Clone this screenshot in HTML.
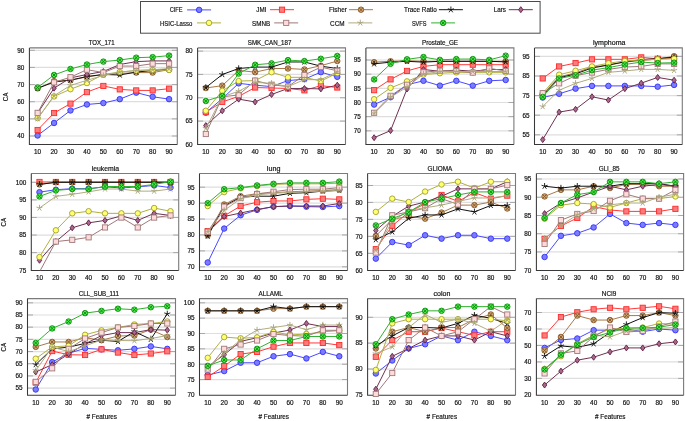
<!DOCTYPE html>
<html><head><meta charset="utf-8"><style>
html,body{margin:0;padding:0;background:#fff;}
body{width:685px;height:421px;position:relative;overflow:hidden;}
</style></head><body>
<svg width="685" height="421" viewBox="0 0 685 421" style="position:absolute;left:0;top:0;will-change:transform"><rect width="685" height="421" fill="#fff"/><g font-family='"Liberation Sans", sans-serif' fill='#111111' stroke='#111111' stroke-width='0.18'><clipPath id="c1"><rect x="29.4" y="47.9" width="147.9" height="96.5"/></clipPath><line x1="29.4" x2="177.3" y1="136.00" y2="136.00" stroke="#dedede" stroke-width="1.2"/><line x1="29.4" x2="34.9" y1="136.00" y2="136.00" stroke="#a8a8a8" stroke-width="1"/><line x1="171.8" x2="177.3" y1="136.00" y2="136.00" stroke="#a8a8a8" stroke-width="1"/><line x1="29.4" x2="177.3" y1="118.86" y2="118.86" stroke="#dedede" stroke-width="1.2"/><line x1="29.4" x2="34.9" y1="118.86" y2="118.86" stroke="#a8a8a8" stroke-width="1"/><line x1="171.8" x2="177.3" y1="118.86" y2="118.86" stroke="#a8a8a8" stroke-width="1"/><line x1="29.4" x2="177.3" y1="101.72" y2="101.72" stroke="#dedede" stroke-width="1.2"/><line x1="29.4" x2="34.9" y1="101.72" y2="101.72" stroke="#a8a8a8" stroke-width="1"/><line x1="171.8" x2="177.3" y1="101.72" y2="101.72" stroke="#a8a8a8" stroke-width="1"/><line x1="29.4" x2="177.3" y1="84.58" y2="84.58" stroke="#dedede" stroke-width="1.2"/><line x1="29.4" x2="34.9" y1="84.58" y2="84.58" stroke="#a8a8a8" stroke-width="1"/><line x1="171.8" x2="177.3" y1="84.58" y2="84.58" stroke="#a8a8a8" stroke-width="1"/><line x1="29.4" x2="177.3" y1="67.44" y2="67.44" stroke="#dedede" stroke-width="1.2"/><line x1="29.4" x2="34.9" y1="67.44" y2="67.44" stroke="#a8a8a8" stroke-width="1"/><line x1="171.8" x2="177.3" y1="67.44" y2="67.44" stroke="#a8a8a8" stroke-width="1"/><line x1="29.4" x2="177.3" y1="50.30" y2="50.30" stroke="#dedede" stroke-width="1.2"/><line x1="29.4" x2="34.9" y1="50.30" y2="50.30" stroke="#a8a8a8" stroke-width="1"/><line x1="171.8" x2="177.3" y1="50.30" y2="50.30" stroke="#a8a8a8" stroke-width="1"/><path d="M29.4 47.9H177.3V144.4" fill="none" stroke="#7a7a7a" stroke-width="1.1"/><path d="M29.4 47.9V144.4H177.3" fill="none" stroke="#383838" stroke-width="1.05"/><g><path d="M37.62 135.49L54.05 122.97L70.48 110.46L86.92 104.46L103.35 103.09L119.78 99.15L136.22 92.64L152.65 96.75L169.08 99.15" fill="none" stroke="#4a4aff" stroke-width="1.0" clip-path="url(#c1)"/><circle cx="37.62" cy="135.49" r="2.75" fill="#7c7cff" stroke="#3030ff" stroke-width="0.9"/><circle cx="54.05" cy="122.97" r="2.75" fill="#7c7cff" stroke="#3030ff" stroke-width="0.9"/><circle cx="70.48" cy="110.46" r="2.75" fill="#7c7cff" stroke="#3030ff" stroke-width="0.9"/><circle cx="86.92" cy="104.46" r="2.75" fill="#7c7cff" stroke="#3030ff" stroke-width="0.9"/><circle cx="103.35" cy="103.09" r="2.75" fill="#7c7cff" stroke="#3030ff" stroke-width="0.9"/><circle cx="119.78" cy="99.15" r="2.75" fill="#7c7cff" stroke="#3030ff" stroke-width="0.9"/><circle cx="136.22" cy="92.64" r="2.75" fill="#7c7cff" stroke="#3030ff" stroke-width="0.9"/><circle cx="152.65" cy="96.75" r="2.75" fill="#7c7cff" stroke="#3030ff" stroke-width="0.9"/><circle cx="169.08" cy="99.15" r="2.75" fill="#7c7cff" stroke="#3030ff" stroke-width="0.9"/><path d="M37.62 130.00L54.05 113.03L70.48 103.61L86.92 92.12L103.35 85.95L119.78 89.38L136.22 90.41L152.65 90.41L169.08 88.69" fill="none" stroke="#ff3a3a" stroke-width="1.0" clip-path="url(#c1)"/><rect x="35.02" y="127.40" width="5.20" height="5.20" fill="#ff7c7c" stroke="#ff2a2a" stroke-width="0.9"/><rect x="51.45" y="110.43" width="5.20" height="5.20" fill="#ff7c7c" stroke="#ff2a2a" stroke-width="0.9"/><rect x="67.88" y="101.01" width="5.20" height="5.20" fill="#ff7c7c" stroke="#ff2a2a" stroke-width="0.9"/><rect x="84.32" y="89.52" width="5.20" height="5.20" fill="#ff7c7c" stroke="#ff2a2a" stroke-width="0.9"/><rect x="100.75" y="83.35" width="5.20" height="5.20" fill="#ff7c7c" stroke="#ff2a2a" stroke-width="0.9"/><rect x="117.18" y="86.78" width="5.20" height="5.20" fill="#ff7c7c" stroke="#ff2a2a" stroke-width="0.9"/><rect x="133.62" y="87.81" width="5.20" height="5.20" fill="#ff7c7c" stroke="#ff2a2a" stroke-width="0.9"/><rect x="150.05" y="87.81" width="5.20" height="5.20" fill="#ff7c7c" stroke="#ff2a2a" stroke-width="0.9"/><rect x="166.48" y="86.09" width="5.20" height="5.20" fill="#ff7c7c" stroke="#ff2a2a" stroke-width="0.9"/><path d="M37.62 88.35L54.05 81.15L70.48 80.30L86.92 76.87L103.35 74.47L119.78 73.44L136.22 72.58L152.65 72.58L169.08 69.67" fill="none" stroke="#a87848" stroke-width="1.0" clip-path="url(#c1)"/><circle cx="37.62" cy="88.35" r="2.75" fill="#d0a878" stroke="#8a5a2a" stroke-width="0.9"/><path d="M35.64 86.37L39.60 90.33M35.64 90.33L39.60 86.37" stroke="#8a5a2a" stroke-width="1.0"/><circle cx="54.05" cy="81.15" r="2.75" fill="#d0a878" stroke="#8a5a2a" stroke-width="0.9"/><path d="M52.07 79.17L56.03 83.13M52.07 83.13L56.03 79.17" stroke="#8a5a2a" stroke-width="1.0"/><circle cx="70.48" cy="80.30" r="2.75" fill="#d0a878" stroke="#8a5a2a" stroke-width="0.9"/><path d="M68.50 78.31L72.46 82.28M68.50 82.28L72.46 78.31" stroke="#8a5a2a" stroke-width="1.0"/><circle cx="86.92" cy="76.87" r="2.75" fill="#d0a878" stroke="#8a5a2a" stroke-width="0.9"/><path d="M84.94 74.89L88.90 78.85M84.94 78.85L88.90 74.89" stroke="#8a5a2a" stroke-width="1.0"/><circle cx="103.35" cy="74.47" r="2.75" fill="#d0a878" stroke="#8a5a2a" stroke-width="0.9"/><path d="M101.37 72.49L105.33 76.45M101.37 76.45L105.33 72.49" stroke="#8a5a2a" stroke-width="1.0"/><circle cx="119.78" cy="73.44" r="2.75" fill="#d0a878" stroke="#8a5a2a" stroke-width="0.9"/><path d="M117.80 71.46L121.76 75.42M117.80 75.42L121.76 71.46" stroke="#8a5a2a" stroke-width="1.0"/><circle cx="136.22" cy="72.58" r="2.75" fill="#d0a878" stroke="#8a5a2a" stroke-width="0.9"/><path d="M134.24 70.60L138.20 74.56M134.24 74.56L138.20 70.60" stroke="#8a5a2a" stroke-width="1.0"/><circle cx="152.65" cy="72.58" r="2.75" fill="#d0a878" stroke="#8a5a2a" stroke-width="0.9"/><path d="M150.67 70.60L154.63 74.56M150.67 74.56L154.63 70.60" stroke="#8a5a2a" stroke-width="1.0"/><circle cx="169.08" cy="69.67" r="2.75" fill="#d0a878" stroke="#8a5a2a" stroke-width="0.9"/><path d="M167.10 67.69L171.06 71.65M167.10 71.65L171.06 67.69" stroke="#8a5a2a" stroke-width="1.0"/><path d="M37.62 88.35L54.05 82.01L70.48 80.12L86.92 76.52L103.35 74.47L119.78 74.98L136.22 72.07L152.65 70.53L169.08 68.98" fill="none" stroke="#111111" stroke-width="1.0" clip-path="url(#c1)"/><path d="M37.62 88.35L37.62 85.15M37.62 88.35L40.66 87.36M37.62 88.35L39.50 90.94M37.62 88.35L35.74 90.94M37.62 88.35L34.57 87.36" stroke="#111111" stroke-width="0.9" fill="none"/><path d="M54.05 82.01L54.05 78.81M54.05 82.01L57.09 81.02M54.05 82.01L55.93 84.60M54.05 82.01L52.17 84.60M54.05 82.01L51.01 81.02" stroke="#111111" stroke-width="0.9" fill="none"/><path d="M70.48 80.12L70.48 76.92M70.48 80.12L73.53 79.13M70.48 80.12L72.36 82.71M70.48 80.12L68.60 82.71M70.48 80.12L67.44 79.13" stroke="#111111" stroke-width="0.9" fill="none"/><path d="M86.92 76.52L86.92 73.32M86.92 76.52L89.96 75.54M86.92 76.52L88.80 79.11M86.92 76.52L85.04 79.11M86.92 76.52L83.87 75.54" stroke="#111111" stroke-width="0.9" fill="none"/><path d="M103.35 74.47L103.35 71.27M103.35 74.47L106.39 73.48M103.35 74.47L105.23 77.06M103.35 74.47L101.47 77.06M103.35 74.47L100.31 73.48" stroke="#111111" stroke-width="0.9" fill="none"/><path d="M119.78 74.98L119.78 71.78M119.78 74.98L122.83 73.99M119.78 74.98L121.66 77.57M119.78 74.98L117.90 77.57M119.78 74.98L116.74 73.99" stroke="#111111" stroke-width="0.9" fill="none"/><path d="M136.22 72.07L136.22 68.87M136.22 72.07L139.26 71.08M136.22 72.07L138.10 74.66M136.22 72.07L134.34 74.66M136.22 72.07L133.17 71.08" stroke="#111111" stroke-width="0.9" fill="none"/><path d="M152.65 70.53L152.65 67.33M152.65 70.53L155.69 69.54M152.65 70.53L154.53 73.11M152.65 70.53L150.77 73.11M152.65 70.53L149.61 69.54" stroke="#111111" stroke-width="0.9" fill="none"/><path d="M169.08 68.98L169.08 65.78M169.08 68.98L172.13 67.99M169.08 68.98L170.96 71.57M169.08 68.98L167.20 71.57M169.08 68.98L166.04 67.99" stroke="#111111" stroke-width="0.9" fill="none"/><path d="M37.62 113.20L54.05 88.18L70.48 77.90L86.92 74.47L103.35 71.55L119.78 64.53L136.22 61.61L152.65 60.93L169.08 60.93" fill="none" stroke="#703050" stroke-width="1.0" clip-path="url(#c1)"/><path d="M37.62 110.20L39.82 113.20L37.62 116.20L35.42 113.20Z" fill="#a86890" stroke="#602040" stroke-width="0.9"/><path d="M54.05 85.18L56.25 88.18L54.05 91.18L51.85 88.18Z" fill="#a86890" stroke="#602040" stroke-width="0.9"/><path d="M70.48 74.90L72.68 77.90L70.48 80.90L68.28 77.90Z" fill="#a86890" stroke="#602040" stroke-width="0.9"/><path d="M86.92 71.47L89.12 74.47L86.92 77.47L84.72 74.47Z" fill="#a86890" stroke="#602040" stroke-width="0.9"/><path d="M103.35 68.55L105.55 71.55L103.35 74.55L101.15 71.55Z" fill="#a86890" stroke="#602040" stroke-width="0.9"/><path d="M119.78 61.53L121.98 64.53L119.78 67.53L117.58 64.53Z" fill="#a86890" stroke="#602040" stroke-width="0.9"/><path d="M136.22 58.61L138.42 61.61L136.22 64.61L134.02 61.61Z" fill="#a86890" stroke="#602040" stroke-width="0.9"/><path d="M152.65 57.93L154.85 60.93L152.65 63.93L150.45 60.93Z" fill="#a86890" stroke="#602040" stroke-width="0.9"/><path d="M169.08 57.93L171.28 60.93L169.08 63.93L166.88 60.93Z" fill="#a86890" stroke="#602040" stroke-width="0.9"/><path d="M37.62 118.17L54.05 96.41L70.48 89.21L86.92 83.04L103.35 74.47L119.78 72.07L136.22 70.53L152.65 70.01L169.08 70.01" fill="none" stroke="#b0b040" stroke-width="1.0" clip-path="url(#c1)"/><circle cx="37.62" cy="118.17" r="2.75" fill="#ffff70" stroke="#a0a030" stroke-width="0.9"/><circle cx="54.05" cy="96.41" r="2.75" fill="#ffff70" stroke="#a0a030" stroke-width="0.9"/><circle cx="70.48" cy="89.21" r="2.75" fill="#ffff70" stroke="#a0a030" stroke-width="0.9"/><circle cx="86.92" cy="83.04" r="2.75" fill="#ffff70" stroke="#a0a030" stroke-width="0.9"/><circle cx="103.35" cy="74.47" r="2.75" fill="#ffff70" stroke="#a0a030" stroke-width="0.9"/><circle cx="119.78" cy="72.07" r="2.75" fill="#ffff70" stroke="#a0a030" stroke-width="0.9"/><circle cx="136.22" cy="70.53" r="2.75" fill="#ffff70" stroke="#a0a030" stroke-width="0.9"/><circle cx="152.65" cy="70.01" r="2.75" fill="#ffff70" stroke="#a0a030" stroke-width="0.9"/><circle cx="169.08" cy="70.01" r="2.75" fill="#ffff70" stroke="#a0a030" stroke-width="0.9"/><path d="M37.62 112.86L54.05 82.35L70.48 77.21L86.92 69.67L103.35 72.58L119.78 66.07L136.22 66.07L152.65 63.67L169.08 63.67" fill="none" stroke="#a07878" stroke-width="1.0" clip-path="url(#c1)"/><rect x="35.02" y="110.26" width="5.20" height="5.20" fill="#ffdada" stroke="#a07a7a" stroke-width="0.9"/><rect x="51.45" y="79.75" width="5.20" height="5.20" fill="#ffdada" stroke="#a07a7a" stroke-width="0.9"/><rect x="67.88" y="74.61" width="5.20" height="5.20" fill="#ffdada" stroke="#a07a7a" stroke-width="0.9"/><rect x="84.32" y="67.07" width="5.20" height="5.20" fill="#ffdada" stroke="#a07a7a" stroke-width="0.9"/><rect x="100.75" y="69.98" width="5.20" height="5.20" fill="#ffdada" stroke="#a07a7a" stroke-width="0.9"/><rect x="117.18" y="63.47" width="5.20" height="5.20" fill="#ffdada" stroke="#a07a7a" stroke-width="0.9"/><rect x="133.62" y="63.47" width="5.20" height="5.20" fill="#ffdada" stroke="#a07a7a" stroke-width="0.9"/><rect x="150.05" y="61.07" width="5.20" height="5.20" fill="#ffdada" stroke="#a07a7a" stroke-width="0.9"/><rect x="166.48" y="61.07" width="5.20" height="5.20" fill="#ffdada" stroke="#a07a7a" stroke-width="0.9"/><path d="M37.62 118.69L54.05 95.72L70.48 85.44L86.92 80.30L103.35 75.50L119.78 72.07L136.22 70.53L152.65 69.67L169.08 68.64" fill="none" stroke="#b0ac80" stroke-width="1.0" clip-path="url(#c1)"/><path d="M37.62 118.69L37.62 115.49M37.62 118.69L40.66 117.70M37.62 118.69L39.50 121.28M37.62 118.69L35.74 121.28M37.62 118.69L34.57 117.70" stroke="#a8a478" stroke-width="0.9" fill="none"/><path d="M54.05 95.72L54.05 92.52M54.05 95.72L57.09 94.73M54.05 95.72L55.93 98.31M54.05 95.72L52.17 98.31M54.05 95.72L51.01 94.73" stroke="#a8a478" stroke-width="0.9" fill="none"/><path d="M70.48 85.44L70.48 82.24M70.48 85.44L73.53 84.45M70.48 85.44L72.36 88.03M70.48 85.44L68.60 88.03M70.48 85.44L67.44 84.45" stroke="#a8a478" stroke-width="0.9" fill="none"/><path d="M86.92 80.30L86.92 77.09M86.92 80.30L89.96 79.31M86.92 80.30L88.80 82.88M86.92 80.30L85.04 82.88M86.92 80.30L83.87 79.31" stroke="#a8a478" stroke-width="0.9" fill="none"/><path d="M103.35 75.50L103.35 72.30M103.35 75.50L106.39 74.51M103.35 75.50L105.23 78.08M103.35 75.50L101.47 78.08M103.35 75.50L100.31 74.51" stroke="#a8a478" stroke-width="0.9" fill="none"/><path d="M119.78 72.07L119.78 68.87M119.78 72.07L122.83 71.08M119.78 72.07L121.66 74.66M119.78 72.07L117.90 74.66M119.78 72.07L116.74 71.08" stroke="#a8a478" stroke-width="0.9" fill="none"/><path d="M136.22 70.53L136.22 67.33M136.22 70.53L139.26 69.54M136.22 70.53L138.10 73.11M136.22 70.53L134.34 73.11M136.22 70.53L133.17 69.54" stroke="#a8a478" stroke-width="0.9" fill="none"/><path d="M152.65 69.67L152.65 66.47M152.65 69.67L155.69 68.68M152.65 69.67L154.53 72.26M152.65 69.67L150.77 72.26M152.65 69.67L149.61 68.68" stroke="#a8a478" stroke-width="0.9" fill="none"/><path d="M169.08 68.64L169.08 65.44M169.08 68.64L172.13 67.65M169.08 68.64L170.96 71.23M169.08 68.64L167.20 71.23M169.08 68.64L166.04 67.65" stroke="#a8a478" stroke-width="0.9" fill="none"/><path d="M37.62 87.49L54.05 74.98L70.48 68.98L86.92 64.53L103.35 61.61L119.78 60.07L136.22 57.67L152.65 57.16L169.08 55.61" fill="none" stroke="#30b030" stroke-width="1.0" clip-path="url(#c1)"/><circle cx="37.62" cy="87.49" r="2.75" fill="#50ea50" stroke="#0c920c" stroke-width="0.9"/><path d="M35.64 85.51L39.60 89.47M35.64 89.47L39.60 85.51" stroke="#0c920c" stroke-width="1.0"/><circle cx="54.05" cy="74.98" r="2.75" fill="#50ea50" stroke="#0c920c" stroke-width="0.9"/><path d="M52.07 73.00L56.03 76.96M52.07 76.96L56.03 73.00" stroke="#0c920c" stroke-width="1.0"/><circle cx="70.48" cy="68.98" r="2.75" fill="#50ea50" stroke="#0c920c" stroke-width="0.9"/><path d="M68.50 67.00L72.46 70.96M68.50 70.96L72.46 67.00" stroke="#0c920c" stroke-width="1.0"/><circle cx="86.92" cy="64.53" r="2.75" fill="#50ea50" stroke="#0c920c" stroke-width="0.9"/><path d="M84.94 62.55L88.90 66.51M84.94 66.51L88.90 62.55" stroke="#0c920c" stroke-width="1.0"/><circle cx="103.35" cy="61.61" r="2.75" fill="#50ea50" stroke="#0c920c" stroke-width="0.9"/><path d="M101.37 59.63L105.33 63.59M101.37 63.59L105.33 59.63" stroke="#0c920c" stroke-width="1.0"/><circle cx="119.78" cy="60.07" r="2.75" fill="#50ea50" stroke="#0c920c" stroke-width="0.9"/><path d="M117.80 58.09L121.76 62.05M117.80 62.05L121.76 58.09" stroke="#0c920c" stroke-width="1.0"/><circle cx="136.22" cy="57.67" r="2.75" fill="#50ea50" stroke="#0c920c" stroke-width="0.9"/><path d="M134.24 55.69L138.20 59.65M134.24 59.65L138.20 55.69" stroke="#0c920c" stroke-width="1.0"/><circle cx="152.65" cy="57.16" r="2.75" fill="#50ea50" stroke="#0c920c" stroke-width="0.9"/><path d="M150.67 55.18L154.63 59.14M150.67 59.14L154.63 55.18" stroke="#0c920c" stroke-width="1.0"/><circle cx="169.08" cy="55.61" r="2.75" fill="#50ea50" stroke="#0c920c" stroke-width="0.9"/><path d="M167.10 53.63L171.06 57.59M167.10 57.59L171.06 53.63" stroke="#0c920c" stroke-width="1.0"/></g><text x="24.40" y="138.30" text-anchor="end" font-size="6.4">40</text><text x="24.40" y="121.16" text-anchor="end" font-size="6.4">50</text><text x="24.40" y="104.02" text-anchor="end" font-size="6.4">60</text><text x="24.40" y="86.88" text-anchor="end" font-size="6.4">70</text><text x="24.40" y="69.74" text-anchor="end" font-size="6.4">80</text><text x="24.40" y="52.60" text-anchor="end" font-size="6.4">90</text><text x="37.62" y="154.30" text-anchor="middle" font-size="6.4">10</text><text x="54.05" y="154.30" text-anchor="middle" font-size="6.4">20</text><text x="70.48" y="154.30" text-anchor="middle" font-size="6.4">30</text><text x="86.92" y="154.30" text-anchor="middle" font-size="6.4">40</text><text x="103.35" y="154.30" text-anchor="middle" font-size="6.4">50</text><text x="119.78" y="154.30" text-anchor="middle" font-size="6.4">60</text><text x="136.22" y="154.30" text-anchor="middle" font-size="6.4">70</text><text x="152.65" y="154.30" text-anchor="middle" font-size="6.4">80</text><text x="169.08" y="154.30" text-anchor="middle" font-size="6.4">90</text><text x="101.65" y="44.90" text-anchor="middle" font-size="6.8" textLength="25.7" lengthAdjust="spacingAndGlyphs">TOX<tspan dy="-0.9">_</tspan><tspan dy="0.9">171</tspan></text><text x="0" y="0" font-size="6.8" text-anchor="middle" textLength="8.6" lengthAdjust="spacingAndGlyphs" transform="translate(7.8 97.0) rotate(-90)">CA</text><clipPath id="c2"><rect x="197.6" y="47.9" width="147.9" height="96.5"/></clipPath><line x1="197.6" x2="345.5" y1="121.08" y2="121.08" stroke="#dedede" stroke-width="1.2"/><line x1="197.6" x2="203.1" y1="121.08" y2="121.08" stroke="#a8a8a8" stroke-width="1"/><line x1="340.0" x2="345.5" y1="121.08" y2="121.08" stroke="#a8a8a8" stroke-width="1"/><line x1="197.6" x2="345.5" y1="97.75" y2="97.75" stroke="#dedede" stroke-width="1.2"/><line x1="197.6" x2="203.1" y1="97.75" y2="97.75" stroke="#a8a8a8" stroke-width="1"/><line x1="340.0" x2="345.5" y1="97.75" y2="97.75" stroke="#a8a8a8" stroke-width="1"/><line x1="197.6" x2="345.5" y1="74.43" y2="74.43" stroke="#dedede" stroke-width="1.2"/><line x1="197.6" x2="203.1" y1="74.43" y2="74.43" stroke="#a8a8a8" stroke-width="1"/><line x1="340.0" x2="345.5" y1="74.43" y2="74.43" stroke="#a8a8a8" stroke-width="1"/><line x1="197.6" x2="345.5" y1="51.10" y2="51.10" stroke="#dedede" stroke-width="1.2"/><line x1="197.6" x2="203.1" y1="51.10" y2="51.10" stroke="#a8a8a8" stroke-width="1"/><line x1="340.0" x2="345.5" y1="51.10" y2="51.10" stroke="#a8a8a8" stroke-width="1"/><path d="M197.6 47.9H345.5V144.4" fill="none" stroke="#7a7a7a" stroke-width="1.1"/><path d="M197.6 47.9V144.4H345.5" fill="none" stroke="#383838" stroke-width="1.05"/><g><path d="M205.82 112.63L222.25 98.68L238.68 83.34L255.12 85.20L271.55 86.60L287.98 80.58L304.42 79.18L320.85 72.19L337.28 76.85" fill="none" stroke="#4a4aff" stroke-width="1.0" clip-path="url(#c2)"/><circle cx="205.82" cy="112.63" r="2.75" fill="#7c7cff" stroke="#3030ff" stroke-width="0.9"/><circle cx="222.25" cy="98.68" r="2.75" fill="#7c7cff" stroke="#3030ff" stroke-width="0.9"/><circle cx="238.68" cy="83.34" r="2.75" fill="#7c7cff" stroke="#3030ff" stroke-width="0.9"/><circle cx="255.12" cy="85.20" r="2.75" fill="#7c7cff" stroke="#3030ff" stroke-width="0.9"/><circle cx="271.55" cy="86.60" r="2.75" fill="#7c7cff" stroke="#3030ff" stroke-width="0.9"/><circle cx="287.98" cy="80.58" r="2.75" fill="#7c7cff" stroke="#3030ff" stroke-width="0.9"/><circle cx="304.42" cy="79.18" r="2.75" fill="#7c7cff" stroke="#3030ff" stroke-width="0.9"/><circle cx="320.85" cy="72.19" r="2.75" fill="#7c7cff" stroke="#3030ff" stroke-width="0.9"/><circle cx="337.28" cy="76.85" r="2.75" fill="#7c7cff" stroke="#3030ff" stroke-width="0.9"/><path d="M205.82 112.16L222.25 101.95L238.68 96.35L255.12 87.53L271.55 88.00L287.98 88.47L304.42 90.33L320.85 85.67L337.28 87.53" fill="none" stroke="#ff3a3a" stroke-width="1.0" clip-path="url(#c2)"/><rect x="203.22" y="109.56" width="5.20" height="5.20" fill="#ff7c7c" stroke="#ff2a2a" stroke-width="0.9"/><rect x="219.65" y="99.35" width="5.20" height="5.20" fill="#ff7c7c" stroke="#ff2a2a" stroke-width="0.9"/><rect x="236.08" y="93.75" width="5.20" height="5.20" fill="#ff7c7c" stroke="#ff2a2a" stroke-width="0.9"/><rect x="252.52" y="84.93" width="5.20" height="5.20" fill="#ff7c7c" stroke="#ff2a2a" stroke-width="0.9"/><rect x="268.95" y="85.40" width="5.20" height="5.20" fill="#ff7c7c" stroke="#ff2a2a" stroke-width="0.9"/><rect x="285.38" y="85.87" width="5.20" height="5.20" fill="#ff7c7c" stroke="#ff2a2a" stroke-width="0.9"/><rect x="301.82" y="87.73" width="5.20" height="5.20" fill="#ff7c7c" stroke="#ff2a2a" stroke-width="0.9"/><rect x="318.25" y="83.07" width="5.20" height="5.20" fill="#ff7c7c" stroke="#ff2a2a" stroke-width="0.9"/><rect x="334.68" y="84.93" width="5.20" height="5.20" fill="#ff7c7c" stroke="#ff2a2a" stroke-width="0.9"/><path d="M205.82 88.00L222.25 85.67L238.68 70.37L255.12 72.19L271.55 68.50L287.98 68.50L304.42 69.43L320.85 65.70L337.28 61.04" fill="none" stroke="#a87848" stroke-width="1.0" clip-path="url(#c2)"/><circle cx="205.82" cy="88.00" r="2.75" fill="#d0a878" stroke="#8a5a2a" stroke-width="0.9"/><path d="M203.84 86.02L207.80 89.98M203.84 89.98L207.80 86.02" stroke="#8a5a2a" stroke-width="1.0"/><circle cx="222.25" cy="85.67" r="2.75" fill="#d0a878" stroke="#8a5a2a" stroke-width="0.9"/><path d="M220.27 83.69L224.23 87.65M220.27 87.65L224.23 83.69" stroke="#8a5a2a" stroke-width="1.0"/><circle cx="238.68" cy="70.37" r="2.75" fill="#d0a878" stroke="#8a5a2a" stroke-width="0.9"/><path d="M236.70 68.39L240.66 72.35M236.70 72.35L240.66 68.39" stroke="#8a5a2a" stroke-width="1.0"/><circle cx="255.12" cy="72.19" r="2.75" fill="#d0a878" stroke="#8a5a2a" stroke-width="0.9"/><path d="M253.14 70.21L257.10 74.17M253.14 74.17L257.10 70.21" stroke="#8a5a2a" stroke-width="1.0"/><circle cx="271.55" cy="68.50" r="2.75" fill="#d0a878" stroke="#8a5a2a" stroke-width="0.9"/><path d="M269.57 66.52L273.53 70.48M269.57 70.48L273.53 66.52" stroke="#8a5a2a" stroke-width="1.0"/><circle cx="287.98" cy="68.50" r="2.75" fill="#d0a878" stroke="#8a5a2a" stroke-width="0.9"/><path d="M286.00 66.52L289.96 70.48M286.00 70.48L289.96 66.52" stroke="#8a5a2a" stroke-width="1.0"/><circle cx="304.42" cy="69.43" r="2.75" fill="#d0a878" stroke="#8a5a2a" stroke-width="0.9"/><path d="M302.44 67.45L306.40 71.41M302.44 71.41L306.40 67.45" stroke="#8a5a2a" stroke-width="1.0"/><circle cx="320.85" cy="65.70" r="2.75" fill="#d0a878" stroke="#8a5a2a" stroke-width="0.9"/><path d="M318.87 63.72L322.83 67.68M318.87 67.68L322.83 63.72" stroke="#8a5a2a" stroke-width="1.0"/><circle cx="337.28" cy="61.04" r="2.75" fill="#d0a878" stroke="#8a5a2a" stroke-width="0.9"/><path d="M335.30 59.06L339.26 63.02M335.30 63.02L339.26 59.06" stroke="#8a5a2a" stroke-width="1.0"/><path d="M205.82 87.53L222.25 74.52L238.68 68.50L255.12 67.10L271.55 67.10L287.98 61.97L304.42 61.97L320.85 66.17L337.28 68.50" fill="none" stroke="#111111" stroke-width="1.0" clip-path="url(#c2)"/><path d="M205.82 87.53L205.82 84.33M205.82 87.53L208.86 86.54M205.82 87.53L207.70 90.12M205.82 87.53L203.94 90.12M205.82 87.53L202.77 86.54" stroke="#111111" stroke-width="0.9" fill="none"/><path d="M222.25 74.52L222.25 71.32M222.25 74.52L225.29 73.53M222.25 74.52L224.13 77.11M222.25 74.52L220.37 77.11M222.25 74.52L219.21 73.53" stroke="#111111" stroke-width="0.9" fill="none"/><path d="M238.68 68.50L238.68 65.30M238.68 68.50L241.73 67.51M238.68 68.50L240.56 71.09M238.68 68.50L236.80 71.09M238.68 68.50L235.64 67.51" stroke="#111111" stroke-width="0.9" fill="none"/><path d="M255.12 67.10L255.12 63.90M255.12 67.10L258.16 66.11M255.12 67.10L257.00 69.69M255.12 67.10L253.24 69.69M255.12 67.10L252.07 66.11" stroke="#111111" stroke-width="0.9" fill="none"/><path d="M271.55 67.10L271.55 63.90M271.55 67.10L274.59 66.11M271.55 67.10L273.43 69.69M271.55 67.10L269.67 69.69M271.55 67.10L268.51 66.11" stroke="#111111" stroke-width="0.9" fill="none"/><path d="M287.98 61.97L287.98 58.77M287.98 61.97L291.03 60.98M287.98 61.97L289.86 64.56M287.98 61.97L286.10 64.56M287.98 61.97L284.94 60.98" stroke="#111111" stroke-width="0.9" fill="none"/><path d="M304.42 61.97L304.42 58.77M304.42 61.97L307.46 60.98M304.42 61.97L306.30 64.56M304.42 61.97L302.54 64.56M304.42 61.97L301.37 60.98" stroke="#111111" stroke-width="0.9" fill="none"/><path d="M320.85 66.17L320.85 62.97M320.85 66.17L323.89 65.18M320.85 66.17L322.73 68.76M320.85 66.17L318.97 68.76M320.85 66.17L317.81 65.18" stroke="#111111" stroke-width="0.9" fill="none"/><path d="M337.28 68.50L337.28 65.30M337.28 68.50L340.33 67.51M337.28 68.50L339.16 71.09M337.28 68.50L335.40 71.09M337.28 68.50L334.24 67.51" stroke="#111111" stroke-width="0.9" fill="none"/><path d="M205.82 125.60L222.25 110.77L238.68 99.15L255.12 101.95L271.55 94.48L287.98 88.47L304.42 88.47L320.85 88.93L337.28 85.20" fill="none" stroke="#703050" stroke-width="1.0" clip-path="url(#c2)"/><path d="M205.82 122.60L208.02 125.60L205.82 128.60L203.62 125.60Z" fill="#a86890" stroke="#602040" stroke-width="0.9"/><path d="M222.25 107.77L224.45 110.77L222.25 113.77L220.05 110.77Z" fill="#a86890" stroke="#602040" stroke-width="0.9"/><path d="M238.68 96.15L240.88 99.15L238.68 102.15L236.48 99.15Z" fill="#a86890" stroke="#602040" stroke-width="0.9"/><path d="M255.12 98.95L257.32 101.95L255.12 104.95L252.92 101.95Z" fill="#a86890" stroke="#602040" stroke-width="0.9"/><path d="M271.55 91.48L273.75 94.48L271.55 97.48L269.35 94.48Z" fill="#a86890" stroke="#602040" stroke-width="0.9"/><path d="M287.98 85.47L290.18 88.47L287.98 91.47L285.78 88.47Z" fill="#a86890" stroke="#602040" stroke-width="0.9"/><path d="M304.42 85.47L306.62 88.47L304.42 91.47L302.22 88.47Z" fill="#a86890" stroke="#602040" stroke-width="0.9"/><path d="M320.85 85.93L323.05 88.93L320.85 91.93L318.65 88.93Z" fill="#a86890" stroke="#602040" stroke-width="0.9"/><path d="M337.28 82.20L339.48 85.20L337.28 88.20L335.08 85.20Z" fill="#a86890" stroke="#602040" stroke-width="0.9"/><path d="M205.82 110.77L222.25 90.80L238.68 81.05L255.12 80.58L271.55 72.19L287.98 77.32L304.42 77.32L320.85 81.05L337.28 73.12" fill="none" stroke="#b0b040" stroke-width="1.0" clip-path="url(#c2)"/><circle cx="205.82" cy="110.77" r="2.75" fill="#ffff70" stroke="#a0a030" stroke-width="0.9"/><circle cx="222.25" cy="90.80" r="2.75" fill="#ffff70" stroke="#a0a030" stroke-width="0.9"/><circle cx="238.68" cy="81.05" r="2.75" fill="#ffff70" stroke="#a0a030" stroke-width="0.9"/><circle cx="255.12" cy="80.58" r="2.75" fill="#ffff70" stroke="#a0a030" stroke-width="0.9"/><circle cx="271.55" cy="72.19" r="2.75" fill="#ffff70" stroke="#a0a030" stroke-width="0.9"/><circle cx="287.98" cy="77.32" r="2.75" fill="#ffff70" stroke="#a0a030" stroke-width="0.9"/><circle cx="304.42" cy="77.32" r="2.75" fill="#ffff70" stroke="#a0a030" stroke-width="0.9"/><circle cx="320.85" cy="81.05" r="2.75" fill="#ffff70" stroke="#a0a030" stroke-width="0.9"/><circle cx="337.28" cy="73.12" r="2.75" fill="#ffff70" stroke="#a0a030" stroke-width="0.9"/><path d="M205.82 134.00L222.25 96.82L238.68 94.95L255.12 80.58L271.55 84.73L287.98 86.60L304.42 74.98L320.85 67.10L337.28 70.79" fill="none" stroke="#a07878" stroke-width="1.0" clip-path="url(#c2)"/><rect x="203.22" y="131.40" width="5.20" height="5.20" fill="#ffdada" stroke="#a07a7a" stroke-width="0.9"/><rect x="219.65" y="94.22" width="5.20" height="5.20" fill="#ffdada" stroke="#a07a7a" stroke-width="0.9"/><rect x="236.08" y="92.35" width="5.20" height="5.20" fill="#ffdada" stroke="#a07a7a" stroke-width="0.9"/><rect x="252.52" y="77.98" width="5.20" height="5.20" fill="#ffdada" stroke="#a07a7a" stroke-width="0.9"/><rect x="268.95" y="82.13" width="5.20" height="5.20" fill="#ffdada" stroke="#a07a7a" stroke-width="0.9"/><rect x="285.38" y="84.00" width="5.20" height="5.20" fill="#ffdada" stroke="#a07a7a" stroke-width="0.9"/><rect x="301.82" y="72.38" width="5.20" height="5.20" fill="#ffdada" stroke="#a07a7a" stroke-width="0.9"/><rect x="318.25" y="64.50" width="5.20" height="5.20" fill="#ffdada" stroke="#a07a7a" stroke-width="0.9"/><rect x="334.68" y="68.19" width="5.20" height="5.20" fill="#ffdada" stroke="#a07a7a" stroke-width="0.9"/><path d="M205.82 128.40L222.25 96.82L238.68 91.27L255.12 82.40L271.55 83.34L287.98 86.60L304.42 79.65L320.85 79.65L337.28 71.72" fill="none" stroke="#b0ac80" stroke-width="1.0" clip-path="url(#c2)"/><path d="M205.82 128.40L205.82 125.20M205.82 128.40L208.86 127.41M205.82 128.40L207.70 130.99M205.82 128.40L203.94 130.99M205.82 128.40L202.77 127.41" stroke="#a8a478" stroke-width="0.9" fill="none"/><path d="M222.25 96.82L222.25 93.62M222.25 96.82L225.29 95.83M222.25 96.82L224.13 99.41M222.25 96.82L220.37 99.41M222.25 96.82L219.21 95.83" stroke="#a8a478" stroke-width="0.9" fill="none"/><path d="M238.68 91.27L238.68 88.07M238.68 91.27L241.73 90.28M238.68 91.27L240.56 93.85M238.68 91.27L236.80 93.85M238.68 91.27L235.64 90.28" stroke="#a8a478" stroke-width="0.9" fill="none"/><path d="M255.12 82.40L255.12 79.20M255.12 82.40L258.16 81.41M255.12 82.40L257.00 84.99M255.12 82.40L253.24 84.99M255.12 82.40L252.07 81.41" stroke="#a8a478" stroke-width="0.9" fill="none"/><path d="M271.55 83.34L271.55 80.14M271.55 83.34L274.59 82.35M271.55 83.34L273.43 85.92M271.55 83.34L269.67 85.92M271.55 83.34L268.51 82.35" stroke="#a8a478" stroke-width="0.9" fill="none"/><path d="M287.98 86.60L287.98 83.40M287.98 86.60L291.03 85.61M287.98 86.60L289.86 89.19M287.98 86.60L286.10 89.19M287.98 86.60L284.94 85.61" stroke="#a8a478" stroke-width="0.9" fill="none"/><path d="M304.42 79.65L304.42 76.45M304.42 79.65L307.46 78.66M304.42 79.65L306.30 82.24M304.42 79.65L302.54 82.24M304.42 79.65L301.37 78.66" stroke="#a8a478" stroke-width="0.9" fill="none"/><path d="M320.85 79.65L320.85 76.45M320.85 79.65L323.89 78.66M320.85 79.65L322.73 82.24M320.85 79.65L318.97 82.24M320.85 79.65L317.81 78.66" stroke="#a8a478" stroke-width="0.9" fill="none"/><path d="M337.28 71.72L337.28 68.52M337.28 71.72L340.33 70.73M337.28 71.72L339.16 74.31M337.28 71.72L335.40 74.31M337.28 71.72L334.24 70.73" stroke="#a8a478" stroke-width="0.9" fill="none"/><path d="M205.82 101.02L222.25 95.88L238.68 73.59L255.12 64.77L271.55 63.37L287.98 60.10L304.42 61.04L320.85 58.75L337.28 55.95" fill="none" stroke="#30b030" stroke-width="1.0" clip-path="url(#c2)"/><circle cx="205.82" cy="101.02" r="2.75" fill="#50ea50" stroke="#0c920c" stroke-width="0.9"/><path d="M203.84 99.04L207.80 103.00M203.84 103.00L207.80 99.04" stroke="#0c920c" stroke-width="1.0"/><circle cx="222.25" cy="95.88" r="2.75" fill="#50ea50" stroke="#0c920c" stroke-width="0.9"/><path d="M220.27 93.90L224.23 97.86M220.27 97.86L224.23 93.90" stroke="#0c920c" stroke-width="1.0"/><circle cx="238.68" cy="73.59" r="2.75" fill="#50ea50" stroke="#0c920c" stroke-width="0.9"/><path d="M236.70 71.61L240.66 75.57M236.70 75.57L240.66 71.61" stroke="#0c920c" stroke-width="1.0"/><circle cx="255.12" cy="64.77" r="2.75" fill="#50ea50" stroke="#0c920c" stroke-width="0.9"/><path d="M253.14 62.79L257.10 66.75M253.14 66.75L257.10 62.79" stroke="#0c920c" stroke-width="1.0"/><circle cx="271.55" cy="63.37" r="2.75" fill="#50ea50" stroke="#0c920c" stroke-width="0.9"/><path d="M269.57 61.39L273.53 65.35M269.57 65.35L273.53 61.39" stroke="#0c920c" stroke-width="1.0"/><circle cx="287.98" cy="60.10" r="2.75" fill="#50ea50" stroke="#0c920c" stroke-width="0.9"/><path d="M286.00 58.12L289.96 62.08M286.00 62.08L289.96 58.12" stroke="#0c920c" stroke-width="1.0"/><circle cx="304.42" cy="61.04" r="2.75" fill="#50ea50" stroke="#0c920c" stroke-width="0.9"/><path d="M302.44 59.06L306.40 63.02M302.44 63.02L306.40 59.06" stroke="#0c920c" stroke-width="1.0"/><circle cx="320.85" cy="58.75" r="2.75" fill="#50ea50" stroke="#0c920c" stroke-width="0.9"/><path d="M318.87 56.77L322.83 60.73M318.87 60.73L322.83 56.77" stroke="#0c920c" stroke-width="1.0"/><circle cx="337.28" cy="55.95" r="2.75" fill="#50ea50" stroke="#0c920c" stroke-width="0.9"/><path d="M335.30 53.97L339.26 57.93M335.30 57.93L339.26 53.97" stroke="#0c920c" stroke-width="1.0"/></g><text x="192.60" y="146.70" text-anchor="end" font-size="6.4">60</text><text x="192.60" y="123.38" text-anchor="end" font-size="6.4">65</text><text x="192.60" y="100.05" text-anchor="end" font-size="6.4">70</text><text x="192.60" y="76.73" text-anchor="end" font-size="6.4">75</text><text x="192.60" y="53.40" text-anchor="end" font-size="6.4">80</text><text x="205.82" y="154.30" text-anchor="middle" font-size="6.4">10</text><text x="222.25" y="154.30" text-anchor="middle" font-size="6.4">20</text><text x="238.68" y="154.30" text-anchor="middle" font-size="6.4">30</text><text x="255.12" y="154.30" text-anchor="middle" font-size="6.4">40</text><text x="271.55" y="154.30" text-anchor="middle" font-size="6.4">50</text><text x="287.98" y="154.30" text-anchor="middle" font-size="6.4">60</text><text x="304.42" y="154.30" text-anchor="middle" font-size="6.4">70</text><text x="320.85" y="154.30" text-anchor="middle" font-size="6.4">80</text><text x="337.28" y="154.30" text-anchor="middle" font-size="6.4">90</text><text x="269.60" y="44.80" text-anchor="middle" font-size="6.8" textLength="43.7" lengthAdjust="spacingAndGlyphs">SMK<tspan dy="-0.9">_</tspan><tspan dy="0.9">CAN</tspan><tspan dy="-0.9">_</tspan><tspan dy="0.9">187</tspan></text><clipPath id="c3"><rect x="365.9" y="47.9" width="148.0" height="96.5"/></clipPath><line x1="365.9" x2="513.9" y1="130.80" y2="130.80" stroke="#dedede" stroke-width="1.2"/><line x1="365.9" x2="371.4" y1="130.80" y2="130.80" stroke="#a8a8a8" stroke-width="1"/><line x1="508.4" x2="513.9" y1="130.80" y2="130.80" stroke="#a8a8a8" stroke-width="1"/><line x1="365.9" x2="513.9" y1="116.64" y2="116.64" stroke="#dedede" stroke-width="1.2"/><line x1="365.9" x2="371.4" y1="116.64" y2="116.64" stroke="#a8a8a8" stroke-width="1"/><line x1="508.4" x2="513.9" y1="116.64" y2="116.64" stroke="#a8a8a8" stroke-width="1"/><line x1="365.9" x2="513.9" y1="102.48" y2="102.48" stroke="#dedede" stroke-width="1.2"/><line x1="365.9" x2="371.4" y1="102.48" y2="102.48" stroke="#a8a8a8" stroke-width="1"/><line x1="508.4" x2="513.9" y1="102.48" y2="102.48" stroke="#a8a8a8" stroke-width="1"/><line x1="365.9" x2="513.9" y1="88.32" y2="88.32" stroke="#dedede" stroke-width="1.2"/><line x1="365.9" x2="371.4" y1="88.32" y2="88.32" stroke="#a8a8a8" stroke-width="1"/><line x1="508.4" x2="513.9" y1="88.32" y2="88.32" stroke="#a8a8a8" stroke-width="1"/><line x1="365.9" x2="513.9" y1="74.16" y2="74.16" stroke="#dedede" stroke-width="1.2"/><line x1="365.9" x2="371.4" y1="74.16" y2="74.16" stroke="#a8a8a8" stroke-width="1"/><line x1="508.4" x2="513.9" y1="74.16" y2="74.16" stroke="#a8a8a8" stroke-width="1"/><line x1="365.9" x2="513.9" y1="60.00" y2="60.00" stroke="#dedede" stroke-width="1.2"/><line x1="365.9" x2="371.4" y1="60.00" y2="60.00" stroke="#a8a8a8" stroke-width="1"/><line x1="508.4" x2="513.9" y1="60.00" y2="60.00" stroke="#a8a8a8" stroke-width="1"/><path d="M365.9 47.9H513.9V144.4" fill="none" stroke="#7a7a7a" stroke-width="1.1"/><path d="M365.9 47.9V144.4H513.9" fill="none" stroke="#383838" stroke-width="1.05"/><g><path d="M374.12 104.58L390.57 97.24L407.01 84.78L423.46 80.82L439.90 85.63L456.34 80.82L472.79 85.63L489.23 80.82L505.68 79.97" fill="none" stroke="#4a4aff" stroke-width="1.0" clip-path="url(#c3)"/><circle cx="374.12" cy="104.58" r="2.75" fill="#7c7cff" stroke="#3030ff" stroke-width="0.9"/><circle cx="390.57" cy="97.24" r="2.75" fill="#7c7cff" stroke="#3030ff" stroke-width="0.9"/><circle cx="407.01" cy="84.78" r="2.75" fill="#7c7cff" stroke="#3030ff" stroke-width="0.9"/><circle cx="423.46" cy="80.82" r="2.75" fill="#7c7cff" stroke="#3030ff" stroke-width="0.9"/><circle cx="439.90" cy="85.63" r="2.75" fill="#7c7cff" stroke="#3030ff" stroke-width="0.9"/><circle cx="456.34" cy="80.82" r="2.75" fill="#7c7cff" stroke="#3030ff" stroke-width="0.9"/><circle cx="472.79" cy="85.63" r="2.75" fill="#7c7cff" stroke="#3030ff" stroke-width="0.9"/><circle cx="489.23" cy="80.82" r="2.75" fill="#7c7cff" stroke="#3030ff" stroke-width="0.9"/><circle cx="505.68" cy="79.97" r="2.75" fill="#7c7cff" stroke="#3030ff" stroke-width="0.9"/><path d="M374.12 90.16L390.57 79.40L407.01 70.93L423.46 66.40L439.90 64.70L456.34 64.70L472.79 64.70L489.23 64.70L505.68 64.70" fill="none" stroke="#ff3a3a" stroke-width="1.0" clip-path="url(#c3)"/><rect x="371.52" y="87.56" width="5.20" height="5.20" fill="#ff7c7c" stroke="#ff2a2a" stroke-width="0.9"/><rect x="387.97" y="76.80" width="5.20" height="5.20" fill="#ff7c7c" stroke="#ff2a2a" stroke-width="0.9"/><rect x="404.41" y="68.33" width="5.20" height="5.20" fill="#ff7c7c" stroke="#ff2a2a" stroke-width="0.9"/><rect x="420.86" y="63.80" width="5.20" height="5.20" fill="#ff7c7c" stroke="#ff2a2a" stroke-width="0.9"/><rect x="437.30" y="62.10" width="5.20" height="5.20" fill="#ff7c7c" stroke="#ff2a2a" stroke-width="0.9"/><rect x="453.74" y="62.10" width="5.20" height="5.20" fill="#ff7c7c" stroke="#ff2a2a" stroke-width="0.9"/><rect x="470.19" y="62.10" width="5.20" height="5.20" fill="#ff7c7c" stroke="#ff2a2a" stroke-width="0.9"/><rect x="486.63" y="62.10" width="5.20" height="5.20" fill="#ff7c7c" stroke="#ff2a2a" stroke-width="0.9"/><rect x="503.08" y="62.10" width="5.20" height="5.20" fill="#ff7c7c" stroke="#ff2a2a" stroke-width="0.9"/><path d="M374.12 62.15L390.57 61.30L407.01 60.74L423.46 61.30L439.90 61.30L456.34 61.30L472.79 61.30L489.23 61.30L505.68 61.30" fill="none" stroke="#a87848" stroke-width="1.0" clip-path="url(#c3)"/><circle cx="374.12" cy="62.15" r="2.75" fill="#d0a878" stroke="#8a5a2a" stroke-width="0.9"/><path d="M372.14 60.17L376.10 64.13M372.14 64.13L376.10 60.17" stroke="#8a5a2a" stroke-width="1.0"/><circle cx="390.57" cy="61.30" r="2.75" fill="#d0a878" stroke="#8a5a2a" stroke-width="0.9"/><path d="M388.59 59.32L392.55 63.28M388.59 63.28L392.55 59.32" stroke="#8a5a2a" stroke-width="1.0"/><circle cx="407.01" cy="60.74" r="2.75" fill="#d0a878" stroke="#8a5a2a" stroke-width="0.9"/><path d="M405.03 58.76L408.99 62.72M405.03 62.72L408.99 58.76" stroke="#8a5a2a" stroke-width="1.0"/><circle cx="423.46" cy="61.30" r="2.75" fill="#d0a878" stroke="#8a5a2a" stroke-width="0.9"/><path d="M421.48 59.32L425.44 63.28M421.48 63.28L425.44 59.32" stroke="#8a5a2a" stroke-width="1.0"/><circle cx="439.90" cy="61.30" r="2.75" fill="#d0a878" stroke="#8a5a2a" stroke-width="0.9"/><path d="M437.92 59.32L441.88 63.28M437.92 63.28L441.88 59.32" stroke="#8a5a2a" stroke-width="1.0"/><circle cx="456.34" cy="61.30" r="2.75" fill="#d0a878" stroke="#8a5a2a" stroke-width="0.9"/><path d="M454.36 59.32L458.32 63.28M454.36 63.28L458.32 59.32" stroke="#8a5a2a" stroke-width="1.0"/><circle cx="472.79" cy="61.30" r="2.75" fill="#d0a878" stroke="#8a5a2a" stroke-width="0.9"/><path d="M470.81 59.32L474.77 63.28M470.81 63.28L474.77 59.32" stroke="#8a5a2a" stroke-width="1.0"/><circle cx="489.23" cy="61.30" r="2.75" fill="#d0a878" stroke="#8a5a2a" stroke-width="0.9"/><path d="M487.25 59.32L491.21 63.28M487.25 63.28L491.21 59.32" stroke="#8a5a2a" stroke-width="1.0"/><circle cx="505.68" cy="61.30" r="2.75" fill="#d0a878" stroke="#8a5a2a" stroke-width="0.9"/><path d="M503.70 59.32L507.66 63.28M503.70 63.28L507.66 59.32" stroke="#8a5a2a" stroke-width="1.0"/><path d="M374.12 63.85L390.57 62.15L407.01 61.30L423.46 62.15L439.90 61.30L456.34 61.30L472.79 61.30L489.23 61.30L505.68 61.87" fill="none" stroke="#111111" stroke-width="1.0" clip-path="url(#c3)"/><path d="M374.12 63.85L374.12 60.65M374.12 63.85L377.17 62.86M374.12 63.85L376.00 66.44M374.12 63.85L372.24 66.44M374.12 63.85L371.08 62.86" stroke="#111111" stroke-width="0.9" fill="none"/><path d="M390.57 62.15L390.57 58.95M390.57 62.15L393.61 61.16M390.57 62.15L392.45 64.74M390.57 62.15L388.69 64.74M390.57 62.15L387.52 61.16" stroke="#111111" stroke-width="0.9" fill="none"/><path d="M407.01 61.30L407.01 58.10M407.01 61.30L410.05 60.31M407.01 61.30L408.89 63.89M407.01 61.30L405.13 63.89M407.01 61.30L403.97 60.31" stroke="#111111" stroke-width="0.9" fill="none"/><path d="M423.46 62.15L423.46 58.95M423.46 62.15L426.50 61.16M423.46 62.15L425.34 64.74M423.46 62.15L421.57 64.74M423.46 62.15L420.41 61.16" stroke="#111111" stroke-width="0.9" fill="none"/><path d="M439.90 61.30L439.90 58.10M439.90 61.30L442.94 60.31M439.90 61.30L441.78 63.89M439.90 61.30L438.02 63.89M439.90 61.30L436.86 60.31" stroke="#111111" stroke-width="0.9" fill="none"/><path d="M456.34 61.30L456.34 58.10M456.34 61.30L459.39 60.31M456.34 61.30L458.23 63.89M456.34 61.30L454.46 63.89M456.34 61.30L453.30 60.31" stroke="#111111" stroke-width="0.9" fill="none"/><path d="M472.79 61.30L472.79 58.10M472.79 61.30L475.83 60.31M472.79 61.30L474.67 63.89M472.79 61.30L470.91 63.89M472.79 61.30L469.75 60.31" stroke="#111111" stroke-width="0.9" fill="none"/><path d="M489.23 61.30L489.23 58.10M489.23 61.30L492.28 60.31M489.23 61.30L491.11 63.89M489.23 61.30L487.35 63.89M489.23 61.30L486.19 60.31" stroke="#111111" stroke-width="0.9" fill="none"/><path d="M505.68 61.87L505.68 58.67M505.68 61.87L508.72 60.88M505.68 61.87L507.56 64.46M505.68 61.87L503.80 64.46M505.68 61.87L502.63 60.88" stroke="#111111" stroke-width="0.9" fill="none"/><path d="M374.12 137.68L390.57 130.60L407.01 89.03L423.46 69.52L439.90 71.21L456.34 70.08L472.79 71.21L489.23 69.52L505.68 69.52" fill="none" stroke="#703050" stroke-width="1.0" clip-path="url(#c3)"/><path d="M374.12 134.68L376.32 137.68L374.12 140.68L371.92 137.68Z" fill="#a86890" stroke="#602040" stroke-width="0.9"/><path d="M390.57 127.60L392.77 130.60L390.57 133.60L388.37 130.60Z" fill="#a86890" stroke="#602040" stroke-width="0.9"/><path d="M407.01 86.03L409.21 89.03L407.01 92.03L404.81 89.03Z" fill="#a86890" stroke="#602040" stroke-width="0.9"/><path d="M423.46 66.52L425.66 69.52L423.46 72.52L421.26 69.52Z" fill="#a86890" stroke="#602040" stroke-width="0.9"/><path d="M439.90 68.21L442.10 71.21L439.90 74.21L437.70 71.21Z" fill="#a86890" stroke="#602040" stroke-width="0.9"/><path d="M456.34 67.08L458.54 70.08L456.34 73.08L454.14 70.08Z" fill="#a86890" stroke="#602040" stroke-width="0.9"/><path d="M472.79 68.21L474.99 71.21L472.79 74.21L470.59 71.21Z" fill="#a86890" stroke="#602040" stroke-width="0.9"/><path d="M489.23 66.52L491.43 69.52L489.23 72.52L487.03 69.52Z" fill="#a86890" stroke="#602040" stroke-width="0.9"/><path d="M505.68 66.52L507.88 69.52L505.68 72.52L503.48 69.52Z" fill="#a86890" stroke="#602040" stroke-width="0.9"/><path d="M374.12 99.22L390.57 87.90L407.01 81.38L423.46 74.61L439.90 73.20L456.34 72.35L472.79 72.35L489.23 72.35L505.68 72.35" fill="none" stroke="#b0b040" stroke-width="1.0" clip-path="url(#c3)"/><circle cx="374.12" cy="99.22" r="2.75" fill="#ffff70" stroke="#a0a030" stroke-width="0.9"/><circle cx="390.57" cy="87.90" r="2.75" fill="#ffff70" stroke="#a0a030" stroke-width="0.9"/><circle cx="407.01" cy="81.38" r="2.75" fill="#ffff70" stroke="#a0a030" stroke-width="0.9"/><circle cx="423.46" cy="74.61" r="2.75" fill="#ffff70" stroke="#a0a030" stroke-width="0.9"/><circle cx="439.90" cy="73.20" r="2.75" fill="#ffff70" stroke="#a0a030" stroke-width="0.9"/><circle cx="456.34" cy="72.35" r="2.75" fill="#ffff70" stroke="#a0a030" stroke-width="0.9"/><circle cx="472.79" cy="72.35" r="2.75" fill="#ffff70" stroke="#a0a030" stroke-width="0.9"/><circle cx="489.23" cy="72.35" r="2.75" fill="#ffff70" stroke="#a0a030" stroke-width="0.9"/><circle cx="505.68" cy="72.35" r="2.75" fill="#ffff70" stroke="#a0a030" stroke-width="0.9"/><path d="M374.12 112.79L390.57 95.82L407.01 84.78L423.46 72.35L439.90 70.65L456.34 70.93L472.79 72.63L489.23 68.38L505.68 70.93" fill="none" stroke="#a07878" stroke-width="1.0" clip-path="url(#c3)"/><rect x="371.52" y="110.19" width="5.20" height="5.20" fill="#ffdada" stroke="#a07a7a" stroke-width="0.9"/><rect x="387.97" y="93.22" width="5.20" height="5.20" fill="#ffdada" stroke="#a07a7a" stroke-width="0.9"/><rect x="404.41" y="82.18" width="5.20" height="5.20" fill="#ffdada" stroke="#a07a7a" stroke-width="0.9"/><rect x="420.86" y="69.75" width="5.20" height="5.20" fill="#ffdada" stroke="#a07a7a" stroke-width="0.9"/><rect x="437.30" y="68.05" width="5.20" height="5.20" fill="#ffdada" stroke="#a07a7a" stroke-width="0.9"/><rect x="453.74" y="68.33" width="5.20" height="5.20" fill="#ffdada" stroke="#a07a7a" stroke-width="0.9"/><rect x="470.19" y="70.03" width="5.20" height="5.20" fill="#ffdada" stroke="#a07a7a" stroke-width="0.9"/><rect x="486.63" y="65.78" width="5.20" height="5.20" fill="#ffdada" stroke="#a07a7a" stroke-width="0.9"/><rect x="503.08" y="68.33" width="5.20" height="5.20" fill="#ffdada" stroke="#a07a7a" stroke-width="0.9"/><path d="M374.12 113.35L390.57 97.24L407.01 87.05L423.46 74.05L439.90 71.50L456.34 71.50L472.79 71.50L489.23 71.50L505.68 71.50" fill="none" stroke="#b0ac80" stroke-width="1.0" clip-path="url(#c3)"/><path d="M374.12 113.35L374.12 110.15M374.12 113.35L377.17 112.37M374.12 113.35L376.00 115.94M374.12 113.35L372.24 115.94M374.12 113.35L371.08 112.37" stroke="#a8a478" stroke-width="0.9" fill="none"/><path d="M390.57 97.24L390.57 94.04M390.57 97.24L393.61 96.25M390.57 97.24L392.45 99.83M390.57 97.24L388.69 99.83M390.57 97.24L387.52 96.25" stroke="#a8a478" stroke-width="0.9" fill="none"/><path d="M407.01 87.05L407.01 83.85M407.01 87.05L410.05 86.06M407.01 87.05L408.89 89.63M407.01 87.05L405.13 89.63M407.01 87.05L403.97 86.06" stroke="#a8a478" stroke-width="0.9" fill="none"/><path d="M423.46 74.05L423.46 70.85M423.46 74.05L426.50 73.06M423.46 74.05L425.34 76.64M423.46 74.05L421.57 76.64M423.46 74.05L420.41 73.06" stroke="#a8a478" stroke-width="0.9" fill="none"/><path d="M439.90 71.50L439.90 68.30M439.90 71.50L442.94 70.51M439.90 71.50L441.78 74.09M439.90 71.50L438.02 74.09M439.90 71.50L436.86 70.51" stroke="#a8a478" stroke-width="0.9" fill="none"/><path d="M456.34 71.50L456.34 68.30M456.34 71.50L459.39 70.51M456.34 71.50L458.23 74.09M456.34 71.50L454.46 74.09M456.34 71.50L453.30 70.51" stroke="#a8a478" stroke-width="0.9" fill="none"/><path d="M472.79 71.50L472.79 68.30M472.79 71.50L475.83 70.51M472.79 71.50L474.67 74.09M472.79 71.50L470.91 74.09M472.79 71.50L469.75 70.51" stroke="#a8a478" stroke-width="0.9" fill="none"/><path d="M489.23 71.50L489.23 68.30M489.23 71.50L492.28 70.51M489.23 71.50L491.11 74.09M489.23 71.50L487.35 74.09M489.23 71.50L486.19 70.51" stroke="#a8a478" stroke-width="0.9" fill="none"/><path d="M505.68 71.50L505.68 68.30M505.68 71.50L508.72 70.51M505.68 71.50L507.56 74.09M505.68 71.50L503.80 74.09M505.68 71.50L502.63 70.51" stroke="#a8a478" stroke-width="0.9" fill="none"/><path d="M374.12 79.40L390.57 63.85L407.01 59.32L423.46 57.08L439.90 59.89L456.34 59.07L472.79 59.07L489.23 59.89L505.68 55.67" fill="none" stroke="#30b030" stroke-width="1.0" clip-path="url(#c3)"/><circle cx="374.12" cy="79.40" r="2.75" fill="#50ea50" stroke="#0c920c" stroke-width="0.9"/><path d="M372.14 77.42L376.10 81.38M372.14 81.38L376.10 77.42" stroke="#0c920c" stroke-width="1.0"/><circle cx="390.57" cy="63.85" r="2.75" fill="#50ea50" stroke="#0c920c" stroke-width="0.9"/><path d="M388.59 61.87L392.55 65.83M388.59 65.83L392.55 61.87" stroke="#0c920c" stroke-width="1.0"/><circle cx="407.01" cy="59.32" r="2.75" fill="#50ea50" stroke="#0c920c" stroke-width="0.9"/><path d="M405.03 57.34L408.99 61.30M405.03 61.30L408.99 57.34" stroke="#0c920c" stroke-width="1.0"/><circle cx="423.46" cy="57.08" r="2.75" fill="#50ea50" stroke="#0c920c" stroke-width="0.9"/><path d="M421.48 55.10L425.44 59.06M421.48 59.06L425.44 55.10" stroke="#0c920c" stroke-width="1.0"/><circle cx="439.90" cy="59.89" r="2.75" fill="#50ea50" stroke="#0c920c" stroke-width="0.9"/><path d="M437.92 57.91L441.88 61.87M437.92 61.87L441.88 57.91" stroke="#0c920c" stroke-width="1.0"/><circle cx="456.34" cy="59.07" r="2.75" fill="#50ea50" stroke="#0c920c" stroke-width="0.9"/><path d="M454.36 57.09L458.32 61.05M454.36 61.05L458.32 57.09" stroke="#0c920c" stroke-width="1.0"/><circle cx="472.79" cy="59.07" r="2.75" fill="#50ea50" stroke="#0c920c" stroke-width="0.9"/><path d="M470.81 57.09L474.77 61.05M470.81 61.05L474.77 57.09" stroke="#0c920c" stroke-width="1.0"/><circle cx="489.23" cy="59.89" r="2.75" fill="#50ea50" stroke="#0c920c" stroke-width="0.9"/><path d="M487.25 57.91L491.21 61.87M487.25 61.87L491.21 57.91" stroke="#0c920c" stroke-width="1.0"/><circle cx="505.68" cy="55.67" r="2.75" fill="#50ea50" stroke="#0c920c" stroke-width="0.9"/><path d="M503.70 53.69L507.66 57.65M503.70 57.65L507.66 53.69" stroke="#0c920c" stroke-width="1.0"/></g><text x="360.90" y="133.10" text-anchor="end" font-size="6.4">70</text><text x="360.90" y="118.94" text-anchor="end" font-size="6.4">75</text><text x="360.90" y="104.78" text-anchor="end" font-size="6.4">80</text><text x="360.90" y="90.62" text-anchor="end" font-size="6.4">85</text><text x="360.90" y="76.46" text-anchor="end" font-size="6.4">90</text><text x="360.90" y="62.30" text-anchor="end" font-size="6.4">95</text><text x="374.12" y="154.30" text-anchor="middle" font-size="6.4">10</text><text x="390.57" y="154.30" text-anchor="middle" font-size="6.4">20</text><text x="407.01" y="154.30" text-anchor="middle" font-size="6.4">30</text><text x="423.46" y="154.30" text-anchor="middle" font-size="6.4">40</text><text x="439.90" y="154.30" text-anchor="middle" font-size="6.4">50</text><text x="456.34" y="154.30" text-anchor="middle" font-size="6.4">60</text><text x="472.79" y="154.30" text-anchor="middle" font-size="6.4">70</text><text x="489.23" y="154.30" text-anchor="middle" font-size="6.4">80</text><text x="505.68" y="154.30" text-anchor="middle" font-size="6.4">90</text><text x="440.00" y="44.80" text-anchor="middle" font-size="6.8" textLength="36.1" lengthAdjust="spacingAndGlyphs">Prostate<tspan dy="-0.9">_</tspan><tspan dy="0.9">GE</tspan></text><clipPath id="c4"><rect x="534.5" y="47.9" width="147.79999999999995" height="96.5"/></clipPath><line x1="534.5" x2="682.3" y1="134.80" y2="134.80" stroke="#dedede" stroke-width="1.2"/><line x1="534.5" x2="540.0" y1="134.80" y2="134.80" stroke="#a8a8a8" stroke-width="1"/><line x1="676.8" x2="682.3" y1="134.80" y2="134.80" stroke="#a8a8a8" stroke-width="1"/><line x1="534.5" x2="682.3" y1="115.20" y2="115.20" stroke="#dedede" stroke-width="1.2"/><line x1="534.5" x2="540.0" y1="115.20" y2="115.20" stroke="#a8a8a8" stroke-width="1"/><line x1="676.8" x2="682.3" y1="115.20" y2="115.20" stroke="#a8a8a8" stroke-width="1"/><line x1="534.5" x2="682.3" y1="95.60" y2="95.60" stroke="#dedede" stroke-width="1.2"/><line x1="534.5" x2="540.0" y1="95.60" y2="95.60" stroke="#a8a8a8" stroke-width="1"/><line x1="676.8" x2="682.3" y1="95.60" y2="95.60" stroke="#a8a8a8" stroke-width="1"/><line x1="534.5" x2="682.3" y1="76.00" y2="76.00" stroke="#dedede" stroke-width="1.2"/><line x1="534.5" x2="540.0" y1="76.00" y2="76.00" stroke="#a8a8a8" stroke-width="1"/><line x1="676.8" x2="682.3" y1="76.00" y2="76.00" stroke="#a8a8a8" stroke-width="1"/><line x1="534.5" x2="682.3" y1="56.40" y2="56.40" stroke="#dedede" stroke-width="1.2"/><line x1="534.5" x2="540.0" y1="56.40" y2="56.40" stroke="#a8a8a8" stroke-width="1"/><line x1="676.8" x2="682.3" y1="56.40" y2="56.40" stroke="#a8a8a8" stroke-width="1"/><path d="M534.5 47.9H682.3V144.4" fill="none" stroke="#7a7a7a" stroke-width="1.1"/><path d="M534.5 47.9V144.4H682.3" fill="none" stroke="#383838" stroke-width="1.05"/><g><path d="M542.71 97.52L559.13 93.78L575.56 88.66L591.98 85.92L608.40 85.92L624.82 85.92L641.24 85.92L657.67 86.70L674.09 84.92" fill="none" stroke="#4a4aff" stroke-width="1.0" clip-path="url(#c4)"/><circle cx="542.71" cy="97.52" r="2.75" fill="#7c7cff" stroke="#3030ff" stroke-width="0.9"/><circle cx="559.13" cy="93.78" r="2.75" fill="#7c7cff" stroke="#3030ff" stroke-width="0.9"/><circle cx="575.56" cy="88.66" r="2.75" fill="#7c7cff" stroke="#3030ff" stroke-width="0.9"/><circle cx="591.98" cy="85.92" r="2.75" fill="#7c7cff" stroke="#3030ff" stroke-width="0.9"/><circle cx="608.40" cy="85.92" r="2.75" fill="#7c7cff" stroke="#3030ff" stroke-width="0.9"/><circle cx="624.82" cy="85.92" r="2.75" fill="#7c7cff" stroke="#3030ff" stroke-width="0.9"/><circle cx="641.24" cy="85.92" r="2.75" fill="#7c7cff" stroke="#3030ff" stroke-width="0.9"/><circle cx="657.67" cy="86.70" r="2.75" fill="#7c7cff" stroke="#3030ff" stroke-width="0.9"/><circle cx="674.09" cy="84.92" r="2.75" fill="#7c7cff" stroke="#3030ff" stroke-width="0.9"/><path d="M542.71 78.43L559.13 66.44L575.56 63.08L591.98 59.34L608.40 59.34L624.82 59.34L641.24 57.38L657.67 58.75L674.09 57.97" fill="none" stroke="#ff3a3a" stroke-width="1.0" clip-path="url(#c4)"/><rect x="540.11" y="75.83" width="5.20" height="5.20" fill="#ff7c7c" stroke="#ff2a2a" stroke-width="0.9"/><rect x="556.53" y="63.84" width="5.20" height="5.20" fill="#ff7c7c" stroke="#ff2a2a" stroke-width="0.9"/><rect x="572.96" y="60.48" width="5.20" height="5.20" fill="#ff7c7c" stroke="#ff2a2a" stroke-width="0.9"/><rect x="589.38" y="56.74" width="5.20" height="5.20" fill="#ff7c7c" stroke="#ff2a2a" stroke-width="0.9"/><rect x="605.80" y="56.74" width="5.20" height="5.20" fill="#ff7c7c" stroke="#ff2a2a" stroke-width="0.9"/><rect x="622.22" y="56.74" width="5.20" height="5.20" fill="#ff7c7c" stroke="#ff2a2a" stroke-width="0.9"/><rect x="638.64" y="54.78" width="5.20" height="5.20" fill="#ff7c7c" stroke="#ff2a2a" stroke-width="0.9"/><rect x="655.07" y="56.15" width="5.20" height="5.20" fill="#ff7c7c" stroke="#ff2a2a" stroke-width="0.9"/><rect x="671.49" y="55.37" width="5.20" height="5.20" fill="#ff7c7c" stroke="#ff2a2a" stroke-width="0.9"/><path d="M542.71 94.56L559.13 76.86L575.56 72.92L591.98 67.02L608.40 65.06L624.82 62.10L641.24 60.54L657.67 59.14L674.09 56.20" fill="none" stroke="#a87848" stroke-width="1.0" clip-path="url(#c4)"/><circle cx="542.71" cy="94.56" r="2.75" fill="#d0a878" stroke="#8a5a2a" stroke-width="0.9"/><path d="M540.73 92.58L544.69 96.54M540.73 96.54L544.69 92.58" stroke="#8a5a2a" stroke-width="1.0"/><circle cx="559.13" cy="76.86" r="2.75" fill="#d0a878" stroke="#8a5a2a" stroke-width="0.9"/><path d="M557.15 74.88L561.11 78.84M557.15 78.84L561.11 74.88" stroke="#8a5a2a" stroke-width="1.0"/><circle cx="575.56" cy="72.92" r="2.75" fill="#d0a878" stroke="#8a5a2a" stroke-width="0.9"/><path d="M573.58 70.94L577.54 74.90M573.58 74.90L577.54 70.94" stroke="#8a5a2a" stroke-width="1.0"/><circle cx="591.98" cy="67.02" r="2.75" fill="#d0a878" stroke="#8a5a2a" stroke-width="0.9"/><path d="M590.00 65.04L593.96 69.00M590.00 69.00L593.96 65.04" stroke="#8a5a2a" stroke-width="1.0"/><circle cx="608.40" cy="65.06" r="2.75" fill="#d0a878" stroke="#8a5a2a" stroke-width="0.9"/><path d="M606.42 63.08L610.38 67.04M606.42 67.04L610.38 63.08" stroke="#8a5a2a" stroke-width="1.0"/><circle cx="624.82" cy="62.10" r="2.75" fill="#d0a878" stroke="#8a5a2a" stroke-width="0.9"/><path d="M622.84 60.12L626.80 64.08M622.84 64.08L626.80 60.12" stroke="#8a5a2a" stroke-width="1.0"/><circle cx="641.24" cy="60.54" r="2.75" fill="#d0a878" stroke="#8a5a2a" stroke-width="0.9"/><path d="M639.26 58.56L643.22 62.52M639.26 62.52L643.22 58.56" stroke="#8a5a2a" stroke-width="1.0"/><circle cx="657.67" cy="59.14" r="2.75" fill="#d0a878" stroke="#8a5a2a" stroke-width="0.9"/><path d="M655.69 57.16L659.65 61.12M655.69 61.12L659.65 57.16" stroke="#8a5a2a" stroke-width="1.0"/><circle cx="674.09" cy="56.20" r="2.75" fill="#d0a878" stroke="#8a5a2a" stroke-width="0.9"/><path d="M672.11 54.22L676.07 58.18M672.11 58.18L676.07 54.22" stroke="#8a5a2a" stroke-width="1.0"/><path d="M542.71 95.54L559.13 77.84L575.56 73.90L591.98 68.00L608.40 65.06L624.82 61.71L641.24 59.73L657.67 58.56L674.09 57.18" fill="none" stroke="#111111" stroke-width="1.0" clip-path="url(#c4)"/><path d="M542.71 95.54L542.71 92.34M542.71 95.54L545.75 94.55M542.71 95.54L544.59 98.13M542.71 95.54L540.83 98.13M542.71 95.54L539.67 94.55" stroke="#111111" stroke-width="0.9" fill="none"/><path d="M559.13 77.84L559.13 74.64M559.13 77.84L562.18 76.85M559.13 77.84L561.01 80.43M559.13 77.84L557.25 80.43M559.13 77.84L556.09 76.85" stroke="#111111" stroke-width="0.9" fill="none"/><path d="M575.56 73.90L575.56 70.70M575.56 73.90L578.60 72.91M575.56 73.90L577.44 76.49M575.56 73.90L573.67 76.49M575.56 73.90L572.51 72.91" stroke="#111111" stroke-width="0.9" fill="none"/><path d="M591.98 68.00L591.98 64.80M591.98 68.00L595.02 67.01M591.98 68.00L593.86 70.59M591.98 68.00L590.10 70.59M591.98 68.00L588.93 67.01" stroke="#111111" stroke-width="0.9" fill="none"/><path d="M608.40 65.06L608.40 61.86M608.40 65.06L611.44 64.07M608.40 65.06L610.28 67.65M608.40 65.06L606.52 67.65M608.40 65.06L605.36 64.07" stroke="#111111" stroke-width="0.9" fill="none"/><path d="M624.82 61.71L624.82 58.51M624.82 61.71L627.87 60.72M624.82 61.71L626.70 64.30M624.82 61.71L622.94 64.30M624.82 61.71L621.78 60.72" stroke="#111111" stroke-width="0.9" fill="none"/><path d="M641.24 59.73L641.24 56.53M641.24 59.73L644.29 58.74M641.24 59.73L643.13 62.32M641.24 59.73L639.36 62.32M641.24 59.73L638.20 58.74" stroke="#111111" stroke-width="0.9" fill="none"/><path d="M657.67 58.56L657.67 55.36M657.67 58.56L660.71 57.57M657.67 58.56L659.55 61.14M657.67 58.56L655.79 61.14M657.67 58.56L654.62 57.57" stroke="#111111" stroke-width="0.9" fill="none"/><path d="M674.09 57.18L674.09 53.98M674.09 57.18L677.13 56.20M674.09 57.18L675.97 59.77M674.09 57.18L672.21 59.77M674.09 57.18L671.05 56.20" stroke="#111111" stroke-width="0.9" fill="none"/><path d="M542.71 139.62L559.13 112.08L575.56 109.32L591.98 96.74L608.40 100.07L624.82 88.66L641.24 83.15L657.67 77.45L674.09 80.19" fill="none" stroke="#703050" stroke-width="1.0" clip-path="url(#c4)"/><path d="M542.71 136.62L544.91 139.62L542.71 142.62L540.51 139.62Z" fill="#a86890" stroke="#602040" stroke-width="0.9"/><path d="M559.13 109.08L561.33 112.08L559.13 115.08L556.93 112.08Z" fill="#a86890" stroke="#602040" stroke-width="0.9"/><path d="M575.56 106.32L577.76 109.32L575.56 112.32L573.36 109.32Z" fill="#a86890" stroke="#602040" stroke-width="0.9"/><path d="M591.98 93.74L594.18 96.74L591.98 99.74L589.78 96.74Z" fill="#a86890" stroke="#602040" stroke-width="0.9"/><path d="M608.40 97.07L610.60 100.07L608.40 103.07L606.20 100.07Z" fill="#a86890" stroke="#602040" stroke-width="0.9"/><path d="M624.82 85.66L627.02 88.66L624.82 91.66L622.62 88.66Z" fill="#a86890" stroke="#602040" stroke-width="0.9"/><path d="M641.24 80.15L643.44 83.15L641.24 86.15L639.04 83.15Z" fill="#a86890" stroke="#602040" stroke-width="0.9"/><path d="M657.67 74.45L659.87 77.45L657.67 80.45L655.47 77.45Z" fill="#a86890" stroke="#602040" stroke-width="0.9"/><path d="M674.09 77.19L676.29 80.19L674.09 83.19L671.89 80.19Z" fill="#a86890" stroke="#602040" stroke-width="0.9"/><path d="M542.71 93.19L559.13 74.69L575.56 70.77L591.98 66.44L608.40 63.28L624.82 60.93L641.24 59.95L657.67 59.34L674.09 58.75" fill="none" stroke="#b0b040" stroke-width="1.0" clip-path="url(#c4)"/><circle cx="542.71" cy="93.19" r="2.75" fill="#ffff70" stroke="#a0a030" stroke-width="0.9"/><circle cx="559.13" cy="74.69" r="2.75" fill="#ffff70" stroke="#a0a030" stroke-width="0.9"/><circle cx="575.56" cy="70.77" r="2.75" fill="#ffff70" stroke="#a0a030" stroke-width="0.9"/><circle cx="591.98" cy="66.44" r="2.75" fill="#ffff70" stroke="#a0a030" stroke-width="0.9"/><circle cx="608.40" cy="63.28" r="2.75" fill="#ffff70" stroke="#a0a030" stroke-width="0.9"/><circle cx="624.82" cy="60.93" r="2.75" fill="#ffff70" stroke="#a0a030" stroke-width="0.9"/><circle cx="641.24" cy="59.95" r="2.75" fill="#ffff70" stroke="#a0a030" stroke-width="0.9"/><circle cx="657.67" cy="59.34" r="2.75" fill="#ffff70" stroke="#a0a030" stroke-width="0.9"/><circle cx="674.09" cy="58.75" r="2.75" fill="#ffff70" stroke="#a0a030" stroke-width="0.9"/><path d="M542.71 93.19L559.13 83.35L575.56 75.69L591.98 72.53L608.40 69.38L624.82 67.02L641.24 66.44L657.67 63.87L674.09 63.87" fill="none" stroke="#a07878" stroke-width="1.0" clip-path="url(#c4)"/><rect x="540.11" y="90.59" width="5.20" height="5.20" fill="#ffdada" stroke="#a07a7a" stroke-width="0.9"/><rect x="556.53" y="80.75" width="5.20" height="5.20" fill="#ffdada" stroke="#a07a7a" stroke-width="0.9"/><rect x="572.96" y="73.09" width="5.20" height="5.20" fill="#ffdada" stroke="#a07a7a" stroke-width="0.9"/><rect x="589.38" y="69.93" width="5.20" height="5.20" fill="#ffdada" stroke="#a07a7a" stroke-width="0.9"/><rect x="605.80" y="66.78" width="5.20" height="5.20" fill="#ffdada" stroke="#a07a7a" stroke-width="0.9"/><rect x="622.22" y="64.42" width="5.20" height="5.20" fill="#ffdada" stroke="#a07a7a" stroke-width="0.9"/><rect x="638.64" y="63.84" width="5.20" height="5.20" fill="#ffdada" stroke="#a07a7a" stroke-width="0.9"/><rect x="655.07" y="61.27" width="5.20" height="5.20" fill="#ffdada" stroke="#a07a7a" stroke-width="0.9"/><rect x="671.49" y="61.27" width="5.20" height="5.20" fill="#ffdada" stroke="#a07a7a" stroke-width="0.9"/><path d="M542.71 106.58L559.13 90.23L575.56 83.35L591.98 78.43L608.40 72.33L624.82 70.96L641.24 69.38L657.67 69.38L674.09 70.37" fill="none" stroke="#b0ac80" stroke-width="1.0" clip-path="url(#c4)"/><path d="M542.71 106.58L542.71 103.38M542.71 106.58L545.75 105.59M542.71 106.58L544.59 109.16M542.71 106.58L540.83 109.16M542.71 106.58L539.67 105.59" stroke="#a8a478" stroke-width="0.9" fill="none"/><path d="M559.13 90.23L559.13 87.03M559.13 90.23L562.18 89.24M559.13 90.23L561.01 92.82M559.13 90.23L557.25 92.82M559.13 90.23L556.09 89.24" stroke="#a8a478" stroke-width="0.9" fill="none"/><path d="M575.56 83.35L575.56 80.15M575.56 83.35L578.60 82.36M575.56 83.35L577.44 85.94M575.56 83.35L573.67 85.94M575.56 83.35L572.51 82.36" stroke="#a8a478" stroke-width="0.9" fill="none"/><path d="M591.98 78.43L591.98 75.23M591.98 78.43L595.02 77.44M591.98 78.43L593.86 81.02M591.98 78.43L590.10 81.02M591.98 78.43L588.93 77.44" stroke="#a8a478" stroke-width="0.9" fill="none"/><path d="M608.40 72.33L608.40 69.13M608.40 72.33L611.44 71.35M608.40 72.33L610.28 74.92M608.40 72.33L606.52 74.92M608.40 72.33L605.36 71.35" stroke="#a8a478" stroke-width="0.9" fill="none"/><path d="M624.82 70.96L624.82 67.76M624.82 70.96L627.87 69.97M624.82 70.96L626.70 73.55M624.82 70.96L622.94 73.55M624.82 70.96L621.78 69.97" stroke="#a8a478" stroke-width="0.9" fill="none"/><path d="M641.24 69.38L641.24 66.18M641.24 69.38L644.29 68.39M641.24 69.38L643.13 71.96M641.24 69.38L639.36 71.96M641.24 69.38L638.20 68.39" stroke="#a8a478" stroke-width="0.9" fill="none"/><path d="M657.67 69.38L657.67 66.18M657.67 69.38L660.71 68.39M657.67 69.38L659.55 71.96M657.67 69.38L655.79 71.96M657.67 69.38L654.62 68.39" stroke="#a8a478" stroke-width="0.9" fill="none"/><path d="M674.09 70.37L674.09 67.17M674.09 70.37L677.13 69.39M674.09 70.37L675.97 72.96M674.09 70.37L672.21 72.96M674.09 70.37L671.05 69.39" stroke="#a8a478" stroke-width="0.9" fill="none"/><path d="M542.71 96.93L559.13 78.43L575.56 75.29L591.98 70.18L608.40 67.61L624.82 64.46L641.24 62.10L657.67 63.08L674.09 62.67" fill="none" stroke="#30b030" stroke-width="1.0" clip-path="url(#c4)"/><circle cx="542.71" cy="96.93" r="2.75" fill="#50ea50" stroke="#0c920c" stroke-width="0.9"/><path d="M540.73 94.95L544.69 98.91M540.73 98.91L544.69 94.95" stroke="#0c920c" stroke-width="1.0"/><circle cx="559.13" cy="78.43" r="2.75" fill="#50ea50" stroke="#0c920c" stroke-width="0.9"/><path d="M557.15 76.45L561.11 80.41M557.15 80.41L561.11 76.45" stroke="#0c920c" stroke-width="1.0"/><circle cx="575.56" cy="75.29" r="2.75" fill="#50ea50" stroke="#0c920c" stroke-width="0.9"/><path d="M573.58 73.31L577.54 77.27M573.58 77.27L577.54 73.31" stroke="#0c920c" stroke-width="1.0"/><circle cx="591.98" cy="70.18" r="2.75" fill="#50ea50" stroke="#0c920c" stroke-width="0.9"/><path d="M590.00 68.20L593.96 72.16M590.00 72.16L593.96 68.20" stroke="#0c920c" stroke-width="1.0"/><circle cx="608.40" cy="67.61" r="2.75" fill="#50ea50" stroke="#0c920c" stroke-width="0.9"/><path d="M606.42 65.63L610.38 69.59M606.42 69.59L610.38 65.63" stroke="#0c920c" stroke-width="1.0"/><circle cx="624.82" cy="64.46" r="2.75" fill="#50ea50" stroke="#0c920c" stroke-width="0.9"/><path d="M622.84 62.48L626.80 66.44M622.84 66.44L626.80 62.48" stroke="#0c920c" stroke-width="1.0"/><circle cx="641.24" cy="62.10" r="2.75" fill="#50ea50" stroke="#0c920c" stroke-width="0.9"/><path d="M639.26 60.12L643.22 64.08M639.26 64.08L643.22 60.12" stroke="#0c920c" stroke-width="1.0"/><circle cx="657.67" cy="63.08" r="2.75" fill="#50ea50" stroke="#0c920c" stroke-width="0.9"/><path d="M655.69 61.10L659.65 65.06M655.69 65.06L659.65 61.10" stroke="#0c920c" stroke-width="1.0"/><circle cx="674.09" cy="62.67" r="2.75" fill="#50ea50" stroke="#0c920c" stroke-width="0.9"/><path d="M672.11 60.69L676.07 64.65M672.11 64.65L676.07 60.69" stroke="#0c920c" stroke-width="1.0"/></g><text x="529.50" y="137.10" text-anchor="end" font-size="6.4">55</text><text x="529.50" y="117.50" text-anchor="end" font-size="6.4">65</text><text x="529.50" y="97.90" text-anchor="end" font-size="6.4">75</text><text x="529.50" y="78.30" text-anchor="end" font-size="6.4">85</text><text x="529.50" y="58.70" text-anchor="end" font-size="6.4">95</text><text x="542.71" y="154.30" text-anchor="middle" font-size="6.4">10</text><text x="559.13" y="154.30" text-anchor="middle" font-size="6.4">20</text><text x="575.56" y="154.30" text-anchor="middle" font-size="6.4">30</text><text x="591.98" y="154.30" text-anchor="middle" font-size="6.4">40</text><text x="608.40" y="154.30" text-anchor="middle" font-size="6.4">50</text><text x="624.82" y="154.30" text-anchor="middle" font-size="6.4">60</text><text x="641.24" y="154.30" text-anchor="middle" font-size="6.4">70</text><text x="657.67" y="154.30" text-anchor="middle" font-size="6.4">80</text><text x="674.09" y="154.30" text-anchor="middle" font-size="6.4">90</text><text x="609.20" y="44.80" text-anchor="middle" font-size="6.8" textLength="32.5" lengthAdjust="spacingAndGlyphs">lymphoma</text><clipPath id="c5"><rect x="31.3" y="173.5" width="147.39999999999998" height="97.0"/></clipPath><line x1="31.3" x2="178.7" y1="252.62" y2="252.62" stroke="#dedede" stroke-width="1.2"/><line x1="31.3" x2="36.8" y1="252.62" y2="252.62" stroke="#a8a8a8" stroke-width="1"/><line x1="173.2" x2="178.7" y1="252.62" y2="252.62" stroke="#a8a8a8" stroke-width="1"/><line x1="31.3" x2="178.7" y1="235.04" y2="235.04" stroke="#dedede" stroke-width="1.2"/><line x1="31.3" x2="36.8" y1="235.04" y2="235.04" stroke="#a8a8a8" stroke-width="1"/><line x1="173.2" x2="178.7" y1="235.04" y2="235.04" stroke="#a8a8a8" stroke-width="1"/><line x1="31.3" x2="178.7" y1="217.46" y2="217.46" stroke="#dedede" stroke-width="1.2"/><line x1="31.3" x2="36.8" y1="217.46" y2="217.46" stroke="#a8a8a8" stroke-width="1"/><line x1="173.2" x2="178.7" y1="217.46" y2="217.46" stroke="#a8a8a8" stroke-width="1"/><line x1="31.3" x2="178.7" y1="199.88" y2="199.88" stroke="#dedede" stroke-width="1.2"/><line x1="31.3" x2="36.8" y1="199.88" y2="199.88" stroke="#a8a8a8" stroke-width="1"/><line x1="173.2" x2="178.7" y1="199.88" y2="199.88" stroke="#a8a8a8" stroke-width="1"/><line x1="31.3" x2="178.7" y1="182.30" y2="182.30" stroke="#dedede" stroke-width="1.2"/><line x1="31.3" x2="36.8" y1="182.30" y2="182.30" stroke="#a8a8a8" stroke-width="1"/><line x1="173.2" x2="178.7" y1="182.30" y2="182.30" stroke="#a8a8a8" stroke-width="1"/><path d="M31.3 173.5H178.7V270.5" fill="none" stroke="#7a7a7a" stroke-width="1.1"/><path d="M31.3 173.5V270.5H178.7" fill="none" stroke="#383838" stroke-width="1.05"/><g><path d="M39.49 192.18L55.87 189.72L72.24 188.66L88.62 188.66L105.00 186.87L121.38 187.96L137.76 186.87L154.13 185.46L170.51 187.61" fill="none" stroke="#4a4aff" stroke-width="1.0" clip-path="url(#c5)"/><circle cx="39.49" cy="192.18" r="2.75" fill="#7c7cff" stroke="#3030ff" stroke-width="0.9"/><circle cx="55.87" cy="189.72" r="2.75" fill="#7c7cff" stroke="#3030ff" stroke-width="0.9"/><circle cx="72.24" cy="188.66" r="2.75" fill="#7c7cff" stroke="#3030ff" stroke-width="0.9"/><circle cx="88.62" cy="188.66" r="2.75" fill="#7c7cff" stroke="#3030ff" stroke-width="0.9"/><circle cx="105.00" cy="186.87" r="2.75" fill="#7c7cff" stroke="#3030ff" stroke-width="0.9"/><circle cx="121.38" cy="187.96" r="2.75" fill="#7c7cff" stroke="#3030ff" stroke-width="0.9"/><circle cx="137.76" cy="186.87" r="2.75" fill="#7c7cff" stroke="#3030ff" stroke-width="0.9"/><circle cx="154.13" cy="185.46" r="2.75" fill="#7c7cff" stroke="#3030ff" stroke-width="0.9"/><circle cx="170.51" cy="187.61" r="2.75" fill="#7c7cff" stroke="#3030ff" stroke-width="0.9"/><path d="M39.49 181.95L55.87 181.95L72.24 181.95L88.62 181.95L105.00 181.95L121.38 181.95L137.76 181.95L154.13 181.95L170.51 181.95" fill="none" stroke="#ff3a3a" stroke-width="1.0" clip-path="url(#c5)"/><rect x="36.89" y="179.35" width="5.20" height="5.20" fill="#ff7c7c" stroke="#ff2a2a" stroke-width="0.9"/><rect x="53.27" y="179.35" width="5.20" height="5.20" fill="#ff7c7c" stroke="#ff2a2a" stroke-width="0.9"/><rect x="69.64" y="179.35" width="5.20" height="5.20" fill="#ff7c7c" stroke="#ff2a2a" stroke-width="0.9"/><rect x="86.02" y="179.35" width="5.20" height="5.20" fill="#ff7c7c" stroke="#ff2a2a" stroke-width="0.9"/><rect x="102.40" y="179.35" width="5.20" height="5.20" fill="#ff7c7c" stroke="#ff2a2a" stroke-width="0.9"/><rect x="118.78" y="179.35" width="5.20" height="5.20" fill="#ff7c7c" stroke="#ff2a2a" stroke-width="0.9"/><rect x="135.16" y="179.35" width="5.20" height="5.20" fill="#ff7c7c" stroke="#ff2a2a" stroke-width="0.9"/><rect x="151.53" y="179.35" width="5.20" height="5.20" fill="#ff7c7c" stroke="#ff2a2a" stroke-width="0.9"/><rect x="167.91" y="179.35" width="5.20" height="5.20" fill="#ff7c7c" stroke="#ff2a2a" stroke-width="0.9"/><path d="M39.49 184.41L55.87 182.30L72.24 182.30L88.62 182.30L105.00 182.30L121.38 182.30L137.76 182.30L154.13 182.30L170.51 182.30" fill="none" stroke="#a87848" stroke-width="1.0" clip-path="url(#c5)"/><circle cx="39.49" cy="184.41" r="2.75" fill="#d0a878" stroke="#8a5a2a" stroke-width="0.9"/><path d="M37.51 182.43L41.47 186.39M37.51 186.39L41.47 182.43" stroke="#8a5a2a" stroke-width="1.0"/><circle cx="55.87" cy="182.30" r="2.75" fill="#d0a878" stroke="#8a5a2a" stroke-width="0.9"/><path d="M53.89 180.32L57.85 184.28M53.89 184.28L57.85 180.32" stroke="#8a5a2a" stroke-width="1.0"/><circle cx="72.24" cy="182.30" r="2.75" fill="#d0a878" stroke="#8a5a2a" stroke-width="0.9"/><path d="M70.26 180.32L74.22 184.28M70.26 184.28L74.22 180.32" stroke="#8a5a2a" stroke-width="1.0"/><circle cx="88.62" cy="182.30" r="2.75" fill="#d0a878" stroke="#8a5a2a" stroke-width="0.9"/><path d="M86.64 180.32L90.60 184.28M86.64 184.28L90.60 180.32" stroke="#8a5a2a" stroke-width="1.0"/><circle cx="105.00" cy="182.30" r="2.75" fill="#d0a878" stroke="#8a5a2a" stroke-width="0.9"/><path d="M103.02 180.32L106.98 184.28M103.02 184.28L106.98 180.32" stroke="#8a5a2a" stroke-width="1.0"/><circle cx="121.38" cy="182.30" r="2.75" fill="#d0a878" stroke="#8a5a2a" stroke-width="0.9"/><path d="M119.40 180.32L123.36 184.28M119.40 184.28L123.36 180.32" stroke="#8a5a2a" stroke-width="1.0"/><circle cx="137.76" cy="182.30" r="2.75" fill="#d0a878" stroke="#8a5a2a" stroke-width="0.9"/><path d="M135.78 180.32L139.74 184.28M135.78 184.28L139.74 180.32" stroke="#8a5a2a" stroke-width="1.0"/><circle cx="154.13" cy="182.30" r="2.75" fill="#d0a878" stroke="#8a5a2a" stroke-width="0.9"/><path d="M152.15 180.32L156.11 184.28M152.15 184.28L156.11 180.32" stroke="#8a5a2a" stroke-width="1.0"/><circle cx="170.51" cy="182.30" r="2.75" fill="#d0a878" stroke="#8a5a2a" stroke-width="0.9"/><path d="M168.53 180.32L172.49 184.28M168.53 184.28L172.49 180.32" stroke="#8a5a2a" stroke-width="1.0"/><path d="M39.49 184.41L55.87 182.30L72.24 182.30L88.62 182.30L105.00 182.30L121.38 182.30L137.76 182.30L154.13 182.30L170.51 182.30" fill="none" stroke="#111111" stroke-width="1.0" clip-path="url(#c5)"/><path d="M39.49 184.41L39.49 181.21M39.49 184.41L42.53 183.42M39.49 184.41L41.37 187.00M39.49 184.41L37.61 187.00M39.49 184.41L36.45 183.42" stroke="#111111" stroke-width="0.9" fill="none"/><path d="M55.87 182.30L55.87 179.10M55.87 182.30L58.91 181.31M55.87 182.30L57.75 184.89M55.87 182.30L53.99 184.89M55.87 182.30L52.82 181.31" stroke="#111111" stroke-width="0.9" fill="none"/><path d="M72.24 182.30L72.24 179.10M72.24 182.30L75.29 181.31M72.24 182.30L74.13 184.89M72.24 182.30L70.36 184.89M72.24 182.30L69.20 181.31" stroke="#111111" stroke-width="0.9" fill="none"/><path d="M88.62 182.30L88.62 179.10M88.62 182.30L91.67 181.31M88.62 182.30L90.50 184.89M88.62 182.30L86.74 184.89M88.62 182.30L85.58 181.31" stroke="#111111" stroke-width="0.9" fill="none"/><path d="M105.00 182.30L105.00 179.10M105.00 182.30L108.04 181.31M105.00 182.30L106.88 184.89M105.00 182.30L103.12 184.89M105.00 182.30L101.96 181.31" stroke="#111111" stroke-width="0.9" fill="none"/><path d="M121.38 182.30L121.38 179.10M121.38 182.30L124.42 181.31M121.38 182.30L123.26 184.89M121.38 182.30L119.50 184.89M121.38 182.30L118.33 181.31" stroke="#111111" stroke-width="0.9" fill="none"/><path d="M137.76 182.30L137.76 179.10M137.76 182.30L140.80 181.31M137.76 182.30L139.64 184.89M137.76 182.30L135.87 184.89M137.76 182.30L134.71 181.31" stroke="#111111" stroke-width="0.9" fill="none"/><path d="M154.13 182.30L154.13 179.10M154.13 182.30L157.18 181.31M154.13 182.30L156.01 184.89M154.13 182.30L152.25 184.89M154.13 182.30L151.09 181.31" stroke="#111111" stroke-width="0.9" fill="none"/><path d="M170.51 182.30L170.51 179.10M170.51 182.30L173.55 181.31M170.51 182.30L172.39 184.89M170.51 182.30L168.63 184.89M170.51 182.30L167.47 181.31" stroke="#111111" stroke-width="0.9" fill="none"/><path d="M39.49 260.28L55.87 241.58L72.24 227.80L88.62 222.87L105.00 220.41L121.38 215.81L137.76 220.41L154.13 213.35L170.51 215.46" fill="none" stroke="#703050" stroke-width="1.0" clip-path="url(#c5)"/><path d="M39.49 257.28L41.69 260.28L39.49 263.28L37.29 260.28Z" fill="#a86890" stroke="#602040" stroke-width="0.9"/><path d="M55.87 238.58L58.07 241.58L55.87 244.58L53.67 241.58Z" fill="#a86890" stroke="#602040" stroke-width="0.9"/><path d="M72.24 224.80L74.44 227.80L72.24 230.80L70.04 227.80Z" fill="#a86890" stroke="#602040" stroke-width="0.9"/><path d="M88.62 219.87L90.82 222.87L88.62 225.87L86.42 222.87Z" fill="#a86890" stroke="#602040" stroke-width="0.9"/><path d="M105.00 217.41L107.20 220.41L105.00 223.41L102.80 220.41Z" fill="#a86890" stroke="#602040" stroke-width="0.9"/><path d="M121.38 212.81L123.58 215.81L121.38 218.81L119.18 215.81Z" fill="#a86890" stroke="#602040" stroke-width="0.9"/><path d="M137.76 217.41L139.96 220.41L137.76 223.41L135.56 220.41Z" fill="#a86890" stroke="#602040" stroke-width="0.9"/><path d="M154.13 210.35L156.33 213.35L154.13 216.35L151.93 213.35Z" fill="#a86890" stroke="#602040" stroke-width="0.9"/><path d="M170.51 212.46L172.71 215.46L170.51 218.46L168.31 215.46Z" fill="#a86890" stroke="#602040" stroke-width="0.9"/><path d="M39.49 257.09L55.87 230.29L72.24 213.35L88.62 211.24L105.00 213.35L121.38 213.35L137.76 213.35L154.13 208.04L170.51 211.24" fill="none" stroke="#b0b040" stroke-width="1.0" clip-path="url(#c5)"/><circle cx="39.49" cy="257.09" r="2.75" fill="#ffff70" stroke="#a0a030" stroke-width="0.9"/><circle cx="55.87" cy="230.29" r="2.75" fill="#ffff70" stroke="#a0a030" stroke-width="0.9"/><circle cx="72.24" cy="213.35" r="2.75" fill="#ffff70" stroke="#a0a030" stroke-width="0.9"/><circle cx="88.62" cy="211.24" r="2.75" fill="#ffff70" stroke="#a0a030" stroke-width="0.9"/><circle cx="105.00" cy="213.35" r="2.75" fill="#ffff70" stroke="#a0a030" stroke-width="0.9"/><circle cx="121.38" cy="213.35" r="2.75" fill="#ffff70" stroke="#a0a030" stroke-width="0.9"/><circle cx="137.76" cy="213.35" r="2.75" fill="#ffff70" stroke="#a0a030" stroke-width="0.9"/><circle cx="154.13" cy="208.04" r="2.75" fill="#ffff70" stroke="#a0a030" stroke-width="0.9"/><circle cx="170.51" cy="211.24" r="2.75" fill="#ffff70" stroke="#a0a030" stroke-width="0.9"/><path d="M39.49 271.92L55.87 241.58L72.24 239.82L88.62 237.33L105.00 227.45L121.38 217.57L137.76 227.45L154.13 217.57L170.51 215.46" fill="none" stroke="#a07878" stroke-width="1.0" clip-path="url(#c5)"/><rect x="53.27" y="238.98" width="5.20" height="5.20" fill="#ffdada" stroke="#a07a7a" stroke-width="0.9"/><rect x="69.64" y="237.22" width="5.20" height="5.20" fill="#ffdada" stroke="#a07a7a" stroke-width="0.9"/><rect x="86.02" y="234.73" width="5.20" height="5.20" fill="#ffdada" stroke="#a07a7a" stroke-width="0.9"/><rect x="102.40" y="224.85" width="5.20" height="5.20" fill="#ffdada" stroke="#a07a7a" stroke-width="0.9"/><rect x="118.78" y="214.97" width="5.20" height="5.20" fill="#ffdada" stroke="#a07a7a" stroke-width="0.9"/><rect x="135.16" y="224.85" width="5.20" height="5.20" fill="#ffdada" stroke="#a07a7a" stroke-width="0.9"/><rect x="151.53" y="214.97" width="5.20" height="5.20" fill="#ffdada" stroke="#a07a7a" stroke-width="0.9"/><rect x="167.91" y="212.86" width="5.20" height="5.20" fill="#ffdada" stroke="#a07a7a" stroke-width="0.9"/><path d="M39.49 208.04L55.87 196.40L72.24 194.29L88.62 191.83L105.00 189.02L121.38 189.02L137.76 191.13L154.13 191.13L170.51 189.02" fill="none" stroke="#b0ac80" stroke-width="1.0" clip-path="url(#c5)"/><path d="M39.49 208.04L39.49 204.84M39.49 208.04L42.53 207.05M39.49 208.04L41.37 210.63M39.49 208.04L37.61 210.63M39.49 208.04L36.45 207.05" stroke="#a8a478" stroke-width="0.9" fill="none"/><path d="M55.87 196.40L55.87 193.20M55.87 196.40L58.91 195.41M55.87 196.40L57.75 198.99M55.87 196.40L53.99 198.99M55.87 196.40L52.82 195.41" stroke="#a8a478" stroke-width="0.9" fill="none"/><path d="M72.24 194.29L72.24 191.09M72.24 194.29L75.29 193.30M72.24 194.29L74.13 196.88M72.24 194.29L70.36 196.88M72.24 194.29L69.20 193.30" stroke="#a8a478" stroke-width="0.9" fill="none"/><path d="M88.62 191.83L88.62 188.63M88.62 191.83L91.67 190.84M88.62 191.83L90.50 194.42M88.62 191.83L86.74 194.42M88.62 191.83L85.58 190.84" stroke="#a8a478" stroke-width="0.9" fill="none"/><path d="M105.00 189.02L105.00 185.82M105.00 189.02L108.04 188.03M105.00 189.02L106.88 191.60M105.00 189.02L103.12 191.60M105.00 189.02L101.96 188.03" stroke="#a8a478" stroke-width="0.9" fill="none"/><path d="M121.38 189.02L121.38 185.82M121.38 189.02L124.42 188.03M121.38 189.02L123.26 191.60M121.38 189.02L119.50 191.60M121.38 189.02L118.33 188.03" stroke="#a8a478" stroke-width="0.9" fill="none"/><path d="M137.76 191.13L137.76 187.93M137.76 191.13L140.80 190.14M137.76 191.13L139.64 193.71M137.76 191.13L135.87 193.71M137.76 191.13L134.71 190.14" stroke="#a8a478" stroke-width="0.9" fill="none"/><path d="M154.13 191.13L154.13 187.93M154.13 191.13L157.18 190.14M154.13 191.13L156.01 193.71M154.13 191.13L152.25 193.71M154.13 191.13L151.09 190.14" stroke="#a8a478" stroke-width="0.9" fill="none"/><path d="M170.51 189.02L170.51 185.82M170.51 189.02L173.55 188.03M170.51 189.02L172.39 191.60M170.51 189.02L168.63 191.60M170.51 189.02L167.47 188.03" stroke="#a8a478" stroke-width="0.9" fill="none"/><path d="M39.49 196.40L55.87 190.42L72.24 189.02L88.62 189.02L105.00 186.52L121.38 186.52L137.76 186.52L154.13 184.41L170.51 181.60" fill="none" stroke="#30b030" stroke-width="1.0" clip-path="url(#c5)"/><circle cx="39.49" cy="196.40" r="2.75" fill="#50ea50" stroke="#0c920c" stroke-width="0.9"/><path d="M37.51 194.42L41.47 198.38M37.51 198.38L41.47 194.42" stroke="#0c920c" stroke-width="1.0"/><circle cx="55.87" cy="190.42" r="2.75" fill="#50ea50" stroke="#0c920c" stroke-width="0.9"/><path d="M53.89 188.44L57.85 192.40M53.89 192.40L57.85 188.44" stroke="#0c920c" stroke-width="1.0"/><circle cx="72.24" cy="189.02" r="2.75" fill="#50ea50" stroke="#0c920c" stroke-width="0.9"/><path d="M70.26 187.04L74.22 191.00M70.26 191.00L74.22 187.04" stroke="#0c920c" stroke-width="1.0"/><circle cx="88.62" cy="189.02" r="2.75" fill="#50ea50" stroke="#0c920c" stroke-width="0.9"/><path d="M86.64 187.04L90.60 191.00M86.64 191.00L90.60 187.04" stroke="#0c920c" stroke-width="1.0"/><circle cx="105.00" cy="186.52" r="2.75" fill="#50ea50" stroke="#0c920c" stroke-width="0.9"/><path d="M103.02 184.54L106.98 188.50M103.02 188.50L106.98 184.54" stroke="#0c920c" stroke-width="1.0"/><circle cx="121.38" cy="186.52" r="2.75" fill="#50ea50" stroke="#0c920c" stroke-width="0.9"/><path d="M119.40 184.54L123.36 188.50M119.40 188.50L123.36 184.54" stroke="#0c920c" stroke-width="1.0"/><circle cx="137.76" cy="186.52" r="2.75" fill="#50ea50" stroke="#0c920c" stroke-width="0.9"/><path d="M135.78 184.54L139.74 188.50M135.78 188.50L139.74 184.54" stroke="#0c920c" stroke-width="1.0"/><circle cx="154.13" cy="184.41" r="2.75" fill="#50ea50" stroke="#0c920c" stroke-width="0.9"/><path d="M152.15 182.43L156.11 186.39M152.15 186.39L156.11 182.43" stroke="#0c920c" stroke-width="1.0"/><circle cx="170.51" cy="181.60" r="2.75" fill="#50ea50" stroke="#0c920c" stroke-width="0.9"/><path d="M168.53 179.62L172.49 183.58M168.53 183.58L172.49 179.62" stroke="#0c920c" stroke-width="1.0"/></g><text x="26.30" y="272.50" text-anchor="end" font-size="6.4">75</text><text x="26.30" y="254.92" text-anchor="end" font-size="6.4">80</text><text x="26.30" y="237.34" text-anchor="end" font-size="6.4">85</text><text x="26.30" y="219.76" text-anchor="end" font-size="6.4">90</text><text x="26.30" y="202.18" text-anchor="end" font-size="6.4">95</text><text x="26.30" y="184.60" text-anchor="end" font-size="6.4">100</text><text x="39.49" y="280.40" text-anchor="middle" font-size="6.4">10</text><text x="55.87" y="280.40" text-anchor="middle" font-size="6.4">20</text><text x="72.24" y="280.40" text-anchor="middle" font-size="6.4">30</text><text x="88.62" y="280.40" text-anchor="middle" font-size="6.4">40</text><text x="105.00" y="280.40" text-anchor="middle" font-size="6.4">50</text><text x="121.38" y="280.40" text-anchor="middle" font-size="6.4">60</text><text x="137.76" y="280.40" text-anchor="middle" font-size="6.4">70</text><text x="154.13" y="280.40" text-anchor="middle" font-size="6.4">80</text><text x="170.51" y="280.40" text-anchor="middle" font-size="6.4">90</text><text x="105.40" y="171.00" text-anchor="middle" font-size="6.8" textLength="27.4" lengthAdjust="spacingAndGlyphs">leukemia</text><text x="0" y="0" font-size="6.8" text-anchor="middle" textLength="8.6" lengthAdjust="spacingAndGlyphs" transform="translate(5.9 222.2) rotate(-90)">CA</text><clipPath id="c6"><rect x="199.5" y="173.5" width="148.0" height="97.0"/></clipPath><line x1="199.5" x2="347.5" y1="266.80" y2="266.80" stroke="#dedede" stroke-width="1.2"/><line x1="199.5" x2="205.0" y1="266.80" y2="266.80" stroke="#a8a8a8" stroke-width="1"/><line x1="342.0" x2="347.5" y1="266.80" y2="266.80" stroke="#a8a8a8" stroke-width="1"/><line x1="199.5" x2="347.5" y1="250.88" y2="250.88" stroke="#dedede" stroke-width="1.2"/><line x1="199.5" x2="205.0" y1="250.88" y2="250.88" stroke="#a8a8a8" stroke-width="1"/><line x1="342.0" x2="347.5" y1="250.88" y2="250.88" stroke="#a8a8a8" stroke-width="1"/><line x1="199.5" x2="347.5" y1="234.96" y2="234.96" stroke="#dedede" stroke-width="1.2"/><line x1="199.5" x2="205.0" y1="234.96" y2="234.96" stroke="#a8a8a8" stroke-width="1"/><line x1="342.0" x2="347.5" y1="234.96" y2="234.96" stroke="#a8a8a8" stroke-width="1"/><line x1="199.5" x2="347.5" y1="219.04" y2="219.04" stroke="#dedede" stroke-width="1.2"/><line x1="199.5" x2="205.0" y1="219.04" y2="219.04" stroke="#a8a8a8" stroke-width="1"/><line x1="342.0" x2="347.5" y1="219.04" y2="219.04" stroke="#a8a8a8" stroke-width="1"/><line x1="199.5" x2="347.5" y1="203.12" y2="203.12" stroke="#dedede" stroke-width="1.2"/><line x1="199.5" x2="205.0" y1="203.12" y2="203.12" stroke="#a8a8a8" stroke-width="1"/><line x1="342.0" x2="347.5" y1="203.12" y2="203.12" stroke="#a8a8a8" stroke-width="1"/><line x1="199.5" x2="347.5" y1="187.20" y2="187.20" stroke="#dedede" stroke-width="1.2"/><line x1="199.5" x2="205.0" y1="187.20" y2="187.20" stroke="#a8a8a8" stroke-width="1"/><line x1="342.0" x2="347.5" y1="187.20" y2="187.20" stroke="#a8a8a8" stroke-width="1"/><path d="M199.5 173.5H347.5V270.5" fill="none" stroke="#7a7a7a" stroke-width="1.1"/><path d="M199.5 173.5V270.5H347.5" fill="none" stroke="#383838" stroke-width="1.05"/><g><path d="M207.72 262.50L224.17 228.56L240.61 215.22L257.06 209.84L273.50 206.65L289.94 206.02L306.39 206.65L322.83 206.97L339.28 206.02" fill="none" stroke="#4a4aff" stroke-width="1.0" clip-path="url(#c6)"/><circle cx="207.72" cy="262.50" r="2.75" fill="#7c7cff" stroke="#3030ff" stroke-width="0.9"/><circle cx="224.17" cy="228.56" r="2.75" fill="#7c7cff" stroke="#3030ff" stroke-width="0.9"/><circle cx="240.61" cy="215.22" r="2.75" fill="#7c7cff" stroke="#3030ff" stroke-width="0.9"/><circle cx="257.06" cy="209.84" r="2.75" fill="#7c7cff" stroke="#3030ff" stroke-width="0.9"/><circle cx="273.50" cy="206.65" r="2.75" fill="#7c7cff" stroke="#3030ff" stroke-width="0.9"/><circle cx="289.94" cy="206.02" r="2.75" fill="#7c7cff" stroke="#3030ff" stroke-width="0.9"/><circle cx="306.39" cy="206.65" r="2.75" fill="#7c7cff" stroke="#3030ff" stroke-width="0.9"/><circle cx="322.83" cy="206.97" r="2.75" fill="#7c7cff" stroke="#3030ff" stroke-width="0.9"/><circle cx="339.28" cy="206.02" r="2.75" fill="#7c7cff" stroke="#3030ff" stroke-width="0.9"/><path d="M207.72 231.08L224.17 215.86L240.61 206.02L257.06 202.23L273.50 200.95L289.94 200.95L306.39 199.36L322.83 198.73L339.28 199.36" fill="none" stroke="#ff3a3a" stroke-width="1.0" clip-path="url(#c6)"/><rect x="205.12" y="228.48" width="5.20" height="5.20" fill="#ff7c7c" stroke="#ff2a2a" stroke-width="0.9"/><rect x="221.57" y="213.26" width="5.20" height="5.20" fill="#ff7c7c" stroke="#ff2a2a" stroke-width="0.9"/><rect x="238.01" y="203.42" width="5.20" height="5.20" fill="#ff7c7c" stroke="#ff2a2a" stroke-width="0.9"/><rect x="254.46" y="199.63" width="5.20" height="5.20" fill="#ff7c7c" stroke="#ff2a2a" stroke-width="0.9"/><rect x="270.90" y="198.35" width="5.20" height="5.20" fill="#ff7c7c" stroke="#ff2a2a" stroke-width="0.9"/><rect x="287.34" y="198.35" width="5.20" height="5.20" fill="#ff7c7c" stroke="#ff2a2a" stroke-width="0.9"/><rect x="303.79" y="196.76" width="5.20" height="5.20" fill="#ff7c7c" stroke="#ff2a2a" stroke-width="0.9"/><rect x="320.23" y="196.13" width="5.20" height="5.20" fill="#ff7c7c" stroke="#ff2a2a" stroke-width="0.9"/><rect x="336.68" y="196.76" width="5.20" height="5.20" fill="#ff7c7c" stroke="#ff2a2a" stroke-width="0.9"/><path d="M207.72 235.28L224.17 204.46L240.61 196.21L257.06 193.66L273.50 192.71L289.94 191.75L306.39 191.12L322.83 190.48L339.28 189.52" fill="none" stroke="#a87848" stroke-width="1.0" clip-path="url(#c6)"/><circle cx="207.72" cy="235.28" r="2.75" fill="#d0a878" stroke="#8a5a2a" stroke-width="0.9"/><path d="M205.74 233.30L209.70 237.26M205.74 237.26L209.70 233.30" stroke="#8a5a2a" stroke-width="1.0"/><circle cx="224.17" cy="204.46" r="2.75" fill="#d0a878" stroke="#8a5a2a" stroke-width="0.9"/><path d="M222.19 202.48L226.15 206.44M222.19 206.44L226.15 202.48" stroke="#8a5a2a" stroke-width="1.0"/><circle cx="240.61" cy="196.21" r="2.75" fill="#d0a878" stroke="#8a5a2a" stroke-width="0.9"/><path d="M238.63 194.23L242.59 198.19M238.63 198.19L242.59 194.23" stroke="#8a5a2a" stroke-width="1.0"/><circle cx="257.06" cy="193.66" r="2.75" fill="#d0a878" stroke="#8a5a2a" stroke-width="0.9"/><path d="M255.08 191.68L259.04 195.64M255.08 195.64L259.04 191.68" stroke="#8a5a2a" stroke-width="1.0"/><circle cx="273.50" cy="192.71" r="2.75" fill="#d0a878" stroke="#8a5a2a" stroke-width="0.9"/><path d="M271.52 190.73L275.48 194.69M271.52 194.69L275.48 190.73" stroke="#8a5a2a" stroke-width="1.0"/><circle cx="289.94" cy="191.75" r="2.75" fill="#d0a878" stroke="#8a5a2a" stroke-width="0.9"/><path d="M287.96 189.77L291.92 193.73M287.96 193.73L291.92 189.77" stroke="#8a5a2a" stroke-width="1.0"/><circle cx="306.39" cy="191.12" r="2.75" fill="#d0a878" stroke="#8a5a2a" stroke-width="0.9"/><path d="M304.41 189.14L308.37 193.10M304.41 193.10L308.37 189.14" stroke="#8a5a2a" stroke-width="1.0"/><circle cx="322.83" cy="190.48" r="2.75" fill="#d0a878" stroke="#8a5a2a" stroke-width="0.9"/><path d="M320.85 188.50L324.81 192.46M320.85 192.46L324.81 188.50" stroke="#8a5a2a" stroke-width="1.0"/><circle cx="339.28" cy="189.52" r="2.75" fill="#d0a878" stroke="#8a5a2a" stroke-width="0.9"/><path d="M337.30 187.54L341.26 191.50M337.30 191.50L341.26 187.54" stroke="#8a5a2a" stroke-width="1.0"/><path d="M207.72 236.23L224.17 206.02L240.61 197.17L257.06 196.21L273.50 196.21L289.94 193.35L306.39 192.71L322.83 191.12L339.28 190.48" fill="none" stroke="#111111" stroke-width="1.0" clip-path="url(#c6)"/><path d="M207.72 236.23L207.72 233.03M207.72 236.23L210.77 235.24M207.72 236.23L209.60 238.82M207.72 236.23L205.84 238.82M207.72 236.23L204.68 235.24" stroke="#111111" stroke-width="0.9" fill="none"/><path d="M224.17 206.02L224.17 202.82M224.17 206.02L227.21 205.03M224.17 206.02L226.05 208.61M224.17 206.02L222.29 208.61M224.17 206.02L221.12 205.03" stroke="#111111" stroke-width="0.9" fill="none"/><path d="M240.61 197.17L240.61 193.97M240.61 197.17L243.65 196.18M240.61 197.17L242.49 199.75M240.61 197.17L238.73 199.75M240.61 197.17L237.57 196.18" stroke="#111111" stroke-width="0.9" fill="none"/><path d="M257.06 196.21L257.06 193.01M257.06 196.21L260.10 195.22M257.06 196.21L258.94 198.80M257.06 196.21L255.17 198.80M257.06 196.21L254.01 195.22" stroke="#111111" stroke-width="0.9" fill="none"/><path d="M273.50 196.21L273.50 193.01M273.50 196.21L276.54 195.22M273.50 196.21L275.38 198.80M273.50 196.21L271.62 198.80M273.50 196.21L270.46 195.22" stroke="#111111" stroke-width="0.9" fill="none"/><path d="M289.94 193.35L289.94 190.15M289.94 193.35L292.99 192.36M289.94 193.35L291.83 195.93M289.94 193.35L288.06 195.93M289.94 193.35L286.90 192.36" stroke="#111111" stroke-width="0.9" fill="none"/><path d="M306.39 192.71L306.39 189.51M306.39 192.71L309.43 191.72M306.39 192.71L308.27 195.30M306.39 192.71L304.51 195.30M306.39 192.71L303.35 191.72" stroke="#111111" stroke-width="0.9" fill="none"/><path d="M322.83 191.12L322.83 187.92M322.83 191.12L325.88 190.13M322.83 191.12L324.71 193.71M322.83 191.12L320.95 193.71M322.83 191.12L319.79 190.13" stroke="#111111" stroke-width="0.9" fill="none"/><path d="M339.28 190.48L339.28 187.28M339.28 190.48L342.32 189.49M339.28 190.48L341.16 193.07M339.28 190.48L337.40 193.07M339.28 190.48L336.23 189.49" stroke="#111111" stroke-width="0.9" fill="none"/><path d="M207.72 232.09L224.17 216.49L240.61 213.02L257.06 209.52L273.50 206.65L289.94 206.02L306.39 206.02L322.83 206.02L339.28 203.50" fill="none" stroke="#703050" stroke-width="1.0" clip-path="url(#c6)"/><path d="M207.72 229.09L209.92 232.09L207.72 235.09L205.52 232.09Z" fill="#a86890" stroke="#602040" stroke-width="0.9"/><path d="M224.17 213.49L226.37 216.49L224.17 219.49L221.97 216.49Z" fill="#a86890" stroke="#602040" stroke-width="0.9"/><path d="M240.61 210.02L242.81 213.02L240.61 216.02L238.41 213.02Z" fill="#a86890" stroke="#602040" stroke-width="0.9"/><path d="M257.06 206.52L259.26 209.52L257.06 212.52L254.86 209.52Z" fill="#a86890" stroke="#602040" stroke-width="0.9"/><path d="M273.50 203.65L275.70 206.65L273.50 209.65L271.30 206.65Z" fill="#a86890" stroke="#602040" stroke-width="0.9"/><path d="M289.94 203.02L292.14 206.02L289.94 209.02L287.74 206.02Z" fill="#a86890" stroke="#602040" stroke-width="0.9"/><path d="M306.39 203.02L308.59 206.02L306.39 209.02L304.19 206.02Z" fill="#a86890" stroke="#602040" stroke-width="0.9"/><path d="M322.83 203.02L325.03 206.02L322.83 209.02L320.63 206.02Z" fill="#a86890" stroke="#602040" stroke-width="0.9"/><path d="M339.28 200.50L341.48 203.50L339.28 206.50L337.08 203.50Z" fill="#a86890" stroke="#602040" stroke-width="0.9"/><path d="M207.72 206.02L224.17 192.07L240.61 188.28L257.06 186.05L273.50 184.46L289.94 183.82L306.39 183.82L322.83 183.82L339.28 183.19" fill="none" stroke="#b0b040" stroke-width="1.0" clip-path="url(#c6)"/><circle cx="207.72" cy="206.02" r="2.75" fill="#ffff70" stroke="#a0a030" stroke-width="0.9"/><circle cx="224.17" cy="192.07" r="2.75" fill="#ffff70" stroke="#a0a030" stroke-width="0.9"/><circle cx="240.61" cy="188.28" r="2.75" fill="#ffff70" stroke="#a0a030" stroke-width="0.9"/><circle cx="257.06" cy="186.05" r="2.75" fill="#ffff70" stroke="#a0a030" stroke-width="0.9"/><circle cx="273.50" cy="184.46" r="2.75" fill="#ffff70" stroke="#a0a030" stroke-width="0.9"/><circle cx="289.94" cy="183.82" r="2.75" fill="#ffff70" stroke="#a0a030" stroke-width="0.9"/><circle cx="306.39" cy="183.82" r="2.75" fill="#ffff70" stroke="#a0a030" stroke-width="0.9"/><circle cx="322.83" cy="183.82" r="2.75" fill="#ffff70" stroke="#a0a030" stroke-width="0.9"/><circle cx="339.28" cy="183.19" r="2.75" fill="#ffff70" stroke="#a0a030" stroke-width="0.9"/><path d="M207.72 231.78L224.17 206.65L240.61 198.09L257.06 193.98L273.50 191.75L289.94 189.52L306.39 189.21L322.83 189.21L339.28 187.65" fill="none" stroke="#a07878" stroke-width="1.0" clip-path="url(#c6)"/><rect x="205.12" y="229.18" width="5.20" height="5.20" fill="#ffdada" stroke="#a07a7a" stroke-width="0.9"/><rect x="221.57" y="204.05" width="5.20" height="5.20" fill="#ffdada" stroke="#a07a7a" stroke-width="0.9"/><rect x="238.01" y="195.49" width="5.20" height="5.20" fill="#ffdada" stroke="#a07a7a" stroke-width="0.9"/><rect x="254.46" y="191.38" width="5.20" height="5.20" fill="#ffdada" stroke="#a07a7a" stroke-width="0.9"/><rect x="270.90" y="189.15" width="5.20" height="5.20" fill="#ffdada" stroke="#a07a7a" stroke-width="0.9"/><rect x="287.34" y="186.92" width="5.20" height="5.20" fill="#ffdada" stroke="#a07a7a" stroke-width="0.9"/><rect x="303.79" y="186.61" width="5.20" height="5.20" fill="#ffdada" stroke="#a07a7a" stroke-width="0.9"/><rect x="320.23" y="186.61" width="5.20" height="5.20" fill="#ffdada" stroke="#a07a7a" stroke-width="0.9"/><rect x="336.68" y="185.05" width="5.20" height="5.20" fill="#ffdada" stroke="#a07a7a" stroke-width="0.9"/><path d="M207.72 231.78L224.17 210.48L240.61 198.73L257.06 194.94L273.50 193.35L289.94 192.39L306.39 191.75L322.83 191.12L339.28 190.16" fill="none" stroke="#b0ac80" stroke-width="1.0" clip-path="url(#c6)"/><path d="M207.72 231.78L207.72 228.58M207.72 231.78L210.77 230.79M207.72 231.78L209.60 234.36M207.72 231.78L205.84 234.36M207.72 231.78L204.68 230.79" stroke="#a8a478" stroke-width="0.9" fill="none"/><path d="M224.17 210.48L224.17 207.28M224.17 210.48L227.21 209.49M224.17 210.48L226.05 213.06M224.17 210.48L222.29 213.06M224.17 210.48L221.12 209.49" stroke="#a8a478" stroke-width="0.9" fill="none"/><path d="M240.61 198.73L240.61 195.53M240.61 198.73L243.65 197.74M240.61 198.73L242.49 201.31M240.61 198.73L238.73 201.31M240.61 198.73L237.57 197.74" stroke="#a8a478" stroke-width="0.9" fill="none"/><path d="M257.06 194.94L257.06 191.74M257.06 194.94L260.10 193.95M257.06 194.94L258.94 197.53M257.06 194.94L255.17 197.53M257.06 194.94L254.01 193.95" stroke="#a8a478" stroke-width="0.9" fill="none"/><path d="M273.50 193.35L273.50 190.15M273.50 193.35L276.54 192.36M273.50 193.35L275.38 195.93M273.50 193.35L271.62 195.93M273.50 193.35L270.46 192.36" stroke="#a8a478" stroke-width="0.9" fill="none"/><path d="M289.94 192.39L289.94 189.19M289.94 192.39L292.99 191.40M289.94 192.39L291.83 194.98M289.94 192.39L288.06 194.98M289.94 192.39L286.90 191.40" stroke="#a8a478" stroke-width="0.9" fill="none"/><path d="M306.39 191.75L306.39 188.55M306.39 191.75L309.43 190.76M306.39 191.75L308.27 194.34M306.39 191.75L304.51 194.34M306.39 191.75L303.35 190.76" stroke="#a8a478" stroke-width="0.9" fill="none"/><path d="M322.83 191.12L322.83 187.92M322.83 191.12L325.88 190.13M322.83 191.12L324.71 193.71M322.83 191.12L320.95 193.71M322.83 191.12L319.79 190.13" stroke="#a8a478" stroke-width="0.9" fill="none"/><path d="M339.28 190.16L339.28 186.96M339.28 190.16L342.32 189.17M339.28 190.16L341.16 192.75M339.28 190.16L337.40 192.75M339.28 190.16L336.23 189.17" stroke="#a8a478" stroke-width="0.9" fill="none"/><path d="M207.72 203.18L224.17 189.21L240.61 187.65L257.06 185.42L273.50 183.82L289.94 182.87L306.39 182.87L322.83 182.87L339.28 181.60" fill="none" stroke="#30b030" stroke-width="1.0" clip-path="url(#c6)"/><circle cx="207.72" cy="203.18" r="2.75" fill="#50ea50" stroke="#0c920c" stroke-width="0.9"/><path d="M205.74 201.20L209.70 205.16M205.74 205.16L209.70 201.20" stroke="#0c920c" stroke-width="1.0"/><circle cx="224.17" cy="189.21" r="2.75" fill="#50ea50" stroke="#0c920c" stroke-width="0.9"/><path d="M222.19 187.23L226.15 191.19M222.19 191.19L226.15 187.23" stroke="#0c920c" stroke-width="1.0"/><circle cx="240.61" cy="187.65" r="2.75" fill="#50ea50" stroke="#0c920c" stroke-width="0.9"/><path d="M238.63 185.67L242.59 189.63M238.63 189.63L242.59 185.67" stroke="#0c920c" stroke-width="1.0"/><circle cx="257.06" cy="185.42" r="2.75" fill="#50ea50" stroke="#0c920c" stroke-width="0.9"/><path d="M255.08 183.44L259.04 187.40M255.08 187.40L259.04 183.44" stroke="#0c920c" stroke-width="1.0"/><circle cx="273.50" cy="183.82" r="2.75" fill="#50ea50" stroke="#0c920c" stroke-width="0.9"/><path d="M271.52 181.84L275.48 185.80M271.52 185.80L275.48 181.84" stroke="#0c920c" stroke-width="1.0"/><circle cx="289.94" cy="182.87" r="2.75" fill="#50ea50" stroke="#0c920c" stroke-width="0.9"/><path d="M287.96 180.89L291.92 184.85M287.96 184.85L291.92 180.89" stroke="#0c920c" stroke-width="1.0"/><circle cx="306.39" cy="182.87" r="2.75" fill="#50ea50" stroke="#0c920c" stroke-width="0.9"/><path d="M304.41 180.89L308.37 184.85M304.41 184.85L308.37 180.89" stroke="#0c920c" stroke-width="1.0"/><circle cx="322.83" cy="182.87" r="2.75" fill="#50ea50" stroke="#0c920c" stroke-width="0.9"/><path d="M320.85 180.89L324.81 184.85M320.85 184.85L324.81 180.89" stroke="#0c920c" stroke-width="1.0"/><circle cx="339.28" cy="181.60" r="2.75" fill="#50ea50" stroke="#0c920c" stroke-width="0.9"/><path d="M337.30 179.62L341.26 183.58M337.30 183.58L341.26 179.62" stroke="#0c920c" stroke-width="1.0"/></g><text x="194.50" y="269.10" text-anchor="end" font-size="6.4">70</text><text x="194.50" y="253.18" text-anchor="end" font-size="6.4">75</text><text x="194.50" y="237.26" text-anchor="end" font-size="6.4">80</text><text x="194.50" y="221.34" text-anchor="end" font-size="6.4">85</text><text x="194.50" y="205.42" text-anchor="end" font-size="6.4">90</text><text x="194.50" y="189.50" text-anchor="end" font-size="6.4">95</text><text x="207.72" y="280.40" text-anchor="middle" font-size="6.4">10</text><text x="224.17" y="280.40" text-anchor="middle" font-size="6.4">20</text><text x="240.61" y="280.40" text-anchor="middle" font-size="6.4">30</text><text x="257.06" y="280.40" text-anchor="middle" font-size="6.4">40</text><text x="273.50" y="280.40" text-anchor="middle" font-size="6.4">50</text><text x="289.94" y="280.40" text-anchor="middle" font-size="6.4">60</text><text x="306.39" y="280.40" text-anchor="middle" font-size="6.4">70</text><text x="322.83" y="280.40" text-anchor="middle" font-size="6.4">80</text><text x="339.28" y="280.40" text-anchor="middle" font-size="6.4">90</text><text x="273.60" y="170.60" text-anchor="middle" font-size="6.8" textLength="13.6" lengthAdjust="spacingAndGlyphs">lung</text><clipPath id="c7"><rect x="367.6" y="173.5" width="147.89999999999998" height="97.0"/></clipPath><line x1="367.6" x2="515.5" y1="253.34" y2="253.34" stroke="#dedede" stroke-width="1.2"/><line x1="367.6" x2="373.1" y1="253.34" y2="253.34" stroke="#a8a8a8" stroke-width="1"/><line x1="510.0" x2="515.5" y1="253.34" y2="253.34" stroke="#a8a8a8" stroke-width="1"/><line x1="367.6" x2="515.5" y1="236.38" y2="236.38" stroke="#dedede" stroke-width="1.2"/><line x1="367.6" x2="373.1" y1="236.38" y2="236.38" stroke="#a8a8a8" stroke-width="1"/><line x1="510.0" x2="515.5" y1="236.38" y2="236.38" stroke="#a8a8a8" stroke-width="1"/><line x1="367.6" x2="515.5" y1="219.42" y2="219.42" stroke="#dedede" stroke-width="1.2"/><line x1="367.6" x2="373.1" y1="219.42" y2="219.42" stroke="#a8a8a8" stroke-width="1"/><line x1="510.0" x2="515.5" y1="219.42" y2="219.42" stroke="#a8a8a8" stroke-width="1"/><line x1="367.6" x2="515.5" y1="202.46" y2="202.46" stroke="#dedede" stroke-width="1.2"/><line x1="367.6" x2="373.1" y1="202.46" y2="202.46" stroke="#a8a8a8" stroke-width="1"/><line x1="510.0" x2="515.5" y1="202.46" y2="202.46" stroke="#a8a8a8" stroke-width="1"/><line x1="367.6" x2="515.5" y1="185.50" y2="185.50" stroke="#dedede" stroke-width="1.2"/><line x1="367.6" x2="373.1" y1="185.50" y2="185.50" stroke="#a8a8a8" stroke-width="1"/><line x1="510.0" x2="515.5" y1="185.50" y2="185.50" stroke="#a8a8a8" stroke-width="1"/><path d="M367.6 173.5H515.5V270.5" fill="none" stroke="#7a7a7a" stroke-width="1.1"/><path d="M367.6 173.5V270.5H515.5" fill="none" stroke="#383838" stroke-width="1.05"/><g><path d="M375.82 258.63L392.25 242.04L408.68 245.10L425.12 235.26L441.55 238.65L457.98 235.26L474.42 235.26L490.85 238.65L507.28 238.65" fill="none" stroke="#4a4aff" stroke-width="1.0" clip-path="url(#c7)"/><circle cx="375.82" cy="258.63" r="2.75" fill="#7c7cff" stroke="#3030ff" stroke-width="0.9"/><circle cx="392.25" cy="242.04" r="2.75" fill="#7c7cff" stroke="#3030ff" stroke-width="0.9"/><circle cx="408.68" cy="245.10" r="2.75" fill="#7c7cff" stroke="#3030ff" stroke-width="0.9"/><circle cx="425.12" cy="235.26" r="2.75" fill="#7c7cff" stroke="#3030ff" stroke-width="0.9"/><circle cx="441.55" cy="238.65" r="2.75" fill="#7c7cff" stroke="#3030ff" stroke-width="0.9"/><circle cx="457.98" cy="235.26" r="2.75" fill="#7c7cff" stroke="#3030ff" stroke-width="0.9"/><circle cx="474.42" cy="235.26" r="2.75" fill="#7c7cff" stroke="#3030ff" stroke-width="0.9"/><circle cx="490.85" cy="238.65" r="2.75" fill="#7c7cff" stroke="#3030ff" stroke-width="0.9"/><circle cx="507.28" cy="238.65" r="2.75" fill="#7c7cff" stroke="#3030ff" stroke-width="0.9"/><path d="M375.82 249.17L392.25 225.76L408.68 212.23L425.12 203.75L441.55 194.96L457.98 201.37L474.42 192.59L490.85 198.66L507.28 195.64" fill="none" stroke="#ff3a3a" stroke-width="1.0" clip-path="url(#c7)"/><rect x="373.22" y="246.57" width="5.20" height="5.20" fill="#ff7c7c" stroke="#ff2a2a" stroke-width="0.9"/><rect x="389.65" y="223.16" width="5.20" height="5.20" fill="#ff7c7c" stroke="#ff2a2a" stroke-width="0.9"/><rect x="406.08" y="209.63" width="5.20" height="5.20" fill="#ff7c7c" stroke="#ff2a2a" stroke-width="0.9"/><rect x="422.52" y="201.15" width="5.20" height="5.20" fill="#ff7c7c" stroke="#ff2a2a" stroke-width="0.9"/><rect x="438.95" y="192.36" width="5.20" height="5.20" fill="#ff7c7c" stroke="#ff2a2a" stroke-width="0.9"/><rect x="455.38" y="198.77" width="5.20" height="5.20" fill="#ff7c7c" stroke="#ff2a2a" stroke-width="0.9"/><rect x="471.82" y="189.99" width="5.20" height="5.20" fill="#ff7c7c" stroke="#ff2a2a" stroke-width="0.9"/><rect x="488.25" y="196.06" width="5.20" height="5.20" fill="#ff7c7c" stroke="#ff2a2a" stroke-width="0.9"/><rect x="504.68" y="193.04" width="5.20" height="5.20" fill="#ff7c7c" stroke="#ff2a2a" stroke-width="0.9"/><path d="M375.82 235.94L392.25 219.35L408.68 216.30L425.12 218.67L441.55 212.57L457.98 205.11L474.42 205.11L490.85 202.05L507.28 208.50" fill="none" stroke="#a87848" stroke-width="1.0" clip-path="url(#c7)"/><circle cx="375.82" cy="235.94" r="2.75" fill="#d0a878" stroke="#8a5a2a" stroke-width="0.9"/><path d="M373.84 233.96L377.80 237.92M373.84 237.92L377.80 233.96" stroke="#8a5a2a" stroke-width="1.0"/><circle cx="392.25" cy="219.35" r="2.75" fill="#d0a878" stroke="#8a5a2a" stroke-width="0.9"/><path d="M390.27 217.37L394.23 221.33M390.27 221.33L394.23 217.37" stroke="#8a5a2a" stroke-width="1.0"/><circle cx="408.68" cy="216.30" r="2.75" fill="#d0a878" stroke="#8a5a2a" stroke-width="0.9"/><path d="M406.70 214.32L410.66 218.28M406.70 218.28L410.66 214.32" stroke="#8a5a2a" stroke-width="1.0"/><circle cx="425.12" cy="218.67" r="2.75" fill="#d0a878" stroke="#8a5a2a" stroke-width="0.9"/><path d="M423.14 216.69L427.10 220.65M423.14 220.65L427.10 216.69" stroke="#8a5a2a" stroke-width="1.0"/><circle cx="441.55" cy="212.57" r="2.75" fill="#d0a878" stroke="#8a5a2a" stroke-width="0.9"/><path d="M439.57 210.59L443.53 214.55M439.57 214.55L443.53 210.59" stroke="#8a5a2a" stroke-width="1.0"/><circle cx="457.98" cy="205.11" r="2.75" fill="#d0a878" stroke="#8a5a2a" stroke-width="0.9"/><path d="M456.00 203.13L459.96 207.09M456.00 207.09L459.96 203.13" stroke="#8a5a2a" stroke-width="1.0"/><circle cx="474.42" cy="205.11" r="2.75" fill="#d0a878" stroke="#8a5a2a" stroke-width="0.9"/><path d="M472.44 203.13L476.40 207.09M472.44 207.09L476.40 203.13" stroke="#8a5a2a" stroke-width="1.0"/><circle cx="490.85" cy="202.05" r="2.75" fill="#d0a878" stroke="#8a5a2a" stroke-width="0.9"/><path d="M488.87 200.07L492.83 204.03M488.87 204.03L492.83 200.07" stroke="#8a5a2a" stroke-width="1.0"/><circle cx="507.28" cy="208.50" r="2.75" fill="#d0a878" stroke="#8a5a2a" stroke-width="0.9"/><path d="M505.30 206.52L509.26 210.48M505.30 210.48L509.26 206.52" stroke="#8a5a2a" stroke-width="1.0"/><path d="M375.82 239.67L392.25 231.87L408.68 218.33L425.12 214.94L441.55 214.94L457.98 208.84L474.42 211.89L490.85 205.44L507.28 205.44" fill="none" stroke="#111111" stroke-width="1.0" clip-path="url(#c7)"/><path d="M375.82 239.67L375.82 236.47M375.82 239.67L378.86 238.68M375.82 239.67L377.70 242.26M375.82 239.67L373.94 242.26M375.82 239.67L372.77 238.68" stroke="#111111" stroke-width="0.9" fill="none"/><path d="M392.25 231.87L392.25 228.67M392.25 231.87L395.29 230.88M392.25 231.87L394.13 234.46M392.25 231.87L390.37 234.46M392.25 231.87L389.21 230.88" stroke="#111111" stroke-width="0.9" fill="none"/><path d="M408.68 218.33L408.68 215.13M408.68 218.33L411.73 217.35M408.68 218.33L410.56 220.92M408.68 218.33L406.80 220.92M408.68 218.33L405.64 217.35" stroke="#111111" stroke-width="0.9" fill="none"/><path d="M425.12 214.94L425.12 211.74M425.12 214.94L428.16 213.95M425.12 214.94L427.00 217.53M425.12 214.94L423.24 217.53M425.12 214.94L422.07 213.95" stroke="#111111" stroke-width="0.9" fill="none"/><path d="M441.55 214.94L441.55 211.74M441.55 214.94L444.59 213.95M441.55 214.94L443.43 217.53M441.55 214.94L439.67 217.53M441.55 214.94L438.51 213.95" stroke="#111111" stroke-width="0.9" fill="none"/><path d="M457.98 208.84L457.98 205.64M457.98 208.84L461.03 207.85M457.98 208.84L459.86 211.43M457.98 208.84L456.10 211.43M457.98 208.84L454.94 207.85" stroke="#111111" stroke-width="0.9" fill="none"/><path d="M474.42 211.89L474.42 208.69M474.42 211.89L477.46 210.90M474.42 211.89L476.30 214.48M474.42 211.89L472.54 214.48M474.42 211.89L471.37 210.90" stroke="#111111" stroke-width="0.9" fill="none"/><path d="M490.85 205.44L490.85 202.24M490.85 205.44L493.89 204.46M490.85 205.44L492.73 208.03M490.85 205.44L488.97 208.03M490.85 205.44L487.81 204.46" stroke="#111111" stroke-width="0.9" fill="none"/><path d="M507.28 205.44L507.28 202.24M507.28 205.44L510.33 204.46M507.28 205.44L509.16 208.03M507.28 205.44L505.40 208.03M507.28 205.44L504.24 204.46" stroke="#111111" stroke-width="0.9" fill="none"/><path d="M375.82 230.51L392.25 216.30L408.68 206.12L425.12 202.05L441.55 196.29L457.98 188.86L474.42 188.86L490.85 188.86L507.28 181.73" fill="none" stroke="#703050" stroke-width="1.0" clip-path="url(#c7)"/><path d="M375.82 227.51L378.02 230.51L375.82 233.51L373.62 230.51Z" fill="#a86890" stroke="#602040" stroke-width="0.9"/><path d="M392.25 213.30L394.45 216.30L392.25 219.30L390.05 216.30Z" fill="#a86890" stroke="#602040" stroke-width="0.9"/><path d="M408.68 203.12L410.88 206.12L408.68 209.12L406.48 206.12Z" fill="#a86890" stroke="#602040" stroke-width="0.9"/><path d="M425.12 199.05L427.32 202.05L425.12 205.05L422.92 202.05Z" fill="#a86890" stroke="#602040" stroke-width="0.9"/><path d="M441.55 193.29L443.75 196.29L441.55 199.29L439.35 196.29Z" fill="#a86890" stroke="#602040" stroke-width="0.9"/><path d="M457.98 185.86L460.18 188.86L457.98 191.86L455.78 188.86Z" fill="#a86890" stroke="#602040" stroke-width="0.9"/><path d="M474.42 185.86L476.62 188.86L474.42 191.86L472.22 188.86Z" fill="#a86890" stroke="#602040" stroke-width="0.9"/><path d="M490.85 185.86L493.05 188.86L490.85 191.86L488.65 188.86Z" fill="#a86890" stroke="#602040" stroke-width="0.9"/><path d="M507.28 178.73L509.48 181.73L507.28 184.73L505.08 181.73Z" fill="#a86890" stroke="#602040" stroke-width="0.9"/><path d="M375.82 211.89L392.25 198.66L408.68 202.05L425.12 191.57L441.55 184.45L457.98 181.73L474.42 188.18L490.85 181.73L507.28 181.73" fill="none" stroke="#b0b040" stroke-width="1.0" clip-path="url(#c7)"/><circle cx="375.82" cy="211.89" r="2.75" fill="#ffff70" stroke="#a0a030" stroke-width="0.9"/><circle cx="392.25" cy="198.66" r="2.75" fill="#ffff70" stroke="#a0a030" stroke-width="0.9"/><circle cx="408.68" cy="202.05" r="2.75" fill="#ffff70" stroke="#a0a030" stroke-width="0.9"/><circle cx="425.12" cy="191.57" r="2.75" fill="#ffff70" stroke="#a0a030" stroke-width="0.9"/><circle cx="441.55" cy="184.45" r="2.75" fill="#ffff70" stroke="#a0a030" stroke-width="0.9"/><circle cx="457.98" cy="181.73" r="2.75" fill="#ffff70" stroke="#a0a030" stroke-width="0.9"/><circle cx="474.42" cy="188.18" r="2.75" fill="#ffff70" stroke="#a0a030" stroke-width="0.9"/><circle cx="490.85" cy="181.73" r="2.75" fill="#ffff70" stroke="#a0a030" stroke-width="0.9"/><circle cx="507.28" cy="181.73" r="2.75" fill="#ffff70" stroke="#a0a030" stroke-width="0.9"/><path d="M375.82 252.56L392.25 215.28L408.68 211.89L425.12 208.16L441.55 198.66L457.98 204.43L474.42 188.86L490.85 188.86L507.28 185.13" fill="none" stroke="#a07878" stroke-width="1.0" clip-path="url(#c7)"/><rect x="373.22" y="249.96" width="5.20" height="5.20" fill="#ffdada" stroke="#a07a7a" stroke-width="0.9"/><rect x="389.65" y="212.68" width="5.20" height="5.20" fill="#ffdada" stroke="#a07a7a" stroke-width="0.9"/><rect x="406.08" y="209.29" width="5.20" height="5.20" fill="#ffdada" stroke="#a07a7a" stroke-width="0.9"/><rect x="422.52" y="205.56" width="5.20" height="5.20" fill="#ffdada" stroke="#a07a7a" stroke-width="0.9"/><rect x="438.95" y="196.06" width="5.20" height="5.20" fill="#ffdada" stroke="#a07a7a" stroke-width="0.9"/><rect x="455.38" y="201.83" width="5.20" height="5.20" fill="#ffdada" stroke="#a07a7a" stroke-width="0.9"/><rect x="471.82" y="186.26" width="5.20" height="5.20" fill="#ffdada" stroke="#a07a7a" stroke-width="0.9"/><rect x="488.25" y="186.26" width="5.20" height="5.20" fill="#ffdada" stroke="#a07a7a" stroke-width="0.9"/><rect x="504.68" y="182.53" width="5.20" height="5.20" fill="#ffdada" stroke="#a07a7a" stroke-width="0.9"/><path d="M375.82 250.19L392.25 221.39L408.68 210.53L425.12 207.82L441.55 205.11L457.98 201.37L474.42 197.98L490.85 197.98L507.28 195.64" fill="none" stroke="#b0ac80" stroke-width="1.0" clip-path="url(#c7)"/><path d="M375.82 250.19L375.82 246.99M375.82 250.19L378.86 249.20M375.82 250.19L377.70 252.77M375.82 250.19L373.94 252.77M375.82 250.19L372.77 249.20" stroke="#a8a478" stroke-width="0.9" fill="none"/><path d="M392.25 221.39L392.25 218.19M392.25 221.39L395.29 220.40M392.25 221.39L394.13 223.98M392.25 221.39L390.37 223.98M392.25 221.39L389.21 220.40" stroke="#a8a478" stroke-width="0.9" fill="none"/><path d="M408.68 210.53L408.68 207.33M408.68 210.53L411.73 209.54M408.68 210.53L410.56 213.12M408.68 210.53L406.80 213.12M408.68 210.53L405.64 209.54" stroke="#a8a478" stroke-width="0.9" fill="none"/><path d="M425.12 207.82L425.12 204.62M425.12 207.82L428.16 206.83M425.12 207.82L427.00 210.41M425.12 207.82L423.24 210.41M425.12 207.82L422.07 206.83" stroke="#a8a478" stroke-width="0.9" fill="none"/><path d="M441.55 205.11L441.55 201.91M441.55 205.11L444.59 204.12M441.55 205.11L443.43 207.69M441.55 205.11L439.67 207.69M441.55 205.11L438.51 204.12" stroke="#a8a478" stroke-width="0.9" fill="none"/><path d="M457.98 201.37L457.98 198.17M457.98 201.37L461.03 200.39M457.98 201.37L459.86 203.96M457.98 201.37L456.10 203.96M457.98 201.37L454.94 200.39" stroke="#a8a478" stroke-width="0.9" fill="none"/><path d="M474.42 197.98L474.42 194.78M474.42 197.98L477.46 196.99M474.42 197.98L476.30 200.57M474.42 197.98L472.54 200.57M474.42 197.98L471.37 196.99" stroke="#a8a478" stroke-width="0.9" fill="none"/><path d="M490.85 197.98L490.85 194.78M490.85 197.98L493.89 196.99M490.85 197.98L492.73 200.57M490.85 197.98L488.97 200.57M490.85 197.98L487.81 196.99" stroke="#a8a478" stroke-width="0.9" fill="none"/><path d="M507.28 195.64L507.28 192.44M507.28 195.64L510.33 194.65M507.28 195.64L509.16 198.23M507.28 195.64L505.40 198.23M507.28 195.64L504.24 194.65" stroke="#a8a478" stroke-width="0.9" fill="none"/><path d="M375.82 225.42L392.25 218.67L408.68 212.23L425.12 202.05L441.55 198.66L457.98 194.96L474.42 191.91L490.85 191.91L507.28 191.91" fill="none" stroke="#30b030" stroke-width="1.0" clip-path="url(#c7)"/><circle cx="375.82" cy="225.42" r="2.75" fill="#50ea50" stroke="#0c920c" stroke-width="0.9"/><path d="M373.84 223.44L377.80 227.40M373.84 227.40L377.80 223.44" stroke="#0c920c" stroke-width="1.0"/><circle cx="392.25" cy="218.67" r="2.75" fill="#50ea50" stroke="#0c920c" stroke-width="0.9"/><path d="M390.27 216.69L394.23 220.65M390.27 220.65L394.23 216.69" stroke="#0c920c" stroke-width="1.0"/><circle cx="408.68" cy="212.23" r="2.75" fill="#50ea50" stroke="#0c920c" stroke-width="0.9"/><path d="M406.70 210.25L410.66 214.21M406.70 214.21L410.66 210.25" stroke="#0c920c" stroke-width="1.0"/><circle cx="425.12" cy="202.05" r="2.75" fill="#50ea50" stroke="#0c920c" stroke-width="0.9"/><path d="M423.14 200.07L427.10 204.03M423.14 204.03L427.10 200.07" stroke="#0c920c" stroke-width="1.0"/><circle cx="441.55" cy="198.66" r="2.75" fill="#50ea50" stroke="#0c920c" stroke-width="0.9"/><path d="M439.57 196.68L443.53 200.64M439.57 200.64L443.53 196.68" stroke="#0c920c" stroke-width="1.0"/><circle cx="457.98" cy="194.96" r="2.75" fill="#50ea50" stroke="#0c920c" stroke-width="0.9"/><path d="M456.00 192.98L459.96 196.94M456.00 196.94L459.96 192.98" stroke="#0c920c" stroke-width="1.0"/><circle cx="474.42" cy="191.91" r="2.75" fill="#50ea50" stroke="#0c920c" stroke-width="0.9"/><path d="M472.44 189.93L476.40 193.89M472.44 193.89L476.40 189.93" stroke="#0c920c" stroke-width="1.0"/><circle cx="490.85" cy="191.91" r="2.75" fill="#50ea50" stroke="#0c920c" stroke-width="0.9"/><path d="M488.87 189.93L492.83 193.89M488.87 193.89L492.83 189.93" stroke="#0c920c" stroke-width="1.0"/><circle cx="507.28" cy="191.91" r="2.75" fill="#50ea50" stroke="#0c920c" stroke-width="0.9"/><path d="M505.30 189.93L509.26 193.89M505.30 193.89L509.26 189.93" stroke="#0c920c" stroke-width="1.0"/></g><text x="362.60" y="272.60" text-anchor="end" font-size="6.4">60</text><text x="362.60" y="255.64" text-anchor="end" font-size="6.4">65</text><text x="362.60" y="238.68" text-anchor="end" font-size="6.4">70</text><text x="362.60" y="221.72" text-anchor="end" font-size="6.4">75</text><text x="362.60" y="204.76" text-anchor="end" font-size="6.4">80</text><text x="362.60" y="187.80" text-anchor="end" font-size="6.4">85</text><text x="375.82" y="280.40" text-anchor="middle" font-size="6.4">10</text><text x="392.25" y="280.40" text-anchor="middle" font-size="6.4">20</text><text x="408.68" y="280.40" text-anchor="middle" font-size="6.4">30</text><text x="425.12" y="280.40" text-anchor="middle" font-size="6.4">40</text><text x="441.55" y="280.40" text-anchor="middle" font-size="6.4">50</text><text x="457.98" y="280.40" text-anchor="middle" font-size="6.4">60</text><text x="474.42" y="280.40" text-anchor="middle" font-size="6.4">70</text><text x="490.85" y="280.40" text-anchor="middle" font-size="6.4">80</text><text x="507.28" y="280.40" text-anchor="middle" font-size="6.4">90</text><text x="439.90" y="171.00" text-anchor="middle" font-size="6.8" textLength="24.9" lengthAdjust="spacingAndGlyphs">GLIOMA</text><clipPath id="c8"><rect x="536.4" y="173.5" width="147.20000000000005" height="97.0"/></clipPath><line x1="536.4" x2="683.6" y1="251.96" y2="251.96" stroke="#dedede" stroke-width="1.2"/><line x1="536.4" x2="541.9" y1="251.96" y2="251.96" stroke="#a8a8a8" stroke-width="1"/><line x1="678.1" x2="683.6" y1="251.96" y2="251.96" stroke="#a8a8a8" stroke-width="1"/><line x1="536.4" x2="683.6" y1="233.72" y2="233.72" stroke="#dedede" stroke-width="1.2"/><line x1="536.4" x2="541.9" y1="233.72" y2="233.72" stroke="#a8a8a8" stroke-width="1"/><line x1="678.1" x2="683.6" y1="233.72" y2="233.72" stroke="#a8a8a8" stroke-width="1"/><line x1="536.4" x2="683.6" y1="215.48" y2="215.48" stroke="#dedede" stroke-width="1.2"/><line x1="536.4" x2="541.9" y1="215.48" y2="215.48" stroke="#a8a8a8" stroke-width="1"/><line x1="678.1" x2="683.6" y1="215.48" y2="215.48" stroke="#a8a8a8" stroke-width="1"/><line x1="536.4" x2="683.6" y1="197.24" y2="197.24" stroke="#dedede" stroke-width="1.2"/><line x1="536.4" x2="541.9" y1="197.24" y2="197.24" stroke="#a8a8a8" stroke-width="1"/><line x1="678.1" x2="683.6" y1="197.24" y2="197.24" stroke="#a8a8a8" stroke-width="1"/><line x1="536.4" x2="683.6" y1="179.00" y2="179.00" stroke="#dedede" stroke-width="1.2"/><line x1="536.4" x2="541.9" y1="179.00" y2="179.00" stroke="#a8a8a8" stroke-width="1"/><line x1="678.1" x2="683.6" y1="179.00" y2="179.00" stroke="#a8a8a8" stroke-width="1"/><path d="M536.4 173.5H683.6V270.5" fill="none" stroke="#7a7a7a" stroke-width="1.1"/><path d="M536.4 173.5V270.5H683.6" fill="none" stroke="#383838" stroke-width="1.05"/><g><path d="M544.58 256.99L560.93 235.84L577.29 233.28L593.64 227.45L610.00 213.95L626.36 223.07L642.71 224.89L659.07 223.07L675.42 224.89" fill="none" stroke="#4a4aff" stroke-width="1.0" clip-path="url(#c8)"/><circle cx="544.58" cy="256.99" r="2.75" fill="#7c7cff" stroke="#3030ff" stroke-width="0.9"/><circle cx="560.93" cy="235.84" r="2.75" fill="#7c7cff" stroke="#3030ff" stroke-width="0.9"/><circle cx="577.29" cy="233.28" r="2.75" fill="#7c7cff" stroke="#3030ff" stroke-width="0.9"/><circle cx="593.64" cy="227.45" r="2.75" fill="#7c7cff" stroke="#3030ff" stroke-width="0.9"/><circle cx="610.00" cy="213.95" r="2.75" fill="#7c7cff" stroke="#3030ff" stroke-width="0.9"/><circle cx="626.36" cy="223.07" r="2.75" fill="#7c7cff" stroke="#3030ff" stroke-width="0.9"/><circle cx="642.71" cy="224.89" r="2.75" fill="#7c7cff" stroke="#3030ff" stroke-width="0.9"/><circle cx="659.07" cy="223.07" r="2.75" fill="#7c7cff" stroke="#3030ff" stroke-width="0.9"/><circle cx="675.42" cy="224.89" r="2.75" fill="#7c7cff" stroke="#3030ff" stroke-width="0.9"/><path d="M544.58 238.75L560.93 225.99L577.29 217.96L593.64 206.65L610.00 209.94L626.36 211.39L642.71 211.39L659.07 211.39L675.42 208.84" fill="none" stroke="#ff3a3a" stroke-width="1.0" clip-path="url(#c8)"/><rect x="541.98" y="236.15" width="5.20" height="5.20" fill="#ff7c7c" stroke="#ff2a2a" stroke-width="0.9"/><rect x="558.33" y="223.39" width="5.20" height="5.20" fill="#ff7c7c" stroke="#ff2a2a" stroke-width="0.9"/><rect x="574.69" y="215.36" width="5.20" height="5.20" fill="#ff7c7c" stroke="#ff2a2a" stroke-width="0.9"/><rect x="591.04" y="204.05" width="5.20" height="5.20" fill="#ff7c7c" stroke="#ff2a2a" stroke-width="0.9"/><rect x="607.40" y="207.34" width="5.20" height="5.20" fill="#ff7c7c" stroke="#ff2a2a" stroke-width="0.9"/><rect x="623.76" y="208.79" width="5.20" height="5.20" fill="#ff7c7c" stroke="#ff2a2a" stroke-width="0.9"/><rect x="640.11" y="208.79" width="5.20" height="5.20" fill="#ff7c7c" stroke="#ff2a2a" stroke-width="0.9"/><rect x="656.47" y="208.79" width="5.20" height="5.20" fill="#ff7c7c" stroke="#ff2a2a" stroke-width="0.9"/><rect x="672.82" y="206.24" width="5.20" height="5.20" fill="#ff7c7c" stroke="#ff2a2a" stroke-width="0.9"/><path d="M544.58 196.44L560.93 189.87L577.29 189.87L593.64 186.22L610.00 188.05L626.36 184.40L642.71 184.40L659.07 186.22L675.42 186.22" fill="none" stroke="#a87848" stroke-width="1.0" clip-path="url(#c8)"/><circle cx="544.58" cy="196.44" r="2.75" fill="#d0a878" stroke="#8a5a2a" stroke-width="0.9"/><path d="M542.60 194.46L546.56 198.42M542.60 198.42L546.56 194.46" stroke="#8a5a2a" stroke-width="1.0"/><circle cx="560.93" cy="189.87" r="2.75" fill="#d0a878" stroke="#8a5a2a" stroke-width="0.9"/><path d="M558.95 187.89L562.91 191.85M558.95 191.85L562.91 187.89" stroke="#8a5a2a" stroke-width="1.0"/><circle cx="577.29" cy="189.87" r="2.75" fill="#d0a878" stroke="#8a5a2a" stroke-width="0.9"/><path d="M575.31 187.89L579.27 191.85M575.31 191.85L579.27 187.89" stroke="#8a5a2a" stroke-width="1.0"/><circle cx="593.64" cy="186.22" r="2.75" fill="#d0a878" stroke="#8a5a2a" stroke-width="0.9"/><path d="M591.66 184.24L595.62 188.20M591.66 188.20L595.62 184.24" stroke="#8a5a2a" stroke-width="1.0"/><circle cx="610.00" cy="188.05" r="2.75" fill="#d0a878" stroke="#8a5a2a" stroke-width="0.9"/><path d="M608.02 186.07L611.98 190.03M608.02 190.03L611.98 186.07" stroke="#8a5a2a" stroke-width="1.0"/><circle cx="626.36" cy="184.40" r="2.75" fill="#d0a878" stroke="#8a5a2a" stroke-width="0.9"/><path d="M624.38 182.42L628.34 186.38M624.38 186.38L628.34 182.42" stroke="#8a5a2a" stroke-width="1.0"/><circle cx="642.71" cy="184.40" r="2.75" fill="#d0a878" stroke="#8a5a2a" stroke-width="0.9"/><path d="M640.73 182.42L644.69 186.38M640.73 186.38L644.69 182.42" stroke="#8a5a2a" stroke-width="1.0"/><circle cx="659.07" cy="186.22" r="2.75" fill="#d0a878" stroke="#8a5a2a" stroke-width="0.9"/><path d="M657.09 184.24L661.05 188.20M657.09 188.20L661.05 184.24" stroke="#8a5a2a" stroke-width="1.0"/><circle cx="675.42" cy="186.22" r="2.75" fill="#d0a878" stroke="#8a5a2a" stroke-width="0.9"/><path d="M673.44 184.24L677.40 188.20M673.44 188.20L677.40 184.24" stroke="#8a5a2a" stroke-width="1.0"/><path d="M544.58 186.22L560.93 188.05L577.29 186.22L593.64 186.22L610.00 186.22L626.36 183.67L642.71 183.67L659.07 183.67L675.42 186.22" fill="none" stroke="#111111" stroke-width="1.0" clip-path="url(#c8)"/><path d="M544.58 186.22L544.58 183.02M544.58 186.22L547.62 185.23M544.58 186.22L546.46 188.81M544.58 186.22L542.70 188.81M544.58 186.22L541.53 185.23" stroke="#111111" stroke-width="0.9" fill="none"/><path d="M560.93 188.05L560.93 184.85M560.93 188.05L563.98 187.06M560.93 188.05L562.81 190.64M560.93 188.05L559.05 190.64M560.93 188.05L557.89 187.06" stroke="#111111" stroke-width="0.9" fill="none"/><path d="M577.29 186.22L577.29 183.02M577.29 186.22L580.33 185.23M577.29 186.22L579.17 188.81M577.29 186.22L575.41 188.81M577.29 186.22L574.25 185.23" stroke="#111111" stroke-width="0.9" fill="none"/><path d="M593.64 186.22L593.64 183.02M593.64 186.22L596.69 185.23M593.64 186.22L595.53 188.81M593.64 186.22L591.76 188.81M593.64 186.22L590.60 185.23" stroke="#111111" stroke-width="0.9" fill="none"/><path d="M610.00 186.22L610.00 183.02M610.00 186.22L613.04 185.23M610.00 186.22L611.88 188.81M610.00 186.22L608.12 188.81M610.00 186.22L606.96 185.23" stroke="#111111" stroke-width="0.9" fill="none"/><path d="M626.36 183.67L626.36 180.47M626.36 183.67L629.40 182.68M626.36 183.67L628.24 186.26M626.36 183.67L624.47 186.26M626.36 183.67L623.31 182.68" stroke="#111111" stroke-width="0.9" fill="none"/><path d="M642.71 183.67L642.71 180.47M642.71 183.67L645.75 182.68M642.71 183.67L644.59 186.26M642.71 183.67L640.83 186.26M642.71 183.67L639.67 182.68" stroke="#111111" stroke-width="0.9" fill="none"/><path d="M659.07 183.67L659.07 180.47M659.07 183.67L662.11 182.68M659.07 183.67L660.95 186.26M659.07 183.67L657.19 186.26M659.07 183.67L656.02 182.68" stroke="#111111" stroke-width="0.9" fill="none"/><path d="M675.42 186.22L675.42 183.02M675.42 186.22L678.47 185.23M675.42 186.22L677.30 188.81M675.42 186.22L673.54 188.81M675.42 186.22L672.38 185.23" stroke="#111111" stroke-width="0.9" fill="none"/><path d="M544.58 213.58L560.93 203.00L577.29 197.90L593.64 192.06L610.00 186.22L626.36 189.87L642.71 186.22L659.07 184.40L675.42 186.22" fill="none" stroke="#703050" stroke-width="1.0" clip-path="url(#c8)"/><path d="M544.58 210.58L546.78 213.58L544.58 216.58L542.38 213.58Z" fill="#a86890" stroke="#602040" stroke-width="0.9"/><path d="M560.93 200.00L563.13 203.00L560.93 206.00L558.73 203.00Z" fill="#a86890" stroke="#602040" stroke-width="0.9"/><path d="M577.29 194.90L579.49 197.90L577.29 200.90L575.09 197.90Z" fill="#a86890" stroke="#602040" stroke-width="0.9"/><path d="M593.64 189.06L595.84 192.06L593.64 195.06L591.44 192.06Z" fill="#a86890" stroke="#602040" stroke-width="0.9"/><path d="M610.00 183.22L612.20 186.22L610.00 189.22L607.80 186.22Z" fill="#a86890" stroke="#602040" stroke-width="0.9"/><path d="M626.36 186.87L628.56 189.87L626.36 192.87L624.16 189.87Z" fill="#a86890" stroke="#602040" stroke-width="0.9"/><path d="M642.71 183.22L644.91 186.22L642.71 189.22L640.51 186.22Z" fill="#a86890" stroke="#602040" stroke-width="0.9"/><path d="M659.07 181.40L661.27 184.40L659.07 187.40L656.87 184.40Z" fill="#a86890" stroke="#602040" stroke-width="0.9"/><path d="M675.42 183.22L677.62 186.22L675.42 189.22L673.22 186.22Z" fill="#a86890" stroke="#602040" stroke-width="0.9"/><path d="M544.58 218.69L560.93 205.19L577.29 203.00L593.64 204.10L610.00 207.38L626.36 203.00L642.71 198.63L659.07 198.63L675.42 196.44" fill="none" stroke="#b0b040" stroke-width="1.0" clip-path="url(#c8)"/><circle cx="544.58" cy="218.69" r="2.75" fill="#ffff70" stroke="#a0a030" stroke-width="0.9"/><circle cx="560.93" cy="205.19" r="2.75" fill="#ffff70" stroke="#a0a030" stroke-width="0.9"/><circle cx="577.29" cy="203.00" r="2.75" fill="#ffff70" stroke="#a0a030" stroke-width="0.9"/><circle cx="593.64" cy="204.10" r="2.75" fill="#ffff70" stroke="#a0a030" stroke-width="0.9"/><circle cx="610.00" cy="207.38" r="2.75" fill="#ffff70" stroke="#a0a030" stroke-width="0.9"/><circle cx="626.36" cy="203.00" r="2.75" fill="#ffff70" stroke="#a0a030" stroke-width="0.9"/><circle cx="642.71" cy="198.63" r="2.75" fill="#ffff70" stroke="#a0a030" stroke-width="0.9"/><circle cx="659.07" cy="198.63" r="2.75" fill="#ffff70" stroke="#a0a030" stroke-width="0.9"/><circle cx="675.42" cy="196.44" r="2.75" fill="#ffff70" stroke="#a0a030" stroke-width="0.9"/><path d="M544.58 243.86L560.93 220.15L577.29 213.95L593.64 211.03L610.00 200.82L626.36 194.25L642.71 198.63L659.07 198.63L675.42 189.87" fill="none" stroke="#a07878" stroke-width="1.0" clip-path="url(#c8)"/><rect x="541.98" y="241.26" width="5.20" height="5.20" fill="#ffdada" stroke="#a07a7a" stroke-width="0.9"/><rect x="558.33" y="217.55" width="5.20" height="5.20" fill="#ffdada" stroke="#a07a7a" stroke-width="0.9"/><rect x="574.69" y="211.35" width="5.20" height="5.20" fill="#ffdada" stroke="#a07a7a" stroke-width="0.9"/><rect x="591.04" y="208.43" width="5.20" height="5.20" fill="#ffdada" stroke="#a07a7a" stroke-width="0.9"/><rect x="607.40" y="198.22" width="5.20" height="5.20" fill="#ffdada" stroke="#a07a7a" stroke-width="0.9"/><rect x="623.76" y="191.65" width="5.20" height="5.20" fill="#ffdada" stroke="#a07a7a" stroke-width="0.9"/><rect x="640.11" y="196.03" width="5.20" height="5.20" fill="#ffdada" stroke="#a07a7a" stroke-width="0.9"/><rect x="656.47" y="196.03" width="5.20" height="5.20" fill="#ffdada" stroke="#a07a7a" stroke-width="0.9"/><rect x="672.82" y="187.27" width="5.20" height="5.20" fill="#ffdada" stroke="#a07a7a" stroke-width="0.9"/><path d="M544.58 238.39L560.93 225.62L577.29 214.68L593.64 208.84L610.00 204.83L626.36 203.00L642.71 203.00L659.07 197.17L675.42 194.25" fill="none" stroke="#b0ac80" stroke-width="1.0" clip-path="url(#c8)"/><path d="M544.58 238.39L544.58 235.19M544.58 238.39L547.62 237.40M544.58 238.39L546.46 240.98M544.58 238.39L542.70 240.98M544.58 238.39L541.53 237.40" stroke="#a8a478" stroke-width="0.9" fill="none"/><path d="M560.93 225.62L560.93 222.42M560.93 225.62L563.98 224.63M560.93 225.62L562.81 228.21M560.93 225.62L559.05 228.21M560.93 225.62L557.89 224.63" stroke="#a8a478" stroke-width="0.9" fill="none"/><path d="M577.29 214.68L577.29 211.48M577.29 214.68L580.33 213.69M577.29 214.68L579.17 217.27M577.29 214.68L575.41 217.27M577.29 214.68L574.25 213.69" stroke="#a8a478" stroke-width="0.9" fill="none"/><path d="M593.64 208.84L593.64 205.64M593.64 208.84L596.69 207.85M593.64 208.84L595.53 211.43M593.64 208.84L591.76 211.43M593.64 208.84L590.60 207.85" stroke="#a8a478" stroke-width="0.9" fill="none"/><path d="M610.00 204.83L610.00 201.63M610.00 204.83L613.04 203.84M610.00 204.83L611.88 207.42M610.00 204.83L608.12 207.42M610.00 204.83L606.96 203.84" stroke="#a8a478" stroke-width="0.9" fill="none"/><path d="M626.36 203.00L626.36 199.80M626.36 203.00L629.40 202.01M626.36 203.00L628.24 205.59M626.36 203.00L624.47 205.59M626.36 203.00L623.31 202.01" stroke="#a8a478" stroke-width="0.9" fill="none"/><path d="M642.71 203.00L642.71 199.80M642.71 203.00L645.75 202.01M642.71 203.00L644.59 205.59M642.71 203.00L640.83 205.59M642.71 203.00L639.67 202.01" stroke="#a8a478" stroke-width="0.9" fill="none"/><path d="M659.07 197.17L659.07 193.97M659.07 197.17L662.11 196.18M659.07 197.17L660.95 199.76M659.07 197.17L657.19 199.76M659.07 197.17L656.02 196.18" stroke="#a8a478" stroke-width="0.9" fill="none"/><path d="M675.42 194.25L675.42 191.05M675.42 194.25L678.47 193.26M675.42 194.25L677.30 196.84M675.42 194.25L673.54 196.84M675.42 194.25L672.38 193.26" stroke="#a8a478" stroke-width="0.9" fill="none"/><path d="M544.58 217.96L560.93 203.00L577.29 194.61L593.64 192.06L610.00 181.85L626.36 181.85L642.71 181.85L659.07 183.67L675.42 181.85" fill="none" stroke="#30b030" stroke-width="1.0" clip-path="url(#c8)"/><circle cx="544.58" cy="217.96" r="2.75" fill="#50ea50" stroke="#0c920c" stroke-width="0.9"/><path d="M542.60 215.98L546.56 219.94M542.60 219.94L546.56 215.98" stroke="#0c920c" stroke-width="1.0"/><circle cx="560.93" cy="203.00" r="2.75" fill="#50ea50" stroke="#0c920c" stroke-width="0.9"/><path d="M558.95 201.02L562.91 204.98M558.95 204.98L562.91 201.02" stroke="#0c920c" stroke-width="1.0"/><circle cx="577.29" cy="194.61" r="2.75" fill="#50ea50" stroke="#0c920c" stroke-width="0.9"/><path d="M575.31 192.63L579.27 196.59M575.31 196.59L579.27 192.63" stroke="#0c920c" stroke-width="1.0"/><circle cx="593.64" cy="192.06" r="2.75" fill="#50ea50" stroke="#0c920c" stroke-width="0.9"/><path d="M591.66 190.08L595.62 194.04M591.66 194.04L595.62 190.08" stroke="#0c920c" stroke-width="1.0"/><circle cx="610.00" cy="181.85" r="2.75" fill="#50ea50" stroke="#0c920c" stroke-width="0.9"/><path d="M608.02 179.87L611.98 183.83M608.02 183.83L611.98 179.87" stroke="#0c920c" stroke-width="1.0"/><circle cx="626.36" cy="181.85" r="2.75" fill="#50ea50" stroke="#0c920c" stroke-width="0.9"/><path d="M624.38 179.87L628.34 183.83M624.38 183.83L628.34 179.87" stroke="#0c920c" stroke-width="1.0"/><circle cx="642.71" cy="181.85" r="2.75" fill="#50ea50" stroke="#0c920c" stroke-width="0.9"/><path d="M640.73 179.87L644.69 183.83M640.73 183.83L644.69 179.87" stroke="#0c920c" stroke-width="1.0"/><circle cx="659.07" cy="183.67" r="2.75" fill="#50ea50" stroke="#0c920c" stroke-width="0.9"/><path d="M657.09 181.69L661.05 185.65M657.09 185.65L661.05 181.69" stroke="#0c920c" stroke-width="1.0"/><circle cx="675.42" cy="181.85" r="2.75" fill="#50ea50" stroke="#0c920c" stroke-width="0.9"/><path d="M673.44 179.87L677.40 183.83M673.44 183.83L677.40 179.87" stroke="#0c920c" stroke-width="1.0"/></g><text x="531.40" y="272.50" text-anchor="end" font-size="6.4">70</text><text x="531.40" y="254.26" text-anchor="end" font-size="6.4">75</text><text x="531.40" y="236.02" text-anchor="end" font-size="6.4">80</text><text x="531.40" y="217.78" text-anchor="end" font-size="6.4">85</text><text x="531.40" y="199.54" text-anchor="end" font-size="6.4">90</text><text x="531.40" y="181.30" text-anchor="end" font-size="6.4">95</text><text x="544.58" y="280.40" text-anchor="middle" font-size="6.4">10</text><text x="560.93" y="280.40" text-anchor="middle" font-size="6.4">20</text><text x="577.29" y="280.40" text-anchor="middle" font-size="6.4">30</text><text x="593.64" y="280.40" text-anchor="middle" font-size="6.4">40</text><text x="610.00" y="280.40" text-anchor="middle" font-size="6.4">50</text><text x="626.36" y="280.40" text-anchor="middle" font-size="6.4">60</text><text x="642.71" y="280.40" text-anchor="middle" font-size="6.4">70</text><text x="659.07" y="280.40" text-anchor="middle" font-size="6.4">80</text><text x="675.42" y="280.40" text-anchor="middle" font-size="6.4">90</text><text x="609.05" y="170.80" text-anchor="middle" font-size="6.8" textLength="20.7" lengthAdjust="spacingAndGlyphs">GLI<tspan dy="-0.9">_</tspan><tspan dy="0.9">85</tspan></text><clipPath id="c9"><rect x="27.5" y="298.6" width="148.0" height="96.69999999999999"/></clipPath><line x1="27.5" x2="175.5" y1="388.10" y2="388.10" stroke="#dedede" stroke-width="1.2"/><line x1="27.5" x2="33.0" y1="388.10" y2="388.10" stroke="#a8a8a8" stroke-width="1"/><line x1="170.0" x2="175.5" y1="388.10" y2="388.10" stroke="#a8a8a8" stroke-width="1"/><line x1="27.5" x2="175.5" y1="375.91" y2="375.91" stroke="#dedede" stroke-width="1.2"/><line x1="27.5" x2="33.0" y1="375.91" y2="375.91" stroke="#a8a8a8" stroke-width="1"/><line x1="170.0" x2="175.5" y1="375.91" y2="375.91" stroke="#a8a8a8" stroke-width="1"/><line x1="27.5" x2="175.5" y1="363.73" y2="363.73" stroke="#dedede" stroke-width="1.2"/><line x1="27.5" x2="33.0" y1="363.73" y2="363.73" stroke="#a8a8a8" stroke-width="1"/><line x1="170.0" x2="175.5" y1="363.73" y2="363.73" stroke="#a8a8a8" stroke-width="1"/><line x1="27.5" x2="175.5" y1="351.54" y2="351.54" stroke="#dedede" stroke-width="1.2"/><line x1="27.5" x2="33.0" y1="351.54" y2="351.54" stroke="#a8a8a8" stroke-width="1"/><line x1="170.0" x2="175.5" y1="351.54" y2="351.54" stroke="#a8a8a8" stroke-width="1"/><line x1="27.5" x2="175.5" y1="339.36" y2="339.36" stroke="#dedede" stroke-width="1.2"/><line x1="27.5" x2="33.0" y1="339.36" y2="339.36" stroke="#a8a8a8" stroke-width="1"/><line x1="170.0" x2="175.5" y1="339.36" y2="339.36" stroke="#a8a8a8" stroke-width="1"/><line x1="27.5" x2="175.5" y1="327.17" y2="327.17" stroke="#dedede" stroke-width="1.2"/><line x1="27.5" x2="33.0" y1="327.17" y2="327.17" stroke="#a8a8a8" stroke-width="1"/><line x1="170.0" x2="175.5" y1="327.17" y2="327.17" stroke="#a8a8a8" stroke-width="1"/><line x1="27.5" x2="175.5" y1="314.99" y2="314.99" stroke="#dedede" stroke-width="1.2"/><line x1="27.5" x2="33.0" y1="314.99" y2="314.99" stroke="#a8a8a8" stroke-width="1"/><line x1="170.0" x2="175.5" y1="314.99" y2="314.99" stroke="#a8a8a8" stroke-width="1"/><line x1="27.5" x2="175.5" y1="302.80" y2="302.80" stroke="#dedede" stroke-width="1.2"/><line x1="27.5" x2="33.0" y1="302.80" y2="302.80" stroke="#a8a8a8" stroke-width="1"/><line x1="170.0" x2="175.5" y1="302.80" y2="302.80" stroke="#a8a8a8" stroke-width="1"/><path d="M27.5 298.6H175.5V395.3" fill="none" stroke="#7a7a7a" stroke-width="1.1"/><path d="M27.5 298.6V395.3H175.5" fill="none" stroke="#383838" stroke-width="1.05"/><g><path d="M35.72 389.49L52.17 362.14L68.61 353.30L85.06 348.37L101.50 349.35L117.94 350.32L134.39 348.86L150.83 346.40L167.28 348.86" fill="none" stroke="#4a4aff" stroke-width="1.0" clip-path="url(#c9)"/><circle cx="35.72" cy="389.49" r="2.75" fill="#7c7cff" stroke="#3030ff" stroke-width="0.9"/><circle cx="52.17" cy="362.14" r="2.75" fill="#7c7cff" stroke="#3030ff" stroke-width="0.9"/><circle cx="68.61" cy="353.30" r="2.75" fill="#7c7cff" stroke="#3030ff" stroke-width="0.9"/><circle cx="85.06" cy="348.37" r="2.75" fill="#7c7cff" stroke="#3030ff" stroke-width="0.9"/><circle cx="101.50" cy="349.35" r="2.75" fill="#7c7cff" stroke="#3030ff" stroke-width="0.9"/><circle cx="117.94" cy="350.32" r="2.75" fill="#7c7cff" stroke="#3030ff" stroke-width="0.9"/><circle cx="134.39" cy="348.86" r="2.75" fill="#7c7cff" stroke="#3030ff" stroke-width="0.9"/><circle cx="150.83" cy="346.40" r="2.75" fill="#7c7cff" stroke="#3030ff" stroke-width="0.9"/><circle cx="167.28" cy="348.86" r="2.75" fill="#7c7cff" stroke="#3030ff" stroke-width="0.9"/><path d="M35.72 382.59L52.17 351.08L68.61 354.76L85.06 355.00L101.50 349.35L117.94 352.54L134.39 355.00L150.83 353.54L167.28 351.32" fill="none" stroke="#ff3a3a" stroke-width="1.0" clip-path="url(#c9)"/><rect x="33.12" y="379.99" width="5.20" height="5.20" fill="#ff7c7c" stroke="#ff2a2a" stroke-width="0.9"/><rect x="49.57" y="348.48" width="5.20" height="5.20" fill="#ff7c7c" stroke="#ff2a2a" stroke-width="0.9"/><rect x="66.01" y="352.16" width="5.20" height="5.20" fill="#ff7c7c" stroke="#ff2a2a" stroke-width="0.9"/><rect x="82.46" y="352.40" width="5.20" height="5.20" fill="#ff7c7c" stroke="#ff2a2a" stroke-width="0.9"/><rect x="98.90" y="346.75" width="5.20" height="5.20" fill="#ff7c7c" stroke="#ff2a2a" stroke-width="0.9"/><rect x="115.34" y="349.94" width="5.20" height="5.20" fill="#ff7c7c" stroke="#ff2a2a" stroke-width="0.9"/><rect x="131.79" y="352.40" width="5.20" height="5.20" fill="#ff7c7c" stroke="#ff2a2a" stroke-width="0.9"/><rect x="148.23" y="350.94" width="5.20" height="5.20" fill="#ff7c7c" stroke="#ff2a2a" stroke-width="0.9"/><rect x="164.68" y="348.72" width="5.20" height="5.20" fill="#ff7c7c" stroke="#ff2a2a" stroke-width="0.9"/><path d="M35.72 346.89L52.17 341.96L68.61 341.96L85.06 337.77L101.50 340.23L117.94 336.04L134.39 335.56L150.83 329.66L167.28 337.04" fill="none" stroke="#a87848" stroke-width="1.0" clip-path="url(#c9)"/><circle cx="35.72" cy="346.89" r="2.75" fill="#d0a878" stroke="#8a5a2a" stroke-width="0.9"/><path d="M33.74 344.91L37.70 348.87M33.74 348.87L37.70 344.91" stroke="#8a5a2a" stroke-width="1.0"/><circle cx="52.17" cy="341.96" r="2.75" fill="#d0a878" stroke="#8a5a2a" stroke-width="0.9"/><path d="M50.19 339.98L54.15 343.94M50.19 343.94L54.15 339.98" stroke="#8a5a2a" stroke-width="1.0"/><circle cx="68.61" cy="341.96" r="2.75" fill="#d0a878" stroke="#8a5a2a" stroke-width="0.9"/><path d="M66.63 339.98L70.59 343.94M66.63 343.94L70.59 339.98" stroke="#8a5a2a" stroke-width="1.0"/><circle cx="85.06" cy="337.77" r="2.75" fill="#d0a878" stroke="#8a5a2a" stroke-width="0.9"/><path d="M83.08 335.79L87.04 339.75M83.08 339.75L87.04 335.79" stroke="#8a5a2a" stroke-width="1.0"/><circle cx="101.50" cy="340.23" r="2.75" fill="#d0a878" stroke="#8a5a2a" stroke-width="0.9"/><path d="M99.52 338.25L103.48 342.21M99.52 342.21L103.48 338.25" stroke="#8a5a2a" stroke-width="1.0"/><circle cx="117.94" cy="336.04" r="2.75" fill="#d0a878" stroke="#8a5a2a" stroke-width="0.9"/><path d="M115.96 334.06L119.92 338.02M115.96 338.02L119.92 334.06" stroke="#8a5a2a" stroke-width="1.0"/><circle cx="134.39" cy="335.56" r="2.75" fill="#d0a878" stroke="#8a5a2a" stroke-width="0.9"/><path d="M132.41 333.58L136.37 337.54M132.41 337.54L136.37 333.58" stroke="#8a5a2a" stroke-width="1.0"/><circle cx="150.83" cy="329.66" r="2.75" fill="#d0a878" stroke="#8a5a2a" stroke-width="0.9"/><path d="M148.85 327.68L152.81 331.64M148.85 331.64L152.81 327.68" stroke="#8a5a2a" stroke-width="1.0"/><circle cx="167.28" cy="337.04" r="2.75" fill="#d0a878" stroke="#8a5a2a" stroke-width="0.9"/><path d="M165.30 335.06L169.26 339.02M165.30 339.02L169.26 335.06" stroke="#8a5a2a" stroke-width="1.0"/><path d="M35.72 364.61L52.17 348.86L68.61 347.13L85.06 343.43L101.50 340.23L117.94 341.48L134.39 331.61L150.83 339.26L167.28 313.89" fill="none" stroke="#111111" stroke-width="1.0" clip-path="url(#c9)"/><path d="M35.72 364.61L35.72 361.41M35.72 364.61L38.77 363.62M35.72 364.61L37.60 367.19M35.72 364.61L33.84 367.19M35.72 364.61L32.68 363.62" stroke="#111111" stroke-width="0.9" fill="none"/><path d="M52.17 348.86L52.17 345.66M52.17 348.86L55.21 347.87M52.17 348.86L54.05 351.45M52.17 348.86L50.29 351.45M52.17 348.86L49.12 347.87" stroke="#111111" stroke-width="0.9" fill="none"/><path d="M68.61 347.13L68.61 343.93M68.61 347.13L71.65 346.14M68.61 347.13L70.49 349.72M68.61 347.13L66.73 349.72M68.61 347.13L65.57 346.14" stroke="#111111" stroke-width="0.9" fill="none"/><path d="M85.06 343.43L85.06 340.23M85.06 343.43L88.10 342.44M85.06 343.43L86.94 346.02M85.06 343.43L83.17 346.02M85.06 343.43L82.01 342.44" stroke="#111111" stroke-width="0.9" fill="none"/><path d="M101.50 340.23L101.50 337.03M101.50 340.23L104.54 339.25M101.50 340.23L103.38 342.82M101.50 340.23L99.62 342.82M101.50 340.23L98.46 339.25" stroke="#111111" stroke-width="0.9" fill="none"/><path d="M117.94 341.48L117.94 338.28M117.94 341.48L120.99 340.49M117.94 341.48L119.83 344.07M117.94 341.48L116.06 344.07M117.94 341.48L114.90 340.49" stroke="#111111" stroke-width="0.9" fill="none"/><path d="M134.39 331.61L134.39 328.41M134.39 331.61L137.43 330.62M134.39 331.61L136.27 334.20M134.39 331.61L132.51 334.20M134.39 331.61L131.35 330.62" stroke="#111111" stroke-width="0.9" fill="none"/><path d="M150.83 339.26L150.83 336.06M150.83 339.26L153.88 338.27M150.83 339.26L152.71 341.85M150.83 339.26L148.95 341.85M150.83 339.26L147.79 338.27" stroke="#111111" stroke-width="0.9" fill="none"/><path d="M167.28 313.89L167.28 310.69M167.28 313.89L170.32 312.90M167.28 313.89L169.16 316.48M167.28 313.89L165.40 316.48M167.28 313.89L164.23 312.90" stroke="#111111" stroke-width="0.9" fill="none"/><path d="M35.72 372.01L52.17 364.61L68.61 354.03L85.06 343.94L101.50 335.56L117.94 332.61L134.39 332.61L150.83 329.66L167.28 330.14" fill="none" stroke="#703050" stroke-width="1.0" clip-path="url(#c9)"/><path d="M35.72 369.01L37.92 372.01L35.72 375.01L33.52 372.01Z" fill="#a86890" stroke="#602040" stroke-width="0.9"/><path d="M52.17 361.61L54.37 364.61L52.17 367.61L49.97 364.61Z" fill="#a86890" stroke="#602040" stroke-width="0.9"/><path d="M68.61 351.03L70.81 354.03L68.61 357.03L66.41 354.03Z" fill="#a86890" stroke="#602040" stroke-width="0.9"/><path d="M85.06 340.94L87.26 343.94L85.06 346.94L82.86 343.94Z" fill="#a86890" stroke="#602040" stroke-width="0.9"/><path d="M101.50 332.56L103.70 335.56L101.50 338.56L99.30 335.56Z" fill="#a86890" stroke="#602040" stroke-width="0.9"/><path d="M117.94 329.61L120.14 332.61L117.94 335.61L115.74 332.61Z" fill="#a86890" stroke="#602040" stroke-width="0.9"/><path d="M134.39 329.61L136.59 332.61L134.39 335.61L132.19 332.61Z" fill="#a86890" stroke="#602040" stroke-width="0.9"/><path d="M150.83 326.66L153.03 329.66L150.83 332.66L148.63 329.66Z" fill="#a86890" stroke="#602040" stroke-width="0.9"/><path d="M167.28 327.14L169.48 330.14L167.28 333.14L165.08 330.14Z" fill="#a86890" stroke="#602040" stroke-width="0.9"/><path d="M35.72 358.71L52.17 346.89L68.61 345.89L85.06 334.82L101.50 330.39L117.94 327.44L134.39 324.47L150.83 323.49L167.28 321.52" fill="none" stroke="#b0b040" stroke-width="1.0" clip-path="url(#c9)"/><circle cx="35.72" cy="358.71" r="2.75" fill="#ffff70" stroke="#a0a030" stroke-width="0.9"/><circle cx="52.17" cy="346.89" r="2.75" fill="#ffff70" stroke="#a0a030" stroke-width="0.9"/><circle cx="68.61" cy="345.89" r="2.75" fill="#ffff70" stroke="#a0a030" stroke-width="0.9"/><circle cx="85.06" cy="334.82" r="2.75" fill="#ffff70" stroke="#a0a030" stroke-width="0.9"/><circle cx="101.50" cy="330.39" r="2.75" fill="#ffff70" stroke="#a0a030" stroke-width="0.9"/><circle cx="117.94" cy="327.44" r="2.75" fill="#ffff70" stroke="#a0a030" stroke-width="0.9"/><circle cx="134.39" cy="324.47" r="2.75" fill="#ffff70" stroke="#a0a030" stroke-width="0.9"/><circle cx="150.83" cy="323.49" r="2.75" fill="#ffff70" stroke="#a0a030" stroke-width="0.9"/><circle cx="167.28" cy="321.52" r="2.75" fill="#ffff70" stroke="#a0a030" stroke-width="0.9"/><path d="M35.72 381.86L52.17 368.31L68.61 348.86L85.06 338.50L101.50 332.61L117.94 327.44L134.39 325.95L150.83 323.49L167.28 323.49" fill="none" stroke="#a07878" stroke-width="1.0" clip-path="url(#c9)"/><rect x="33.12" y="379.26" width="5.20" height="5.20" fill="#ffdada" stroke="#a07a7a" stroke-width="0.9"/><rect x="49.57" y="365.71" width="5.20" height="5.20" fill="#ffdada" stroke="#a07a7a" stroke-width="0.9"/><rect x="66.01" y="346.26" width="5.20" height="5.20" fill="#ffdada" stroke="#a07a7a" stroke-width="0.9"/><rect x="82.46" y="335.90" width="5.20" height="5.20" fill="#ffdada" stroke="#a07a7a" stroke-width="0.9"/><rect x="98.90" y="330.01" width="5.20" height="5.20" fill="#ffdada" stroke="#a07a7a" stroke-width="0.9"/><rect x="115.34" y="324.84" width="5.20" height="5.20" fill="#ffdada" stroke="#a07a7a" stroke-width="0.9"/><rect x="131.79" y="323.35" width="5.20" height="5.20" fill="#ffdada" stroke="#a07a7a" stroke-width="0.9"/><rect x="148.23" y="320.89" width="5.20" height="5.20" fill="#ffdada" stroke="#a07a7a" stroke-width="0.9"/><rect x="164.68" y="320.89" width="5.20" height="5.20" fill="#ffdada" stroke="#a07a7a" stroke-width="0.9"/><path d="M35.72 370.53L52.17 347.13L68.61 351.57L85.06 345.89L101.50 339.99L117.94 340.48L134.39 340.72L150.83 338.50L167.28 335.56" fill="none" stroke="#b0ac80" stroke-width="1.0" clip-path="url(#c9)"/><path d="M35.72 370.53L35.72 367.33M35.72 370.53L38.77 369.54M35.72 370.53L37.60 373.12M35.72 370.53L33.84 373.12M35.72 370.53L32.68 369.54" stroke="#a8a478" stroke-width="0.9" fill="none"/><path d="M52.17 347.13L52.17 343.93M52.17 347.13L55.21 346.14M52.17 347.13L54.05 349.72M52.17 347.13L50.29 349.72M52.17 347.13L49.12 346.14" stroke="#a8a478" stroke-width="0.9" fill="none"/><path d="M68.61 351.57L68.61 348.37M68.61 351.57L71.65 350.58M68.61 351.57L70.49 354.16M68.61 351.57L66.73 354.16M68.61 351.57L65.57 350.58" stroke="#a8a478" stroke-width="0.9" fill="none"/><path d="M85.06 345.89L85.06 342.69M85.06 345.89L88.10 344.90M85.06 345.89L86.94 348.48M85.06 345.89L83.17 348.48M85.06 345.89L82.01 344.90" stroke="#a8a478" stroke-width="0.9" fill="none"/><path d="M101.50 339.99L101.50 336.79M101.50 339.99L104.54 339.00M101.50 339.99L103.38 342.58M101.50 339.99L99.62 342.58M101.50 339.99L98.46 339.00" stroke="#a8a478" stroke-width="0.9" fill="none"/><path d="M117.94 340.48L117.94 337.28M117.94 340.48L120.99 339.49M117.94 340.48L119.83 343.07M117.94 340.48L116.06 343.07M117.94 340.48L114.90 339.49" stroke="#a8a478" stroke-width="0.9" fill="none"/><path d="M134.39 340.72L134.39 337.52M134.39 340.72L137.43 339.73M134.39 340.72L136.27 343.31M134.39 340.72L132.51 343.31M134.39 340.72L131.35 339.73" stroke="#a8a478" stroke-width="0.9" fill="none"/><path d="M150.83 338.50L150.83 335.30M150.83 338.50L153.88 337.52M150.83 338.50L152.71 341.09M150.83 338.50L148.95 341.09M150.83 338.50L147.79 337.52" stroke="#a8a478" stroke-width="0.9" fill="none"/><path d="M167.28 335.56L167.28 332.36M167.28 335.56L170.32 334.57M167.28 335.56L169.16 338.14M167.28 335.56L165.40 338.14M167.28 335.56L164.23 334.57" stroke="#a8a478" stroke-width="0.9" fill="none"/><path d="M35.72 342.94L52.17 328.41L68.61 321.52L85.06 313.13L101.50 310.92L117.94 308.72L134.39 309.70L150.83 307.24L167.28 306.24" fill="none" stroke="#30b030" stroke-width="1.0" clip-path="url(#c9)"/><circle cx="35.72" cy="342.94" r="2.75" fill="#50ea50" stroke="#0c920c" stroke-width="0.9"/><path d="M33.74 340.96L37.70 344.92M33.74 344.92L37.70 340.96" stroke="#0c920c" stroke-width="1.0"/><circle cx="52.17" cy="328.41" r="2.75" fill="#50ea50" stroke="#0c920c" stroke-width="0.9"/><path d="M50.19 326.43L54.15 330.39M50.19 330.39L54.15 326.43" stroke="#0c920c" stroke-width="1.0"/><circle cx="68.61" cy="321.52" r="2.75" fill="#50ea50" stroke="#0c920c" stroke-width="0.9"/><path d="M66.63 319.54L70.59 323.50M66.63 323.50L70.59 319.54" stroke="#0c920c" stroke-width="1.0"/><circle cx="85.06" cy="313.13" r="2.75" fill="#50ea50" stroke="#0c920c" stroke-width="0.9"/><path d="M83.08 311.15L87.04 315.11M83.08 315.11L87.04 311.15" stroke="#0c920c" stroke-width="1.0"/><circle cx="101.50" cy="310.92" r="2.75" fill="#50ea50" stroke="#0c920c" stroke-width="0.9"/><path d="M99.52 308.94L103.48 312.90M99.52 312.90L103.48 308.94" stroke="#0c920c" stroke-width="1.0"/><circle cx="117.94" cy="308.72" r="2.75" fill="#50ea50" stroke="#0c920c" stroke-width="0.9"/><path d="M115.96 306.74L119.92 310.70M115.96 310.70L119.92 306.74" stroke="#0c920c" stroke-width="1.0"/><circle cx="134.39" cy="309.70" r="2.75" fill="#50ea50" stroke="#0c920c" stroke-width="0.9"/><path d="M132.41 307.72L136.37 311.68M132.41 311.68L136.37 307.72" stroke="#0c920c" stroke-width="1.0"/><circle cx="150.83" cy="307.24" r="2.75" fill="#50ea50" stroke="#0c920c" stroke-width="0.9"/><path d="M148.85 305.26L152.81 309.22M148.85 309.22L152.81 305.26" stroke="#0c920c" stroke-width="1.0"/><circle cx="167.28" cy="306.24" r="2.75" fill="#50ea50" stroke="#0c920c" stroke-width="0.9"/><path d="M165.30 304.26L169.26 308.22M165.30 308.22L169.26 304.26" stroke="#0c920c" stroke-width="1.0"/></g><text x="22.50" y="390.40" text-anchor="end" font-size="6.4">55</text><text x="22.50" y="378.21" text-anchor="end" font-size="6.4">60</text><text x="22.50" y="366.03" text-anchor="end" font-size="6.4">65</text><text x="22.50" y="353.84" text-anchor="end" font-size="6.4">70</text><text x="22.50" y="341.66" text-anchor="end" font-size="6.4">75</text><text x="22.50" y="329.47" text-anchor="end" font-size="6.4">80</text><text x="22.50" y="317.29" text-anchor="end" font-size="6.4">85</text><text x="22.50" y="305.10" text-anchor="end" font-size="6.4">90</text><text x="35.72" y="405.20" text-anchor="middle" font-size="6.4">10</text><text x="52.17" y="405.20" text-anchor="middle" font-size="6.4">20</text><text x="68.61" y="405.20" text-anchor="middle" font-size="6.4">30</text><text x="85.06" y="405.20" text-anchor="middle" font-size="6.4">40</text><text x="101.50" y="405.20" text-anchor="middle" font-size="6.4">50</text><text x="117.94" y="405.20" text-anchor="middle" font-size="6.4">60</text><text x="134.39" y="405.20" text-anchor="middle" font-size="6.4">70</text><text x="150.83" y="405.20" text-anchor="middle" font-size="6.4">80</text><text x="167.28" y="405.20" text-anchor="middle" font-size="6.4">90</text><text x="98.90" y="295.70" text-anchor="middle" font-size="6.8" textLength="40.1" lengthAdjust="spacingAndGlyphs">CLL<tspan dy="-0.9">_</tspan><tspan dy="0.9">SUB</tspan><tspan dy="-0.9">_</tspan><tspan dy="0.9">111</tspan></text><text x="101.80" y="419.30" text-anchor="middle" font-size="6.8" textLength="30.5" lengthAdjust="spacingAndGlyphs"># Features</text><text x="0" y="0" font-size="6.8" text-anchor="middle" textLength="8.6" lengthAdjust="spacingAndGlyphs" transform="translate(5.9 347.1) rotate(-90)">CA</text><clipPath id="c10"><rect x="199.5" y="298.6" width="148.0" height="96.69999999999999"/></clipPath><line x1="199.5" x2="347.5" y1="379.55" y2="379.55" stroke="#dedede" stroke-width="1.2"/><line x1="199.5" x2="205.0" y1="379.55" y2="379.55" stroke="#a8a8a8" stroke-width="1"/><line x1="342.0" x2="347.5" y1="379.55" y2="379.55" stroke="#a8a8a8" stroke-width="1"/><line x1="199.5" x2="347.5" y1="364.20" y2="364.20" stroke="#dedede" stroke-width="1.2"/><line x1="199.5" x2="205.0" y1="364.20" y2="364.20" stroke="#a8a8a8" stroke-width="1"/><line x1="342.0" x2="347.5" y1="364.20" y2="364.20" stroke="#a8a8a8" stroke-width="1"/><line x1="199.5" x2="347.5" y1="348.85" y2="348.85" stroke="#dedede" stroke-width="1.2"/><line x1="199.5" x2="205.0" y1="348.85" y2="348.85" stroke="#a8a8a8" stroke-width="1"/><line x1="342.0" x2="347.5" y1="348.85" y2="348.85" stroke="#a8a8a8" stroke-width="1"/><line x1="199.5" x2="347.5" y1="333.50" y2="333.50" stroke="#dedede" stroke-width="1.2"/><line x1="199.5" x2="205.0" y1="333.50" y2="333.50" stroke="#a8a8a8" stroke-width="1"/><line x1="342.0" x2="347.5" y1="333.50" y2="333.50" stroke="#a8a8a8" stroke-width="1"/><line x1="199.5" x2="347.5" y1="318.15" y2="318.15" stroke="#dedede" stroke-width="1.2"/><line x1="199.5" x2="205.0" y1="318.15" y2="318.15" stroke="#a8a8a8" stroke-width="1"/><line x1="342.0" x2="347.5" y1="318.15" y2="318.15" stroke="#a8a8a8" stroke-width="1"/><line x1="199.5" x2="347.5" y1="302.80" y2="302.80" stroke="#dedede" stroke-width="1.2"/><line x1="199.5" x2="205.0" y1="302.80" y2="302.80" stroke="#a8a8a8" stroke-width="1"/><line x1="342.0" x2="347.5" y1="302.80" y2="302.80" stroke="#a8a8a8" stroke-width="1"/><path d="M199.5 298.6H347.5V395.3" fill="none" stroke="#7a7a7a" stroke-width="1.1"/><path d="M199.5 298.6V395.3H347.5" fill="none" stroke="#383838" stroke-width="1.05"/><g><path d="M207.72 375.10L224.17 371.08L240.61 362.76L257.06 362.76L273.50 356.25L289.94 354.10L306.39 358.43L322.83 351.92L339.28 356.25" fill="none" stroke="#4a4aff" stroke-width="1.0" clip-path="url(#c10)"/><circle cx="207.72" cy="375.10" r="2.75" fill="#7c7cff" stroke="#3030ff" stroke-width="0.9"/><circle cx="224.17" cy="371.08" r="2.75" fill="#7c7cff" stroke="#3030ff" stroke-width="0.9"/><circle cx="240.61" cy="362.76" r="2.75" fill="#7c7cff" stroke="#3030ff" stroke-width="0.9"/><circle cx="257.06" cy="362.76" r="2.75" fill="#7c7cff" stroke="#3030ff" stroke-width="0.9"/><circle cx="273.50" cy="356.25" r="2.75" fill="#7c7cff" stroke="#3030ff" stroke-width="0.9"/><circle cx="289.94" cy="354.10" r="2.75" fill="#7c7cff" stroke="#3030ff" stroke-width="0.9"/><circle cx="306.39" cy="358.43" r="2.75" fill="#7c7cff" stroke="#3030ff" stroke-width="0.9"/><circle cx="322.83" cy="351.92" r="2.75" fill="#7c7cff" stroke="#3030ff" stroke-width="0.9"/><circle cx="339.28" cy="356.25" r="2.75" fill="#7c7cff" stroke="#3030ff" stroke-width="0.9"/><path d="M207.72 376.97L224.17 366.13L240.61 354.10L257.06 351.92L273.50 346.67L289.94 342.96L306.39 342.96L322.83 342.96L339.28 345.14" fill="none" stroke="#ff3a3a" stroke-width="1.0" clip-path="url(#c10)"/><rect x="205.12" y="374.37" width="5.20" height="5.20" fill="#ff7c7c" stroke="#ff2a2a" stroke-width="0.9"/><rect x="221.57" y="363.53" width="5.20" height="5.20" fill="#ff7c7c" stroke="#ff2a2a" stroke-width="0.9"/><rect x="238.01" y="351.50" width="5.20" height="5.20" fill="#ff7c7c" stroke="#ff2a2a" stroke-width="0.9"/><rect x="254.46" y="349.32" width="5.20" height="5.20" fill="#ff7c7c" stroke="#ff2a2a" stroke-width="0.9"/><rect x="270.90" y="344.07" width="5.20" height="5.20" fill="#ff7c7c" stroke="#ff2a2a" stroke-width="0.9"/><rect x="287.34" y="340.36" width="5.20" height="5.20" fill="#ff7c7c" stroke="#ff2a2a" stroke-width="0.9"/><rect x="303.79" y="340.36" width="5.20" height="5.20" fill="#ff7c7c" stroke="#ff2a2a" stroke-width="0.9"/><rect x="320.23" y="340.36" width="5.20" height="5.20" fill="#ff7c7c" stroke="#ff2a2a" stroke-width="0.9"/><rect x="336.68" y="342.54" width="5.20" height="5.20" fill="#ff7c7c" stroke="#ff2a2a" stroke-width="0.9"/><path d="M207.72 310.84L224.17 310.84L240.61 310.84L257.06 310.84L273.50 308.66L289.94 308.66L306.39 306.67L322.83 306.67L339.28 306.67" fill="none" stroke="#a87848" stroke-width="1.0" clip-path="url(#c10)"/><circle cx="207.72" cy="310.84" r="2.75" fill="#d0a878" stroke="#8a5a2a" stroke-width="0.9"/><path d="M205.74 308.86L209.70 312.82M205.74 312.82L209.70 308.86" stroke="#8a5a2a" stroke-width="1.0"/><circle cx="224.17" cy="310.84" r="2.75" fill="#d0a878" stroke="#8a5a2a" stroke-width="0.9"/><path d="M222.19 308.86L226.15 312.82M222.19 312.82L226.15 308.86" stroke="#8a5a2a" stroke-width="1.0"/><circle cx="240.61" cy="310.84" r="2.75" fill="#d0a878" stroke="#8a5a2a" stroke-width="0.9"/><path d="M238.63 308.86L242.59 312.82M238.63 312.82L242.59 308.86" stroke="#8a5a2a" stroke-width="1.0"/><circle cx="257.06" cy="310.84" r="2.75" fill="#d0a878" stroke="#8a5a2a" stroke-width="0.9"/><path d="M255.08 308.86L259.04 312.82M255.08 312.82L259.04 308.86" stroke="#8a5a2a" stroke-width="1.0"/><circle cx="273.50" cy="308.66" r="2.75" fill="#d0a878" stroke="#8a5a2a" stroke-width="0.9"/><path d="M271.52 306.68L275.48 310.64M271.52 310.64L275.48 306.68" stroke="#8a5a2a" stroke-width="1.0"/><circle cx="289.94" cy="308.66" r="2.75" fill="#d0a878" stroke="#8a5a2a" stroke-width="0.9"/><path d="M287.96 306.68L291.92 310.64M287.96 310.64L291.92 306.68" stroke="#8a5a2a" stroke-width="1.0"/><circle cx="306.39" cy="306.67" r="2.75" fill="#d0a878" stroke="#8a5a2a" stroke-width="0.9"/><path d="M304.41 304.69L308.37 308.65M304.41 308.65L308.37 304.69" stroke="#8a5a2a" stroke-width="1.0"/><circle cx="322.83" cy="306.67" r="2.75" fill="#d0a878" stroke="#8a5a2a" stroke-width="0.9"/><path d="M320.85 304.69L324.81 308.65M320.85 308.65L324.81 304.69" stroke="#8a5a2a" stroke-width="1.0"/><circle cx="339.28" cy="306.67" r="2.75" fill="#d0a878" stroke="#8a5a2a" stroke-width="0.9"/><path d="M337.30 304.69L341.26 308.65M337.30 308.65L341.26 304.69" stroke="#8a5a2a" stroke-width="1.0"/><path d="M207.72 310.84L224.17 310.84L240.61 310.84L257.06 310.84L273.50 306.67L289.94 308.66L306.39 306.67L322.83 306.67L339.28 306.67" fill="none" stroke="#111111" stroke-width="1.0" clip-path="url(#c10)"/><path d="M207.72 310.84L207.72 307.64M207.72 310.84L210.77 309.85M207.72 310.84L209.60 313.43M207.72 310.84L205.84 313.43M207.72 310.84L204.68 309.85" stroke="#111111" stroke-width="0.9" fill="none"/><path d="M224.17 310.84L224.17 307.64M224.17 310.84L227.21 309.85M224.17 310.84L226.05 313.43M224.17 310.84L222.29 313.43M224.17 310.84L221.12 309.85" stroke="#111111" stroke-width="0.9" fill="none"/><path d="M240.61 310.84L240.61 307.64M240.61 310.84L243.65 309.85M240.61 310.84L242.49 313.43M240.61 310.84L238.73 313.43M240.61 310.84L237.57 309.85" stroke="#111111" stroke-width="0.9" fill="none"/><path d="M257.06 310.84L257.06 307.64M257.06 310.84L260.10 309.85M257.06 310.84L258.94 313.43M257.06 310.84L255.17 313.43M257.06 310.84L254.01 309.85" stroke="#111111" stroke-width="0.9" fill="none"/><path d="M273.50 306.67L273.50 303.47M273.50 306.67L276.54 305.68M273.50 306.67L275.38 309.26M273.50 306.67L271.62 309.26M273.50 306.67L270.46 305.68" stroke="#111111" stroke-width="0.9" fill="none"/><path d="M289.94 308.66L289.94 305.46M289.94 308.66L292.99 307.67M289.94 308.66L291.83 311.25M289.94 308.66L288.06 311.25M289.94 308.66L286.90 307.67" stroke="#111111" stroke-width="0.9" fill="none"/><path d="M306.39 306.67L306.39 303.47M306.39 306.67L309.43 305.68M306.39 306.67L308.27 309.26M306.39 306.67L304.51 309.26M306.39 306.67L303.35 305.68" stroke="#111111" stroke-width="0.9" fill="none"/><path d="M322.83 306.67L322.83 303.47M322.83 306.67L325.88 305.68M322.83 306.67L324.71 309.26M322.83 306.67L320.95 309.26M322.83 306.67L319.79 305.68" stroke="#111111" stroke-width="0.9" fill="none"/><path d="M339.28 306.67L339.28 303.47M339.28 306.67L342.32 305.68M339.28 306.67L341.16 309.26M339.28 306.67L337.40 309.26M339.28 306.67L336.23 305.68" stroke="#111111" stroke-width="0.9" fill="none"/><path d="M207.72 366.75L224.17 354.71L240.61 341.42L257.06 337.71L273.50 333.07L289.94 330.00L306.39 323.49L322.83 326.59L339.28 326.59" fill="none" stroke="#703050" stroke-width="1.0" clip-path="url(#c10)"/><path d="M207.72 363.75L209.92 366.75L207.72 369.75L205.52 366.75Z" fill="#a86890" stroke="#602040" stroke-width="0.9"/><path d="M224.17 351.71L226.37 354.71L224.17 357.71L221.97 354.71Z" fill="#a86890" stroke="#602040" stroke-width="0.9"/><path d="M240.61 338.42L242.81 341.42L240.61 344.42L238.41 341.42Z" fill="#a86890" stroke="#602040" stroke-width="0.9"/><path d="M257.06 334.71L259.26 337.71L257.06 340.71L254.86 337.71Z" fill="#a86890" stroke="#602040" stroke-width="0.9"/><path d="M273.50 330.07L275.70 333.07L273.50 336.07L271.30 333.07Z" fill="#a86890" stroke="#602040" stroke-width="0.9"/><path d="M289.94 327.00L292.14 330.00L289.94 333.00L287.74 330.00Z" fill="#a86890" stroke="#602040" stroke-width="0.9"/><path d="M306.39 320.49L308.59 323.49L306.39 326.49L304.19 323.49Z" fill="#a86890" stroke="#602040" stroke-width="0.9"/><path d="M322.83 323.59L325.03 326.59L322.83 329.59L320.63 326.59Z" fill="#a86890" stroke="#602040" stroke-width="0.9"/><path d="M339.28 323.59L341.48 326.59L339.28 329.59L337.08 326.59Z" fill="#a86890" stroke="#602040" stroke-width="0.9"/><path d="M207.72 357.81L224.17 337.09L240.61 338.32L257.06 337.40L273.50 331.84L289.94 334.94L306.39 334.02L322.83 331.84L339.28 330.61" fill="none" stroke="#b0b040" stroke-width="1.0" clip-path="url(#c10)"/><circle cx="207.72" cy="357.81" r="2.75" fill="#ffff70" stroke="#a0a030" stroke-width="0.9"/><circle cx="224.17" cy="337.09" r="2.75" fill="#ffff70" stroke="#a0a030" stroke-width="0.9"/><circle cx="240.61" cy="338.32" r="2.75" fill="#ffff70" stroke="#a0a030" stroke-width="0.9"/><circle cx="257.06" cy="337.40" r="2.75" fill="#ffff70" stroke="#a0a030" stroke-width="0.9"/><circle cx="273.50" cy="331.84" r="2.75" fill="#ffff70" stroke="#a0a030" stroke-width="0.9"/><circle cx="289.94" cy="334.94" r="2.75" fill="#ffff70" stroke="#a0a030" stroke-width="0.9"/><circle cx="306.39" cy="334.02" r="2.75" fill="#ffff70" stroke="#a0a030" stroke-width="0.9"/><circle cx="322.83" cy="331.84" r="2.75" fill="#ffff70" stroke="#a0a030" stroke-width="0.9"/><circle cx="339.28" cy="330.61" r="2.75" fill="#ffff70" stroke="#a0a030" stroke-width="0.9"/><path d="M207.72 369.54L224.17 348.85L240.61 344.52L257.06 340.50L273.50 334.02L289.94 335.56L306.39 336.17L322.83 330.31L339.28 330.31" fill="none" stroke="#a07878" stroke-width="1.0" clip-path="url(#c10)"/><rect x="205.12" y="366.94" width="5.20" height="5.20" fill="#ffdada" stroke="#a07a7a" stroke-width="0.9"/><rect x="221.57" y="346.25" width="5.20" height="5.20" fill="#ffdada" stroke="#a07a7a" stroke-width="0.9"/><rect x="238.01" y="341.92" width="5.20" height="5.20" fill="#ffdada" stroke="#a07a7a" stroke-width="0.9"/><rect x="254.46" y="337.90" width="5.20" height="5.20" fill="#ffdada" stroke="#a07a7a" stroke-width="0.9"/><rect x="270.90" y="331.42" width="5.20" height="5.20" fill="#ffdada" stroke="#a07a7a" stroke-width="0.9"/><rect x="287.34" y="332.96" width="5.20" height="5.20" fill="#ffdada" stroke="#a07a7a" stroke-width="0.9"/><rect x="303.79" y="333.57" width="5.20" height="5.20" fill="#ffdada" stroke="#a07a7a" stroke-width="0.9"/><rect x="320.23" y="327.71" width="5.20" height="5.20" fill="#ffdada" stroke="#a07a7a" stroke-width="0.9"/><rect x="336.68" y="327.71" width="5.20" height="5.20" fill="#ffdada" stroke="#a07a7a" stroke-width="0.9"/><path d="M207.72 368.31L224.17 353.18L240.61 339.89L257.06 330.00L273.50 327.51L289.94 325.06L306.39 329.69L322.83 325.06L339.28 325.06" fill="none" stroke="#b0ac80" stroke-width="1.0" clip-path="url(#c10)"/><path d="M207.72 368.31L207.72 365.11M207.72 368.31L210.77 367.32M207.72 368.31L209.60 370.90M207.72 368.31L205.84 370.90M207.72 368.31L204.68 367.32" stroke="#a8a478" stroke-width="0.9" fill="none"/><path d="M224.17 353.18L224.17 349.98M224.17 353.18L227.21 352.19M224.17 353.18L226.05 355.77M224.17 353.18L222.29 355.77M224.17 353.18L221.12 352.19" stroke="#a8a478" stroke-width="0.9" fill="none"/><path d="M240.61 339.89L240.61 336.69M240.61 339.89L243.65 338.90M240.61 339.89L242.49 342.47M240.61 339.89L238.73 342.47M240.61 339.89L237.57 338.90" stroke="#a8a478" stroke-width="0.9" fill="none"/><path d="M257.06 330.00L257.06 326.80M257.06 330.00L260.10 329.01M257.06 330.00L258.94 332.59M257.06 330.00L255.17 332.59M257.06 330.00L254.01 329.01" stroke="#a8a478" stroke-width="0.9" fill="none"/><path d="M273.50 327.51L273.50 324.31M273.50 327.51L276.54 326.52M273.50 327.51L275.38 330.10M273.50 327.51L271.62 330.10M273.50 327.51L270.46 326.52" stroke="#a8a478" stroke-width="0.9" fill="none"/><path d="M289.94 325.06L289.94 321.86M289.94 325.06L292.99 324.07M289.94 325.06L291.83 327.65M289.94 325.06L288.06 327.65M289.94 325.06L286.90 324.07" stroke="#a8a478" stroke-width="0.9" fill="none"/><path d="M306.39 329.69L306.39 326.49M306.39 329.69L309.43 328.70M306.39 329.69L308.27 332.28M306.39 329.69L304.51 332.28M306.39 329.69L303.35 328.70" stroke="#a8a478" stroke-width="0.9" fill="none"/><path d="M322.83 325.06L322.83 321.86M322.83 325.06L325.88 324.07M322.83 325.06L324.71 327.65M322.83 325.06L320.95 327.65M322.83 325.06L319.79 324.07" stroke="#a8a478" stroke-width="0.9" fill="none"/><path d="M339.28 325.06L339.28 321.86M339.28 325.06L342.32 324.07M339.28 325.06L341.16 327.65M339.28 325.06L337.40 327.65M339.28 325.06L336.23 324.07" stroke="#a8a478" stroke-width="0.9" fill="none"/><path d="M207.72 365.83L224.17 359.96L240.61 359.96L257.06 348.85L273.50 340.50L289.94 340.50L306.39 336.48L322.83 336.48L339.28 336.48" fill="none" stroke="#30b030" stroke-width="1.0" clip-path="url(#c10)"/><circle cx="207.72" cy="365.83" r="2.75" fill="#50ea50" stroke="#0c920c" stroke-width="0.9"/><path d="M205.74 363.85L209.70 367.81M205.74 367.81L209.70 363.85" stroke="#0c920c" stroke-width="1.0"/><circle cx="224.17" cy="359.96" r="2.75" fill="#50ea50" stroke="#0c920c" stroke-width="0.9"/><path d="M222.19 357.98L226.15 361.94M222.19 361.94L226.15 357.98" stroke="#0c920c" stroke-width="1.0"/><circle cx="240.61" cy="359.96" r="2.75" fill="#50ea50" stroke="#0c920c" stroke-width="0.9"/><path d="M238.63 357.98L242.59 361.94M238.63 361.94L242.59 357.98" stroke="#0c920c" stroke-width="1.0"/><circle cx="257.06" cy="348.85" r="2.75" fill="#50ea50" stroke="#0c920c" stroke-width="0.9"/><path d="M255.08 346.87L259.04 350.83M255.08 350.83L259.04 346.87" stroke="#0c920c" stroke-width="1.0"/><circle cx="273.50" cy="340.50" r="2.75" fill="#50ea50" stroke="#0c920c" stroke-width="0.9"/><path d="M271.52 338.52L275.48 342.48M271.52 342.48L275.48 338.52" stroke="#0c920c" stroke-width="1.0"/><circle cx="289.94" cy="340.50" r="2.75" fill="#50ea50" stroke="#0c920c" stroke-width="0.9"/><path d="M287.96 338.52L291.92 342.48M287.96 342.48L291.92 338.52" stroke="#0c920c" stroke-width="1.0"/><circle cx="306.39" cy="336.48" r="2.75" fill="#50ea50" stroke="#0c920c" stroke-width="0.9"/><path d="M304.41 334.50L308.37 338.46M304.41 338.46L308.37 334.50" stroke="#0c920c" stroke-width="1.0"/><circle cx="322.83" cy="336.48" r="2.75" fill="#50ea50" stroke="#0c920c" stroke-width="0.9"/><path d="M320.85 334.50L324.81 338.46M320.85 338.46L324.81 334.50" stroke="#0c920c" stroke-width="1.0"/><circle cx="339.28" cy="336.48" r="2.75" fill="#50ea50" stroke="#0c920c" stroke-width="0.9"/><path d="M337.30 334.50L341.26 338.46M337.30 338.46L341.26 334.50" stroke="#0c920c" stroke-width="1.0"/></g><text x="194.50" y="397.20" text-anchor="end" font-size="6.4">70</text><text x="194.50" y="381.85" text-anchor="end" font-size="6.4">75</text><text x="194.50" y="366.50" text-anchor="end" font-size="6.4">80</text><text x="194.50" y="351.15" text-anchor="end" font-size="6.4">85</text><text x="194.50" y="335.80" text-anchor="end" font-size="6.4">90</text><text x="194.50" y="320.45" text-anchor="end" font-size="6.4">95</text><text x="194.50" y="305.10" text-anchor="end" font-size="6.4">100</text><text x="207.72" y="405.20" text-anchor="middle" font-size="6.4">10</text><text x="224.17" y="405.20" text-anchor="middle" font-size="6.4">20</text><text x="240.61" y="405.20" text-anchor="middle" font-size="6.4">30</text><text x="257.06" y="405.20" text-anchor="middle" font-size="6.4">40</text><text x="273.50" y="405.20" text-anchor="middle" font-size="6.4">50</text><text x="289.94" y="405.20" text-anchor="middle" font-size="6.4">60</text><text x="306.39" y="405.20" text-anchor="middle" font-size="6.4">70</text><text x="322.83" y="405.20" text-anchor="middle" font-size="6.4">80</text><text x="339.28" y="405.20" text-anchor="middle" font-size="6.4">90</text><text x="270.65" y="295.70" text-anchor="middle" font-size="6.8" textLength="24.1" lengthAdjust="spacingAndGlyphs">ALLAML</text><text x="273.80" y="419.30" text-anchor="middle" font-size="6.8" textLength="30.5" lengthAdjust="spacingAndGlyphs"># Features</text><clipPath id="c11"><rect x="367.6" y="298.6" width="147.89999999999998" height="96.69999999999999"/></clipPath><line x1="367.6" x2="515.5" y1="369.03" y2="369.03" stroke="#dedede" stroke-width="1.2"/><line x1="367.6" x2="373.1" y1="369.03" y2="369.03" stroke="#a8a8a8" stroke-width="1"/><line x1="510.0" x2="515.5" y1="369.03" y2="369.03" stroke="#a8a8a8" stroke-width="1"/><line x1="367.6" x2="515.5" y1="343.17" y2="343.17" stroke="#dedede" stroke-width="1.2"/><line x1="367.6" x2="373.1" y1="343.17" y2="343.17" stroke="#a8a8a8" stroke-width="1"/><line x1="510.0" x2="515.5" y1="343.17" y2="343.17" stroke="#a8a8a8" stroke-width="1"/><line x1="367.6" x2="515.5" y1="317.30" y2="317.30" stroke="#dedede" stroke-width="1.2"/><line x1="367.6" x2="373.1" y1="317.30" y2="317.30" stroke="#a8a8a8" stroke-width="1"/><line x1="510.0" x2="515.5" y1="317.30" y2="317.30" stroke="#a8a8a8" stroke-width="1"/><path d="M367.6 298.6H515.5V395.3" fill="none" stroke="#7a7a7a" stroke-width="1.1"/><path d="M367.6 298.6V395.3H515.5" fill="none" stroke="#383838" stroke-width="1.05"/><g><path d="M375.82 373.53L392.25 360.50L408.68 348.44L425.12 344.25L441.55 335.92L457.98 340.11L474.42 331.73L490.85 335.92L507.28 340.11" fill="none" stroke="#4a4aff" stroke-width="1.0" clip-path="url(#c11)"/><circle cx="375.82" cy="373.53" r="2.75" fill="#7c7cff" stroke="#3030ff" stroke-width="0.9"/><circle cx="392.25" cy="360.50" r="2.75" fill="#7c7cff" stroke="#3030ff" stroke-width="0.9"/><circle cx="408.68" cy="348.44" r="2.75" fill="#7c7cff" stroke="#3030ff" stroke-width="0.9"/><circle cx="425.12" cy="344.25" r="2.75" fill="#7c7cff" stroke="#3030ff" stroke-width="0.9"/><circle cx="441.55" cy="335.92" r="2.75" fill="#7c7cff" stroke="#3030ff" stroke-width="0.9"/><circle cx="457.98" cy="340.11" r="2.75" fill="#7c7cff" stroke="#3030ff" stroke-width="0.9"/><circle cx="474.42" cy="331.73" r="2.75" fill="#7c7cff" stroke="#3030ff" stroke-width="0.9"/><circle cx="490.85" cy="335.92" r="2.75" fill="#7c7cff" stroke="#3030ff" stroke-width="0.9"/><circle cx="507.28" cy="340.11" r="2.75" fill="#7c7cff" stroke="#3030ff" stroke-width="0.9"/><path d="M375.82 356.82L392.25 340.11L408.68 331.73L425.12 331.73L441.55 328.06L457.98 331.73L474.42 335.41L490.85 331.73L507.28 331.73" fill="none" stroke="#ff3a3a" stroke-width="1.0" clip-path="url(#c11)"/><rect x="373.22" y="354.22" width="5.20" height="5.20" fill="#ff7c7c" stroke="#ff2a2a" stroke-width="0.9"/><rect x="389.65" y="337.51" width="5.20" height="5.20" fill="#ff7c7c" stroke="#ff2a2a" stroke-width="0.9"/><rect x="406.08" y="329.13" width="5.20" height="5.20" fill="#ff7c7c" stroke="#ff2a2a" stroke-width="0.9"/><rect x="422.52" y="329.13" width="5.20" height="5.20" fill="#ff7c7c" stroke="#ff2a2a" stroke-width="0.9"/><rect x="438.95" y="325.46" width="5.20" height="5.20" fill="#ff7c7c" stroke="#ff2a2a" stroke-width="0.9"/><rect x="455.38" y="329.13" width="5.20" height="5.20" fill="#ff7c7c" stroke="#ff2a2a" stroke-width="0.9"/><rect x="471.82" y="332.81" width="5.20" height="5.20" fill="#ff7c7c" stroke="#ff2a2a" stroke-width="0.9"/><rect x="488.25" y="329.13" width="5.20" height="5.20" fill="#ff7c7c" stroke="#ff2a2a" stroke-width="0.9"/><rect x="504.68" y="329.13" width="5.20" height="5.20" fill="#ff7c7c" stroke="#ff2a2a" stroke-width="0.9"/><path d="M375.82 348.44L392.25 331.73L408.68 327.54L425.12 331.73L441.55 327.54L457.98 327.54L474.42 319.21L490.85 314.51L507.28 328.06" fill="none" stroke="#a87848" stroke-width="1.0" clip-path="url(#c11)"/><circle cx="375.82" cy="348.44" r="2.75" fill="#d0a878" stroke="#8a5a2a" stroke-width="0.9"/><path d="M373.84 346.46L377.80 350.42M373.84 350.42L377.80 346.46" stroke="#8a5a2a" stroke-width="1.0"/><circle cx="392.25" cy="331.73" r="2.75" fill="#d0a878" stroke="#8a5a2a" stroke-width="0.9"/><path d="M390.27 329.75L394.23 333.71M390.27 333.71L394.23 329.75" stroke="#8a5a2a" stroke-width="1.0"/><circle cx="408.68" cy="327.54" r="2.75" fill="#d0a878" stroke="#8a5a2a" stroke-width="0.9"/><path d="M406.70 325.56L410.66 329.52M406.70 329.52L410.66 325.56" stroke="#8a5a2a" stroke-width="1.0"/><circle cx="425.12" cy="331.73" r="2.75" fill="#d0a878" stroke="#8a5a2a" stroke-width="0.9"/><path d="M423.14 329.75L427.10 333.71M423.14 333.71L427.10 329.75" stroke="#8a5a2a" stroke-width="1.0"/><circle cx="441.55" cy="327.54" r="2.75" fill="#d0a878" stroke="#8a5a2a" stroke-width="0.9"/><path d="M439.57 325.56L443.53 329.52M439.57 329.52L443.53 325.56" stroke="#8a5a2a" stroke-width="1.0"/><circle cx="457.98" cy="327.54" r="2.75" fill="#d0a878" stroke="#8a5a2a" stroke-width="0.9"/><path d="M456.00 325.56L459.96 329.52M456.00 329.52L459.96 325.56" stroke="#8a5a2a" stroke-width="1.0"/><circle cx="474.42" cy="319.21" r="2.75" fill="#d0a878" stroke="#8a5a2a" stroke-width="0.9"/><path d="M472.44 317.23L476.40 321.19M472.44 321.19L476.40 317.23" stroke="#8a5a2a" stroke-width="1.0"/><circle cx="490.85" cy="314.51" r="2.75" fill="#d0a878" stroke="#8a5a2a" stroke-width="0.9"/><path d="M488.87 312.53L492.83 316.49M488.87 316.49L492.83 312.53" stroke="#8a5a2a" stroke-width="1.0"/><circle cx="507.28" cy="328.06" r="2.75" fill="#d0a878" stroke="#8a5a2a" stroke-width="0.9"/><path d="M505.30 326.08L509.26 330.04M505.30 330.04L509.26 326.08" stroke="#8a5a2a" stroke-width="1.0"/><path d="M375.82 345.86L392.25 335.92L408.68 327.54L425.12 327.54L441.55 328.06L457.98 323.35L474.42 315.23L490.85 318.33L507.28 323.51" fill="none" stroke="#111111" stroke-width="1.0" clip-path="url(#c11)"/><path d="M375.82 345.86L375.82 342.66M375.82 345.86L378.86 344.87M375.82 345.86L377.70 348.45M375.82 345.86L373.94 348.45M375.82 345.86L372.77 344.87" stroke="#111111" stroke-width="0.9" fill="none"/><path d="M392.25 335.92L392.25 332.72M392.25 335.92L395.29 334.94M392.25 335.92L394.13 338.51M392.25 335.92L390.37 338.51M392.25 335.92L389.21 334.94" stroke="#111111" stroke-width="0.9" fill="none"/><path d="M408.68 327.54L408.68 324.34M408.68 327.54L411.73 326.55M408.68 327.54L410.56 330.13M408.68 327.54L406.80 330.13M408.68 327.54L405.64 326.55" stroke="#111111" stroke-width="0.9" fill="none"/><path d="M425.12 327.54L425.12 324.34M425.12 327.54L428.16 326.55M425.12 327.54L427.00 330.13M425.12 327.54L423.24 330.13M425.12 327.54L422.07 326.55" stroke="#111111" stroke-width="0.9" fill="none"/><path d="M441.55 328.06L441.55 324.86M441.55 328.06L444.59 327.07M441.55 328.06L443.43 330.65M441.55 328.06L439.67 330.65M441.55 328.06L438.51 327.07" stroke="#111111" stroke-width="0.9" fill="none"/><path d="M457.98 323.35L457.98 320.15M457.98 323.35L461.03 322.36M457.98 323.35L459.86 325.94M457.98 323.35L456.10 325.94M457.98 323.35L454.94 322.36" stroke="#111111" stroke-width="0.9" fill="none"/><path d="M474.42 315.23L474.42 312.03M474.42 315.23L477.46 314.24M474.42 315.23L476.30 317.82M474.42 315.23L472.54 317.82M474.42 315.23L471.37 314.24" stroke="#111111" stroke-width="0.9" fill="none"/><path d="M490.85 318.33L490.85 315.13M490.85 318.33L493.89 317.35M490.85 318.33L492.73 320.92M490.85 318.33L488.97 320.92M490.85 318.33L487.81 317.35" stroke="#111111" stroke-width="0.9" fill="none"/><path d="M507.28 323.51L507.28 320.31M507.28 323.51L510.33 322.52M507.28 323.51L509.16 326.10M507.28 323.51L505.40 326.10M507.28 323.51L504.24 322.52" stroke="#111111" stroke-width="0.9" fill="none"/><path d="M375.82 389.21L392.25 356.31L408.68 348.44L425.12 340.11L441.55 335.92L457.98 335.92L474.42 340.11L490.85 331.73L507.28 335.92" fill="none" stroke="#703050" stroke-width="1.0" clip-path="url(#c11)"/><path d="M375.82 386.21L378.02 389.21L375.82 392.21L373.62 389.21Z" fill="#a86890" stroke="#602040" stroke-width="0.9"/><path d="M392.25 353.31L394.45 356.31L392.25 359.31L390.05 356.31Z" fill="#a86890" stroke="#602040" stroke-width="0.9"/><path d="M408.68 345.44L410.88 348.44L408.68 351.44L406.48 348.44Z" fill="#a86890" stroke="#602040" stroke-width="0.9"/><path d="M425.12 337.11L427.32 340.11L425.12 343.11L422.92 340.11Z" fill="#a86890" stroke="#602040" stroke-width="0.9"/><path d="M441.55 332.92L443.75 335.92L441.55 338.92L439.35 335.92Z" fill="#a86890" stroke="#602040" stroke-width="0.9"/><path d="M457.98 332.92L460.18 335.92L457.98 338.92L455.78 335.92Z" fill="#a86890" stroke="#602040" stroke-width="0.9"/><path d="M474.42 337.11L476.62 340.11L474.42 343.11L472.22 340.11Z" fill="#a86890" stroke="#602040" stroke-width="0.9"/><path d="M490.85 328.73L493.05 331.73L490.85 334.73L488.65 331.73Z" fill="#a86890" stroke="#602040" stroke-width="0.9"/><path d="M507.28 332.92L509.48 335.92L507.28 338.92L505.08 335.92Z" fill="#a86890" stroke="#602040" stroke-width="0.9"/><path d="M375.82 369.91L392.25 323.35L408.68 319.21L425.12 319.21L441.55 319.21L457.98 319.21L474.42 319.21L490.85 319.21L507.28 320.77" fill="none" stroke="#b0b040" stroke-width="1.0" clip-path="url(#c11)"/><circle cx="375.82" cy="369.91" r="2.75" fill="#ffff70" stroke="#a0a030" stroke-width="0.9"/><circle cx="392.25" cy="323.35" r="2.75" fill="#ffff70" stroke="#a0a030" stroke-width="0.9"/><circle cx="408.68" cy="319.21" r="2.75" fill="#ffff70" stroke="#a0a030" stroke-width="0.9"/><circle cx="425.12" cy="319.21" r="2.75" fill="#ffff70" stroke="#a0a030" stroke-width="0.9"/><circle cx="441.55" cy="319.21" r="2.75" fill="#ffff70" stroke="#a0a030" stroke-width="0.9"/><circle cx="457.98" cy="319.21" r="2.75" fill="#ffff70" stroke="#a0a030" stroke-width="0.9"/><circle cx="474.42" cy="319.21" r="2.75" fill="#ffff70" stroke="#a0a030" stroke-width="0.9"/><circle cx="490.85" cy="319.21" r="2.75" fill="#ffff70" stroke="#a0a030" stroke-width="0.9"/><circle cx="507.28" cy="320.77" r="2.75" fill="#ffff70" stroke="#a0a030" stroke-width="0.9"/><path d="M375.82 393.92L392.25 373.02L408.68 340.11L425.12 327.54L441.55 335.92L457.98 331.73L474.42 319.21L490.85 306.64L507.28 314.51" fill="none" stroke="#a07878" stroke-width="1.0" clip-path="url(#c11)"/><rect x="373.22" y="391.32" width="5.20" height="5.20" fill="#ffdada" stroke="#a07a7a" stroke-width="0.9"/><rect x="389.65" y="370.42" width="5.20" height="5.20" fill="#ffdada" stroke="#a07a7a" stroke-width="0.9"/><rect x="406.08" y="337.51" width="5.20" height="5.20" fill="#ffdada" stroke="#a07a7a" stroke-width="0.9"/><rect x="422.52" y="324.94" width="5.20" height="5.20" fill="#ffdada" stroke="#a07a7a" stroke-width="0.9"/><rect x="438.95" y="333.32" width="5.20" height="5.20" fill="#ffdada" stroke="#a07a7a" stroke-width="0.9"/><rect x="455.38" y="329.13" width="5.20" height="5.20" fill="#ffdada" stroke="#a07a7a" stroke-width="0.9"/><rect x="471.82" y="316.61" width="5.20" height="5.20" fill="#ffdada" stroke="#a07a7a" stroke-width="0.9"/><rect x="488.25" y="304.04" width="5.20" height="5.20" fill="#ffdada" stroke="#a07a7a" stroke-width="0.9"/><rect x="504.68" y="311.91" width="5.20" height="5.20" fill="#ffdada" stroke="#a07a7a" stroke-width="0.9"/><path d="M375.82 353.67L392.25 346.89L408.68 327.54L425.12 314.51L441.55 322.32L457.98 319.21L474.42 323.35L490.85 331.27L507.28 319.89" fill="none" stroke="#b0ac80" stroke-width="1.0" clip-path="url(#c11)"/><path d="M375.82 353.67L375.82 350.47M375.82 353.67L378.86 352.68M375.82 353.67L377.70 356.26M375.82 353.67L373.94 356.26M375.82 353.67L372.77 352.68" stroke="#a8a478" stroke-width="0.9" fill="none"/><path d="M392.25 346.89L392.25 343.69M392.25 346.89L395.29 345.90M392.25 346.89L394.13 349.48M392.25 346.89L390.37 349.48M392.25 346.89L389.21 345.90" stroke="#a8a478" stroke-width="0.9" fill="none"/><path d="M408.68 327.54L408.68 324.34M408.68 327.54L411.73 326.55M408.68 327.54L410.56 330.13M408.68 327.54L406.80 330.13M408.68 327.54L405.64 326.55" stroke="#a8a478" stroke-width="0.9" fill="none"/><path d="M425.12 314.51L425.12 311.31M425.12 314.51L428.16 313.52M425.12 314.51L427.00 317.10M425.12 314.51L423.24 317.10M425.12 314.51L422.07 313.52" stroke="#a8a478" stroke-width="0.9" fill="none"/><path d="M441.55 322.32L441.55 319.12M441.55 322.32L444.59 321.33M441.55 322.32L443.43 324.91M441.55 322.32L439.67 324.91M441.55 322.32L438.51 321.33" stroke="#a8a478" stroke-width="0.9" fill="none"/><path d="M457.98 319.21L457.98 316.01M457.98 319.21L461.03 318.23M457.98 319.21L459.86 321.80M457.98 319.21L456.10 321.80M457.98 319.21L454.94 318.23" stroke="#a8a478" stroke-width="0.9" fill="none"/><path d="M474.42 323.35L474.42 320.15M474.42 323.35L477.46 322.36M474.42 323.35L476.30 325.94M474.42 323.35L472.54 325.94M474.42 323.35L471.37 322.36" stroke="#a8a478" stroke-width="0.9" fill="none"/><path d="M490.85 331.27L490.85 328.07M490.85 331.27L493.89 330.28M490.85 331.27L492.73 333.86M490.85 331.27L488.97 333.86M490.85 331.27L487.81 330.28" stroke="#a8a478" stroke-width="0.9" fill="none"/><path d="M507.28 319.89L507.28 316.69M507.28 319.89L510.33 318.90M507.28 319.89L509.16 322.48M507.28 319.89L505.40 322.48M507.28 319.89L504.24 318.90" stroke="#a8a478" stroke-width="0.9" fill="none"/><path d="M375.82 344.25L392.25 319.21L408.68 314.51L425.12 310.83L441.55 310.83L457.98 306.64L474.42 306.64L490.85 306.64L507.28 306.64" fill="none" stroke="#30b030" stroke-width="1.0" clip-path="url(#c11)"/><circle cx="375.82" cy="344.25" r="2.75" fill="#50ea50" stroke="#0c920c" stroke-width="0.9"/><path d="M373.84 342.27L377.80 346.23M373.84 346.23L377.80 342.27" stroke="#0c920c" stroke-width="1.0"/><circle cx="392.25" cy="319.21" r="2.75" fill="#50ea50" stroke="#0c920c" stroke-width="0.9"/><path d="M390.27 317.23L394.23 321.19M390.27 321.19L394.23 317.23" stroke="#0c920c" stroke-width="1.0"/><circle cx="408.68" cy="314.51" r="2.75" fill="#50ea50" stroke="#0c920c" stroke-width="0.9"/><path d="M406.70 312.53L410.66 316.49M406.70 316.49L410.66 312.53" stroke="#0c920c" stroke-width="1.0"/><circle cx="425.12" cy="310.83" r="2.75" fill="#50ea50" stroke="#0c920c" stroke-width="0.9"/><path d="M423.14 308.85L427.10 312.81M423.14 312.81L427.10 308.85" stroke="#0c920c" stroke-width="1.0"/><circle cx="441.55" cy="310.83" r="2.75" fill="#50ea50" stroke="#0c920c" stroke-width="0.9"/><path d="M439.57 308.85L443.53 312.81M439.57 312.81L443.53 308.85" stroke="#0c920c" stroke-width="1.0"/><circle cx="457.98" cy="306.64" r="2.75" fill="#50ea50" stroke="#0c920c" stroke-width="0.9"/><path d="M456.00 304.66L459.96 308.62M456.00 308.62L459.96 304.66" stroke="#0c920c" stroke-width="1.0"/><circle cx="474.42" cy="306.64" r="2.75" fill="#50ea50" stroke="#0c920c" stroke-width="0.9"/><path d="M472.44 304.66L476.40 308.62M472.44 308.62L476.40 304.66" stroke="#0c920c" stroke-width="1.0"/><circle cx="490.85" cy="306.64" r="2.75" fill="#50ea50" stroke="#0c920c" stroke-width="0.9"/><path d="M488.87 304.66L492.83 308.62M488.87 308.62L492.83 304.66" stroke="#0c920c" stroke-width="1.0"/><circle cx="507.28" cy="306.64" r="2.75" fill="#50ea50" stroke="#0c920c" stroke-width="0.9"/><path d="M505.30 304.66L509.26 308.62M505.30 308.62L509.26 304.66" stroke="#0c920c" stroke-width="1.0"/></g><text x="362.60" y="397.20" text-anchor="end" font-size="6.4">75</text><text x="362.60" y="371.33" text-anchor="end" font-size="6.4">80</text><text x="362.60" y="345.47" text-anchor="end" font-size="6.4">85</text><text x="362.60" y="319.60" text-anchor="end" font-size="6.4">90</text><text x="375.82" y="405.20" text-anchor="middle" font-size="6.4">10</text><text x="392.25" y="405.20" text-anchor="middle" font-size="6.4">20</text><text x="408.68" y="405.20" text-anchor="middle" font-size="6.4">30</text><text x="425.12" y="405.20" text-anchor="middle" font-size="6.4">40</text><text x="441.55" y="405.20" text-anchor="middle" font-size="6.4">50</text><text x="457.98" y="405.20" text-anchor="middle" font-size="6.4">60</text><text x="474.42" y="405.20" text-anchor="middle" font-size="6.4">70</text><text x="490.85" y="405.20" text-anchor="middle" font-size="6.4">80</text><text x="507.28" y="405.20" text-anchor="middle" font-size="6.4">90</text><text x="441.90" y="295.70" text-anchor="middle" font-size="6.8" textLength="16.8" lengthAdjust="spacingAndGlyphs">colon</text><text x="441.85" y="419.30" text-anchor="middle" font-size="6.8" textLength="30.5" lengthAdjust="spacingAndGlyphs"># Features</text><clipPath id="c12"><rect x="536.4" y="298.6" width="147.20000000000005" height="96.69999999999999"/></clipPath><line x1="536.4" x2="683.6" y1="378.42" y2="378.42" stroke="#dedede" stroke-width="1.2"/><line x1="536.4" x2="541.9" y1="378.42" y2="378.42" stroke="#a8a8a8" stroke-width="1"/><line x1="678.1" x2="683.6" y1="378.42" y2="378.42" stroke="#a8a8a8" stroke-width="1"/><line x1="536.4" x2="683.6" y1="361.94" y2="361.94" stroke="#dedede" stroke-width="1.2"/><line x1="536.4" x2="541.9" y1="361.94" y2="361.94" stroke="#a8a8a8" stroke-width="1"/><line x1="678.1" x2="683.6" y1="361.94" y2="361.94" stroke="#a8a8a8" stroke-width="1"/><line x1="536.4" x2="683.6" y1="345.46" y2="345.46" stroke="#dedede" stroke-width="1.2"/><line x1="536.4" x2="541.9" y1="345.46" y2="345.46" stroke="#a8a8a8" stroke-width="1"/><line x1="678.1" x2="683.6" y1="345.46" y2="345.46" stroke="#a8a8a8" stroke-width="1"/><line x1="536.4" x2="683.6" y1="328.98" y2="328.98" stroke="#dedede" stroke-width="1.2"/><line x1="536.4" x2="541.9" y1="328.98" y2="328.98" stroke="#a8a8a8" stroke-width="1"/><line x1="678.1" x2="683.6" y1="328.98" y2="328.98" stroke="#a8a8a8" stroke-width="1"/><line x1="536.4" x2="683.6" y1="312.50" y2="312.50" stroke="#dedede" stroke-width="1.2"/><line x1="536.4" x2="541.9" y1="312.50" y2="312.50" stroke="#a8a8a8" stroke-width="1"/><line x1="678.1" x2="683.6" y1="312.50" y2="312.50" stroke="#a8a8a8" stroke-width="1"/><path d="M536.4 298.6H683.6V395.3" fill="none" stroke="#7a7a7a" stroke-width="1.1"/><path d="M536.4 298.6V395.3H683.6" fill="none" stroke="#383838" stroke-width="1.05"/><g><path d="M544.58 347.92L560.93 339.96L577.29 338.47L593.64 330.18L610.00 330.18L626.36 329.01L642.71 331.67L659.07 329.01L675.42 330.18" fill="none" stroke="#4a4aff" stroke-width="1.0" clip-path="url(#c12)"/><circle cx="544.58" cy="347.92" r="2.75" fill="#7c7cff" stroke="#3030ff" stroke-width="0.9"/><circle cx="560.93" cy="339.96" r="2.75" fill="#7c7cff" stroke="#3030ff" stroke-width="0.9"/><circle cx="577.29" cy="338.47" r="2.75" fill="#7c7cff" stroke="#3030ff" stroke-width="0.9"/><circle cx="593.64" cy="330.18" r="2.75" fill="#7c7cff" stroke="#3030ff" stroke-width="0.9"/><circle cx="610.00" cy="330.18" r="2.75" fill="#7c7cff" stroke="#3030ff" stroke-width="0.9"/><circle cx="626.36" cy="329.01" r="2.75" fill="#7c7cff" stroke="#3030ff" stroke-width="0.9"/><circle cx="642.71" cy="331.67" r="2.75" fill="#7c7cff" stroke="#3030ff" stroke-width="0.9"/><circle cx="659.07" cy="329.01" r="2.75" fill="#7c7cff" stroke="#3030ff" stroke-width="0.9"/><circle cx="675.42" cy="330.18" r="2.75" fill="#7c7cff" stroke="#3030ff" stroke-width="0.9"/><path d="M544.58 335.47L560.93 317.08L577.29 312.27L593.64 309.29L610.00 307.79L626.36 309.29L642.71 307.79L659.07 306.30L675.42 308.79" fill="none" stroke="#ff3a3a" stroke-width="1.0" clip-path="url(#c12)"/><rect x="541.98" y="332.87" width="5.20" height="5.20" fill="#ff7c7c" stroke="#ff2a2a" stroke-width="0.9"/><rect x="558.33" y="314.48" width="5.20" height="5.20" fill="#ff7c7c" stroke="#ff2a2a" stroke-width="0.9"/><rect x="574.69" y="309.67" width="5.20" height="5.20" fill="#ff7c7c" stroke="#ff2a2a" stroke-width="0.9"/><rect x="591.04" y="306.69" width="5.20" height="5.20" fill="#ff7c7c" stroke="#ff2a2a" stroke-width="0.9"/><rect x="607.40" y="305.19" width="5.20" height="5.20" fill="#ff7c7c" stroke="#ff2a2a" stroke-width="0.9"/><rect x="623.76" y="306.69" width="5.20" height="5.20" fill="#ff7c7c" stroke="#ff2a2a" stroke-width="0.9"/><rect x="640.11" y="305.19" width="5.20" height="5.20" fill="#ff7c7c" stroke="#ff2a2a" stroke-width="0.9"/><rect x="656.47" y="303.70" width="5.20" height="5.20" fill="#ff7c7c" stroke="#ff2a2a" stroke-width="0.9"/><rect x="672.82" y="306.19" width="5.20" height="5.20" fill="#ff7c7c" stroke="#ff2a2a" stroke-width="0.9"/><path d="M544.58 350.40L560.93 336.97L577.29 315.58L593.64 320.06L610.00 320.06L626.36 315.58L642.71 315.58L659.07 312.60L675.42 315.58" fill="none" stroke="#a87848" stroke-width="1.0" clip-path="url(#c12)"/><circle cx="544.58" cy="350.40" r="2.75" fill="#d0a878" stroke="#8a5a2a" stroke-width="0.9"/><path d="M542.60 348.42L546.56 352.38M542.60 352.38L546.56 348.42" stroke="#8a5a2a" stroke-width="1.0"/><circle cx="560.93" cy="336.97" r="2.75" fill="#d0a878" stroke="#8a5a2a" stroke-width="0.9"/><path d="M558.95 334.99L562.91 338.95M558.95 338.95L562.91 334.99" stroke="#8a5a2a" stroke-width="1.0"/><circle cx="577.29" cy="315.58" r="2.75" fill="#d0a878" stroke="#8a5a2a" stroke-width="0.9"/><path d="M575.31 313.60L579.27 317.56M575.31 317.56L579.27 313.60" stroke="#8a5a2a" stroke-width="1.0"/><circle cx="593.64" cy="320.06" r="2.75" fill="#d0a878" stroke="#8a5a2a" stroke-width="0.9"/><path d="M591.66 318.08L595.62 322.04M591.66 322.04L595.62 318.08" stroke="#8a5a2a" stroke-width="1.0"/><circle cx="610.00" cy="320.06" r="2.75" fill="#d0a878" stroke="#8a5a2a" stroke-width="0.9"/><path d="M608.02 318.08L611.98 322.04M608.02 322.04L611.98 318.08" stroke="#8a5a2a" stroke-width="1.0"/><circle cx="626.36" cy="315.58" r="2.75" fill="#d0a878" stroke="#8a5a2a" stroke-width="0.9"/><path d="M624.38 313.60L628.34 317.56M624.38 317.56L628.34 313.60" stroke="#8a5a2a" stroke-width="1.0"/><circle cx="642.71" cy="315.58" r="2.75" fill="#d0a878" stroke="#8a5a2a" stroke-width="0.9"/><path d="M640.73 313.60L644.69 317.56M640.73 317.56L644.69 313.60" stroke="#8a5a2a" stroke-width="1.0"/><circle cx="659.07" cy="312.60" r="2.75" fill="#d0a878" stroke="#8a5a2a" stroke-width="0.9"/><path d="M657.09 310.62L661.05 314.58M657.09 314.58L661.05 310.62" stroke="#8a5a2a" stroke-width="1.0"/><circle cx="675.42" cy="315.58" r="2.75" fill="#d0a878" stroke="#8a5a2a" stroke-width="0.9"/><path d="M673.44 313.60L677.40 317.56M673.44 317.56L677.40 313.60" stroke="#8a5a2a" stroke-width="1.0"/><path d="M544.58 356.20L560.93 345.92L577.29 347.42L593.64 343.76L610.00 332.49L626.36 324.53L642.71 317.58L659.07 312.60L675.42 313.26" fill="none" stroke="#111111" stroke-width="1.0" clip-path="url(#c12)"/><path d="M544.58 356.20L544.58 353.00M544.58 356.20L547.62 355.22M544.58 356.20L546.46 358.79M544.58 356.20L542.70 358.79M544.58 356.20L541.53 355.22" stroke="#111111" stroke-width="0.9" fill="none"/><path d="M560.93 345.92L560.93 342.72M560.93 345.92L563.98 344.93M560.93 345.92L562.81 348.51M560.93 345.92L559.05 348.51M560.93 345.92L557.89 344.93" stroke="#111111" stroke-width="0.9" fill="none"/><path d="M577.29 347.42L577.29 344.22M577.29 347.42L580.33 346.43M577.29 347.42L579.17 350.01M577.29 347.42L575.41 350.01M577.29 347.42L574.25 346.43" stroke="#111111" stroke-width="0.9" fill="none"/><path d="M593.64 343.76L593.64 340.56M593.64 343.76L596.69 342.77M593.64 343.76L595.53 346.35M593.64 343.76L591.76 346.35M593.64 343.76L590.60 342.77" stroke="#111111" stroke-width="0.9" fill="none"/><path d="M610.00 332.49L610.00 329.29M610.00 332.49L613.04 331.50M610.00 332.49L611.88 335.08M610.00 332.49L608.12 335.08M610.00 332.49L606.96 331.50" stroke="#111111" stroke-width="0.9" fill="none"/><path d="M626.36 324.53L626.36 321.33M626.36 324.53L629.40 323.54M626.36 324.53L628.24 327.12M626.36 324.53L624.47 327.12M626.36 324.53L623.31 323.54" stroke="#111111" stroke-width="0.9" fill="none"/><path d="M642.71 317.58L642.71 314.38M642.71 317.58L645.75 316.59M642.71 317.58L644.59 320.16M642.71 317.58L640.83 320.16M642.71 317.58L639.67 316.59" stroke="#111111" stroke-width="0.9" fill="none"/><path d="M659.07 312.60L659.07 309.40M659.07 312.60L662.11 311.61M659.07 312.60L660.95 315.19M659.07 312.60L657.19 315.19M659.07 312.60L656.02 311.61" stroke="#111111" stroke-width="0.9" fill="none"/><path d="M675.42 313.26L675.42 310.06M675.42 313.26L678.47 312.27M675.42 313.26L677.30 315.85M675.42 313.26L673.54 315.85M675.42 313.26L672.38 312.27" stroke="#111111" stroke-width="0.9" fill="none"/><path d="M544.58 385.06L560.93 371.12L577.29 360.18L593.64 357.19L610.00 351.89L626.36 347.92L642.71 347.92L659.07 343.76L675.42 341.95" fill="none" stroke="#703050" stroke-width="1.0" clip-path="url(#c12)"/><path d="M544.58 382.06L546.78 385.06L544.58 388.06L542.38 385.06Z" fill="#a86890" stroke="#602040" stroke-width="0.9"/><path d="M560.93 368.12L563.13 371.12L560.93 374.12L558.73 371.12Z" fill="#a86890" stroke="#602040" stroke-width="0.9"/><path d="M577.29 357.18L579.49 360.18L577.29 363.18L575.09 360.18Z" fill="#a86890" stroke="#602040" stroke-width="0.9"/><path d="M593.64 354.19L595.84 357.19L593.64 360.19L591.44 357.19Z" fill="#a86890" stroke="#602040" stroke-width="0.9"/><path d="M610.00 348.89L612.20 351.89L610.00 354.89L607.80 351.89Z" fill="#a86890" stroke="#602040" stroke-width="0.9"/><path d="M626.36 344.92L628.56 347.92L626.36 350.92L624.16 347.92Z" fill="#a86890" stroke="#602040" stroke-width="0.9"/><path d="M642.71 344.92L644.91 347.92L642.71 350.92L640.51 347.92Z" fill="#a86890" stroke="#602040" stroke-width="0.9"/><path d="M659.07 340.76L661.27 343.76L659.07 346.76L656.87 343.76Z" fill="#a86890" stroke="#602040" stroke-width="0.9"/><path d="M675.42 338.95L677.62 341.95L675.42 344.95L673.22 341.95Z" fill="#a86890" stroke="#602040" stroke-width="0.9"/><path d="M544.58 368.98L560.93 356.20L577.29 343.76L593.64 335.47L610.00 329.18L626.36 328.35L642.71 327.53L659.07 323.54L675.42 324.20" fill="none" stroke="#b0b040" stroke-width="1.0" clip-path="url(#c12)"/><circle cx="544.58" cy="368.98" r="2.75" fill="#ffff70" stroke="#a0a030" stroke-width="0.9"/><circle cx="560.93" cy="356.20" r="2.75" fill="#ffff70" stroke="#a0a030" stroke-width="0.9"/><circle cx="577.29" cy="343.76" r="2.75" fill="#ffff70" stroke="#a0a030" stroke-width="0.9"/><circle cx="593.64" cy="335.47" r="2.75" fill="#ffff70" stroke="#a0a030" stroke-width="0.9"/><circle cx="610.00" cy="329.18" r="2.75" fill="#ffff70" stroke="#a0a030" stroke-width="0.9"/><circle cx="626.36" cy="328.35" r="2.75" fill="#ffff70" stroke="#a0a030" stroke-width="0.9"/><circle cx="642.71" cy="327.53" r="2.75" fill="#ffff70" stroke="#a0a030" stroke-width="0.9"/><circle cx="659.07" cy="323.54" r="2.75" fill="#ffff70" stroke="#a0a030" stroke-width="0.9"/><circle cx="675.42" cy="324.20" r="2.75" fill="#ffff70" stroke="#a0a030" stroke-width="0.9"/><path d="M544.58 373.44L560.93 353.39L577.29 350.90L593.64 336.64L610.00 327.53L626.36 332.00L642.71 331.01L659.07 326.52L675.42 321.55" fill="none" stroke="#a07878" stroke-width="1.0" clip-path="url(#c12)"/><rect x="541.98" y="370.84" width="5.20" height="5.20" fill="#ffdada" stroke="#a07a7a" stroke-width="0.9"/><rect x="558.33" y="350.79" width="5.20" height="5.20" fill="#ffdada" stroke="#a07a7a" stroke-width="0.9"/><rect x="574.69" y="348.30" width="5.20" height="5.20" fill="#ffdada" stroke="#a07a7a" stroke-width="0.9"/><rect x="591.04" y="334.04" width="5.20" height="5.20" fill="#ffdada" stroke="#a07a7a" stroke-width="0.9"/><rect x="607.40" y="324.93" width="5.20" height="5.20" fill="#ffdada" stroke="#a07a7a" stroke-width="0.9"/><rect x="623.76" y="329.40" width="5.20" height="5.20" fill="#ffdada" stroke="#a07a7a" stroke-width="0.9"/><rect x="640.11" y="328.41" width="5.20" height="5.20" fill="#ffdada" stroke="#a07a7a" stroke-width="0.9"/><rect x="656.47" y="323.92" width="5.20" height="5.20" fill="#ffdada" stroke="#a07a7a" stroke-width="0.9"/><rect x="672.82" y="318.95" width="5.20" height="5.20" fill="#ffdada" stroke="#a07a7a" stroke-width="0.9"/><path d="M544.58 368.98L560.93 354.89L577.29 344.93L593.64 334.98L610.00 336.97L626.36 331.01L642.71 329.18L659.07 328.35L675.42 327.53" fill="none" stroke="#b0ac80" stroke-width="1.0" clip-path="url(#c12)"/><path d="M544.58 368.98L544.58 365.78M544.58 368.98L547.62 367.99M544.58 368.98L546.46 371.57M544.58 368.98L542.70 371.57M544.58 368.98L541.53 367.99" stroke="#a8a478" stroke-width="0.9" fill="none"/><path d="M560.93 354.89L560.93 351.69M560.93 354.89L563.98 353.90M560.93 354.89L562.81 357.48M560.93 354.89L559.05 357.48M560.93 354.89L557.89 353.90" stroke="#a8a478" stroke-width="0.9" fill="none"/><path d="M577.29 344.93L577.29 341.73M577.29 344.93L580.33 343.94M577.29 344.93L579.17 347.52M577.29 344.93L575.41 347.52M577.29 344.93L574.25 343.94" stroke="#a8a478" stroke-width="0.9" fill="none"/><path d="M593.64 334.98L593.64 331.78M593.64 334.98L596.69 333.99M593.64 334.98L595.53 337.57M593.64 334.98L591.76 337.57M593.64 334.98L590.60 333.99" stroke="#a8a478" stroke-width="0.9" fill="none"/><path d="M610.00 336.97L610.00 333.77M610.00 336.97L613.04 335.98M610.00 336.97L611.88 339.56M610.00 336.97L608.12 339.56M610.00 336.97L606.96 335.98" stroke="#a8a478" stroke-width="0.9" fill="none"/><path d="M626.36 331.01L626.36 327.81M626.36 331.01L629.40 330.02M626.36 331.01L628.24 333.60M626.36 331.01L624.47 333.60M626.36 331.01L623.31 330.02" stroke="#a8a478" stroke-width="0.9" fill="none"/><path d="M642.71 329.18L642.71 325.98M642.71 329.18L645.75 328.19M642.71 329.18L644.59 331.77M642.71 329.18L640.83 331.77M642.71 329.18L639.67 328.19" stroke="#a8a478" stroke-width="0.9" fill="none"/><path d="M659.07 328.35L659.07 325.15M659.07 328.35L662.11 327.36M659.07 328.35L660.95 330.94M659.07 328.35L657.19 330.94M659.07 328.35L656.02 327.36" stroke="#a8a478" stroke-width="0.9" fill="none"/><path d="M675.42 327.53L675.42 324.33M675.42 327.53L678.47 326.54M675.42 327.53L677.30 330.12M675.42 327.53L673.54 330.12M675.42 327.53L672.38 326.54" stroke="#a8a478" stroke-width="0.9" fill="none"/><path d="M544.58 369.47L560.93 354.71L577.29 344.44L593.64 336.97L610.00 332.49L626.36 328.02L642.71 328.02L659.07 327.18L675.42 324.53" fill="none" stroke="#30b030" stroke-width="1.0" clip-path="url(#c12)"/><circle cx="544.58" cy="369.47" r="2.75" fill="#50ea50" stroke="#0c920c" stroke-width="0.9"/><path d="M542.60 367.49L546.56 371.45M542.60 371.45L546.56 367.49" stroke="#0c920c" stroke-width="1.0"/><circle cx="560.93" cy="354.71" r="2.75" fill="#50ea50" stroke="#0c920c" stroke-width="0.9"/><path d="M558.95 352.73L562.91 356.69M558.95 356.69L562.91 352.73" stroke="#0c920c" stroke-width="1.0"/><circle cx="577.29" cy="344.44" r="2.75" fill="#50ea50" stroke="#0c920c" stroke-width="0.9"/><path d="M575.31 342.46L579.27 346.42M575.31 346.42L579.27 342.46" stroke="#0c920c" stroke-width="1.0"/><circle cx="593.64" cy="336.97" r="2.75" fill="#50ea50" stroke="#0c920c" stroke-width="0.9"/><path d="M591.66 334.99L595.62 338.95M591.66 338.95L595.62 334.99" stroke="#0c920c" stroke-width="1.0"/><circle cx="610.00" cy="332.49" r="2.75" fill="#50ea50" stroke="#0c920c" stroke-width="0.9"/><path d="M608.02 330.51L611.98 334.47M608.02 334.47L611.98 330.51" stroke="#0c920c" stroke-width="1.0"/><circle cx="626.36" cy="328.02" r="2.75" fill="#50ea50" stroke="#0c920c" stroke-width="0.9"/><path d="M624.38 326.04L628.34 330.00M624.38 330.00L628.34 326.04" stroke="#0c920c" stroke-width="1.0"/><circle cx="642.71" cy="328.02" r="2.75" fill="#50ea50" stroke="#0c920c" stroke-width="0.9"/><path d="M640.73 326.04L644.69 330.00M640.73 330.00L644.69 326.04" stroke="#0c920c" stroke-width="1.0"/><circle cx="659.07" cy="327.18" r="2.75" fill="#50ea50" stroke="#0c920c" stroke-width="0.9"/><path d="M657.09 325.20L661.05 329.16M657.09 329.16L661.05 325.20" stroke="#0c920c" stroke-width="1.0"/><circle cx="675.42" cy="324.53" r="2.75" fill="#50ea50" stroke="#0c920c" stroke-width="0.9"/><path d="M673.44 322.55L677.40 326.51M673.44 326.51L677.40 322.55" stroke="#0c920c" stroke-width="1.0"/></g><text x="531.40" y="397.20" text-anchor="end" font-size="6.4">20</text><text x="531.40" y="380.72" text-anchor="end" font-size="6.4">30</text><text x="531.40" y="364.24" text-anchor="end" font-size="6.4">40</text><text x="531.40" y="347.76" text-anchor="end" font-size="6.4">50</text><text x="531.40" y="331.28" text-anchor="end" font-size="6.4">60</text><text x="531.40" y="314.80" text-anchor="end" font-size="6.4">70</text><text x="544.58" y="405.20" text-anchor="middle" font-size="6.4">10</text><text x="560.93" y="405.20" text-anchor="middle" font-size="6.4">20</text><text x="577.29" y="405.20" text-anchor="middle" font-size="6.4">30</text><text x="593.64" y="405.20" text-anchor="middle" font-size="6.4">40</text><text x="610.00" y="405.20" text-anchor="middle" font-size="6.4">50</text><text x="626.36" y="405.20" text-anchor="middle" font-size="6.4">60</text><text x="642.71" y="405.20" text-anchor="middle" font-size="6.4">70</text><text x="659.07" y="405.20" text-anchor="middle" font-size="6.4">80</text><text x="675.42" y="405.20" text-anchor="middle" font-size="6.4">90</text><text x="609.10" y="295.70" text-anchor="middle" font-size="6.8" textLength="14.6" lengthAdjust="spacingAndGlyphs">NCI9</text><text x="610.30" y="419.30" text-anchor="middle" font-size="6.8" textLength="30.5" lengthAdjust="spacingAndGlyphs"># Features</text></g><rect x="140.5" y="1.5" width="399.6" height="31.7" fill="#fff" stroke="#4a4a4a" stroke-width="1"/><g font-family='"Liberation Sans", sans-serif' fill='#111111' stroke='#111111' stroke-width='0.18'><line x1="187.1" x2="211.1" y1="9.9" y2="9.9" stroke="#4a4aff" stroke-width="1"/><circle cx="199.10" cy="9.90" r="2.75" fill="#7c7cff" stroke="#3030ff" stroke-width="0.9"/><text x="182.60" y="12.00" text-anchor="end" font-size="6.8" textLength="12.9" lengthAdjust="spacingAndGlyphs">CIFE</text><line x1="197.0" x2="221.0" y1="22.9" y2="22.9" stroke="#b0b040" stroke-width="1"/><circle cx="209.00" cy="22.90" r="2.75" fill="#ffff70" stroke="#a0a030" stroke-width="0.9"/><text x="192.20" y="25.60" text-anchor="end" font-size="6.8" textLength="32.2" lengthAdjust="spacingAndGlyphs">HSIC-Lasso</text><line x1="270.0" x2="294.0" y1="9.7" y2="9.7" stroke="#ff3a3a" stroke-width="1"/><rect x="279.40" y="7.10" width="5.20" height="5.20" fill="#ff7c7c" stroke="#ff2a2a" stroke-width="0.9"/><text x="266.40" y="12.00" text-anchor="end" font-size="6.8" textLength="10.1" lengthAdjust="spacingAndGlyphs">JMI</text><line x1="274.2" x2="298.2" y1="22.9" y2="22.9" stroke="#a07878" stroke-width="1"/><rect x="283.60" y="20.30" width="5.20" height="5.20" fill="#ffdada" stroke="#a07a7a" stroke-width="0.9"/><text x="270.20" y="25.60" text-anchor="end" font-size="6.8" textLength="18.1" lengthAdjust="spacingAndGlyphs">SMNB</text><line x1="349.0" x2="373.0" y1="9.7" y2="9.7" stroke="#a87848" stroke-width="1"/><circle cx="361.00" cy="9.70" r="2.75" fill="#d0a878" stroke="#8a5a2a" stroke-width="0.9"/><path d="M359.02 7.72L362.98 11.68M359.02 11.68L362.98 7.72" stroke="#8a5a2a" stroke-width="1.0"/><text x="346.90" y="12.00" text-anchor="end" font-size="6.8" textLength="17.9" lengthAdjust="spacingAndGlyphs">Fisher</text><line x1="348.3" x2="372.3" y1="22.9" y2="22.9" stroke="#b0ac80" stroke-width="1"/><path d="M360.30 22.90L360.30 19.70M360.30 22.90L363.34 21.91M360.30 22.90L362.18 25.49M360.30 22.90L358.42 25.49M360.30 22.90L357.26 21.91" stroke="#a8a478" stroke-width="0.9" fill="none"/><text x="344.60" y="25.60" text-anchor="end" font-size="6.8" textLength="14.5" lengthAdjust="spacingAndGlyphs">CCM</text><line x1="438.9" x2="462.9" y1="9.7" y2="9.7" stroke="#111111" stroke-width="1"/><path d="M450.90 9.70L450.90 6.50M450.90 9.70L453.94 8.71M450.90 9.70L452.78 12.29M450.90 9.70L449.02 12.29M450.90 9.70L447.86 8.71" stroke="#111111" stroke-width="0.9" fill="none"/><text x="436.70" y="12.00" text-anchor="end" font-size="6.8" textLength="32.7" lengthAdjust="spacingAndGlyphs">Trace Ratio</text><line x1="431.1" x2="455.1" y1="22.9" y2="22.9" stroke="#30b030" stroke-width="1"/><circle cx="443.10" cy="22.90" r="2.75" fill="#50ea50" stroke="#0c920c" stroke-width="0.9"/><path d="M441.12 20.92L445.08 24.88M441.12 24.88L445.08 20.92" stroke="#0c920c" stroke-width="1.0"/><text x="426.50" y="25.60" text-anchor="end" font-size="6.8" textLength="14.6" lengthAdjust="spacingAndGlyphs">SVFS</text><line x1="508.8" x2="532.8" y1="9.7" y2="9.7" stroke="#703050" stroke-width="1"/><path d="M520.80 6.70L523.00 9.70L520.80 12.70L518.60 9.70Z" fill="#a86890" stroke="#602040" stroke-width="0.9"/><text x="506.00" y="12.00" text-anchor="end" font-size="6.8" textLength="12.3" lengthAdjust="spacingAndGlyphs">Lars</text></g></svg>
</body></html>
